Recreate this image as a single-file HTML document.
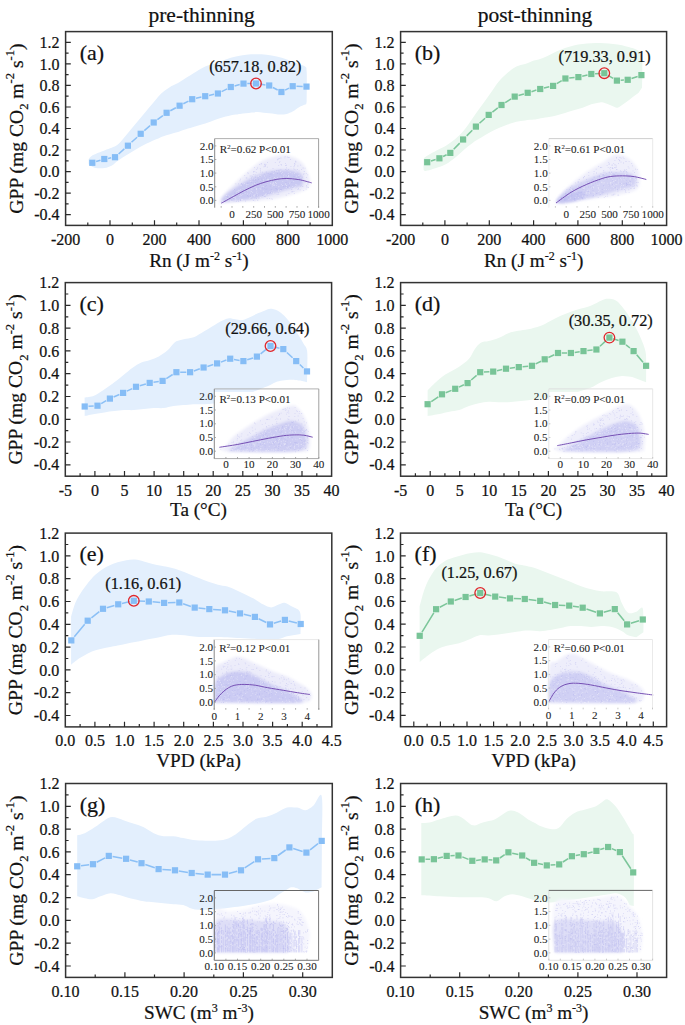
<!DOCTYPE html><html><head><meta charset="utf-8"><style>html,body{margin:0;padding:0;background:#fff;}svg{display:block;}text{stroke:#111;stroke-width:0.22px;}.it{stroke:#222;stroke-width:0.08px;}</style></head><body><svg width="685" height="1025" viewBox="0 0 685 1025" font-family="Liberation Serif, serif">
<rect width="685" height="1025" fill="#fff"/>
<defs><filter id="bl" x="-20%" y="-20%" width="140%" height="140%"><feGaussianBlur stdDeviation="1.6"/></filter><filter id="bl2" x="-20%" y="-20%" width="140%" height="140%"><feGaussianBlur stdDeviation="0.6"/></filter></defs>
<text x="201.6" y="21.9" font-size="21.5" text-anchor="middle" fill="#111">pre-thinning</text>
<text x="535" y="21.9" font-size="21.5" text-anchor="middle" fill="#111">post-thinning</text>
<g>
<path d="M88.6,159.2 C89.3,158.5 90,156.8 92.6,155.3 C95.2,153.8 101.2,151.7 104.4,150.4 C107.6,149.1 109.5,148.6 111.7,147.7 C113.9,146.8 115.5,146.4 117.5,144.8 C119.5,143.2 121.5,140.6 123.4,138.4 C125.4,136.2 127.3,133.7 129.2,131.4 C131.1,129.1 133.1,126.7 135,124.4 C136.9,122.1 139,119.7 140.9,117.4 C142.8,115.1 144.8,112.7 146.7,110.4 C148.6,108.1 150.6,105.7 152.6,103.4 C154.6,101.1 156.5,98.5 158.4,96.4 C160.3,94.4 162.2,92.7 164.2,91.1 C166.1,89.5 168.1,88.2 170.1,87 C172.1,85.8 173.7,85.3 175.9,84.1 C178.1,82.9 180.3,81.6 183.2,79.8 C186.1,78 189.4,75.7 193.1,73.5 C196.8,71.3 201.5,68.3 205.2,66.6 C208.9,64.9 212,64.7 215.4,63.5 C218.8,62.3 222.3,60.6 225.7,59.4 C229.1,58.2 232.5,57.2 235.9,56.4 C239.3,55.6 242.7,55.1 246.1,54.7 C249.5,54.4 252.9,54.3 256.3,54.3 C259.7,54.3 263.1,54.4 266.5,54.7 C269.9,55.1 273.3,55.6 276.7,56.4 C280.1,57.2 283.6,58.2 287,59.4 C290.4,60.6 294.2,62.3 297.2,63.5 C300.2,64.7 303.6,65.4 305.2,66.6 C306.8,67.8 306.3,67.6 306.6,70.7 C306.9,73.8 306.8,79.9 306.8,85 C306.8,90.1 306.7,98.6 306.7,101.3 L306.2,104.2 C305.3,104.5 302.4,105.5 300.7,106.3 C299,107.1 297.4,108.3 296,109.2 C294.6,110.1 294.2,110.7 292.6,111.5 C291.1,112.3 288.6,113.4 286.7,113.9 C284.8,114.4 282.8,114.5 280.9,114.5 C278.9,114.5 276.9,114.1 275,113.9 C273.1,113.7 271.1,113.5 269.2,113.3 C267.3,113.1 265.3,112.9 263.4,112.7 C261.4,112.5 259.4,112.1 257.5,112.1 C255.6,112.1 253.6,112.3 251.7,112.5 C249.8,112.7 247.8,113.1 245.8,113.3 C243.9,113.5 241.7,113.7 240,113.9 C238.3,114.1 238.3,114.1 235.9,114.6 C233.5,115 229.1,115.8 225.7,116.6 C222.3,117.4 218.8,118.5 215.4,119.7 C212,120.9 208.6,122.5 205.2,123.6 C201.8,124.7 198.2,125.6 195,126.5 C191.8,127.4 188.5,128.4 186,129.2 C183.5,130 181.7,130.6 180,131.2 C178.3,131.8 177.6,132.1 175.9,132.6 C174.2,133.1 172.1,133.7 170.1,134.3 C168.1,134.9 166.1,135.4 164.2,136.1 C162.2,136.8 160.3,137.6 158.4,138.4 C156.5,139.2 154.6,139.8 152.6,140.7 C150.6,141.6 148.6,142.6 146.7,143.6 C144.8,144.6 142.8,145.5 140.9,146.6 C139,147.7 136.9,148.9 135,150.1 C133.1,151.3 131.1,152.4 129.2,153.6 C127.3,154.8 125.4,155.9 123.4,157.1 C121.5,158.3 119.4,159.6 117.5,161 C115.6,162.4 114.2,164.3 112,165.5 C109.8,166.7 107.3,167.7 104.4,168.1 C101.5,168.5 97.2,168.3 94.6,167.7 C92,167 89.6,164.8 88.6,164.2 Z" fill="#e3effd"/>
<rect x="214.7" y="138.6" width="103.9" height="69.1" fill="#fff"/>
<path d="M96.1,161.6 L100.5,160.2 M108.1,158.4 L111.2,157.8 M118.6,154 L124.3,148.9 M131.5,142.3 L137.1,137.2 M144.3,130.6 L150.1,125.7 M157.4,119.7 L162.9,115.6 M170.3,110.8 L175.9,107.7 M183.3,103.8 L188.5,101.1 M196,98.3 L201.4,97.1 M209,95.4 L214.1,94.3 M221.6,91.6 L227.1,88.9 M234.6,86 L239.7,84.6 M247.3,83.6 L252.2,83.5 M259.8,84.1 L265.4,84.9 M272.9,87.5 L277.7,90 M285.1,90.1 L289,88.1 M296.5,86.3 L302.7,86.5" stroke="#8cc0f6" stroke-width="1.55" fill="none"/>
<rect x="89.2" y="159.7" width="6.2" height="6.2" fill="#86bdf6"/>
<rect x="101.2" y="155.9" width="6.2" height="6.2" fill="#86bdf6"/>
<rect x="111.9" y="154.1" width="6.2" height="6.2" fill="#86bdf6"/>
<rect x="124.8" y="142.6" width="6.2" height="6.2" fill="#86bdf6"/>
<rect x="137.6" y="130.7" width="6.2" height="6.2" fill="#86bdf6"/>
<rect x="150.6" y="119.4" width="6.2" height="6.2" fill="#86bdf6"/>
<rect x="163.5" y="109.7" width="6.2" height="6.2" fill="#86bdf6"/>
<rect x="176.5" y="102.6" width="6.2" height="6.2" fill="#86bdf6"/>
<rect x="189.1" y="96.1" width="6.2" height="6.2" fill="#86bdf6"/>
<rect x="202.1" y="93.1" width="6.2" height="6.2" fill="#86bdf6"/>
<rect x="214.8" y="90.4" width="6.2" height="6.2" fill="#86bdf6"/>
<rect x="227.7" y="83.9" width="6.2" height="6.2" fill="#86bdf6"/>
<rect x="240.4" y="80.5" width="6.2" height="6.2" fill="#86bdf6"/>
<rect x="252.9" y="80.4" width="6.2" height="6.2" fill="#86bdf6"/>
<rect x="266.1" y="82.4" width="6.2" height="6.2" fill="#86bdf6"/>
<rect x="278.3" y="88.9" width="6.2" height="6.2" fill="#86bdf6"/>
<rect x="289.6" y="83.1" width="6.2" height="6.2" fill="#86bdf6"/>
<rect x="303.4" y="83.5" width="6.2" height="6.2" fill="#86bdf6"/>
<circle cx="256" cy="83.5" r="5.3" fill="none" stroke="#e0262b" stroke-width="1.3"/>
<text x="255.3" y="71.7" font-size="16.3" text-anchor="middle" fill="#111">(657.18, 0.82)</text>
<path d="M219,204 C219.7,202.7 220.8,199 223,196 C225.2,193 228.3,189.7 232,186 C235.7,182.3 240.3,178 245,174 C249.7,170 255.5,164.8 260,162 C264.5,159.2 268,158.2 272,157 C276,155.8 280.2,154.8 284,155 C287.8,155.2 291.8,156.5 295,158 C298.2,159.5 300.8,161.3 303,164 C305.2,166.7 306.8,171 308,174 C309.2,177 310,179.7 310,182 C310,184.3 309.7,186.3 308,188 C306.3,189.7 303,190.8 300,192 C297,193.2 294,193.9 290,195 C286,196.1 281,197.6 276,198.5 C271,199.4 266,200 260,200.5 C254,201 245.8,201.2 240,201.5 C234.2,201.8 227.5,202.3 225,202.5 Z" fill="#ededfa" opacity="1" filter="url(#bl)"/>
<path d="M221.7,198.5 C223,197.3 225.6,194.3 229.5,191.5 C233.4,188.7 239.8,184.4 245,181.5 C250.2,178.6 255.2,175.8 260.4,174 C265.5,172.2 270.7,171.1 275.9,170.5 C281.1,169.9 287.3,170 291.4,170.5 C295.5,171 298.8,171.8 300.7,173.5 C302.6,175.2 303,178.9 303,181 C303,183.1 303.9,184.4 300.7,186 C297.5,187.6 289,189 283.6,190.6 C278.2,192.2 273.4,193.9 268.2,195.3 C263,196.7 257.9,198.2 252.7,199.1 C247.5,200 242.4,200.2 237.2,200.7 C232,201.2 224.3,201.9 221.7,202.2 Z" fill="#c9c9f2" opacity="1" filter="url(#bl)"/>
<path d="M278.2,158.5 h0.8v0.8h-0.8zM267.8,172.9 h0.8v0.8h-0.8zM257.6,195.5 h0.8v0.8h-0.8zM271.5,174.4 h0.8v0.8h-0.8zM297.1,169.2 h0.8v0.8h-0.8zM247.1,195 h0.8v0.8h-0.8zM235.4,183.5 h0.8v0.8h-0.8zM277.1,173.2 h0.8v0.8h-0.8zM280.9,176 h0.8v0.8h-0.8zM247.6,183.7 h0.8v0.8h-0.8zM260.2,169.7 h0.8v0.8h-0.8zM291.3,189.3 h0.8v0.8h-0.8zM241.2,183.1 h0.8v0.8h-0.8zM266.8,197.9 h0.8v0.8h-0.8zM285.4,169.1 h0.8v0.8h-0.8zM257,192.1 h0.8v0.8h-0.8zM288.6,183.1 h0.8v0.8h-0.8zM298.7,170.4 h0.8v0.8h-0.8zM282.3,184.1 h0.8v0.8h-0.8zM271.8,177.4 h0.8v0.8h-0.8zM262.1,187.5 h0.8v0.8h-0.8zM293.8,168.9 h0.8v0.8h-0.8zM254.1,187.8 h0.8v0.8h-0.8zM254.6,197.7 h0.8v0.8h-0.8zM269,198.3 h0.8v0.8h-0.8zM244.3,175.3 h0.8v0.8h-0.8zM251.6,198.3 h0.8v0.8h-0.8zM240.2,178.8 h0.8v0.8h-0.8zM272.6,167.9 h0.8v0.8h-0.8zM252.6,182.8 h0.8v0.8h-0.8zM305.7,188.8 h0.8v0.8h-0.8zM265.9,185.3 h0.8v0.8h-0.8zM280.5,157.6 h0.8v0.8h-0.8zM254.7,174.5 h0.8v0.8h-0.8zM274.9,162.3 h0.8v0.8h-0.8zM261.4,178.7 h0.8v0.8h-0.8zM294.4,162.9 h0.8v0.8h-0.8zM221.1,201.6 h0.8v0.8h-0.8zM267.1,162.2 h0.8v0.8h-0.8zM297.6,189.1 h0.8v0.8h-0.8zM234.2,192.8 h0.8v0.8h-0.8zM267.5,193.2 h0.8v0.8h-0.8zM293.5,191.3 h0.8v0.8h-0.8zM239.6,180.4 h0.8v0.8h-0.8zM242.6,188.9 h0.8v0.8h-0.8zM306,176.9 h0.8v0.8h-0.8zM305.9,172.9 h0.8v0.8h-0.8zM295.5,178.5 h0.8v0.8h-0.8zM278.4,194.2 h0.8v0.8h-0.8zM287.3,178.4 h0.8v0.8h-0.8zM235.2,193.7 h0.8v0.8h-0.8zM249.3,194.2 h0.8v0.8h-0.8zM307.4,174.4 h0.8v0.8h-0.8zM285,163.3 h0.8v0.8h-0.8zM232.3,195.5 h0.8v0.8h-0.8zM308.2,187.2 h0.8v0.8h-0.8zM250.9,181.9 h0.8v0.8h-0.8zM307.4,186.8 h0.8v0.8h-0.8zM258.5,197.7 h0.8v0.8h-0.8zM294.2,165.3 h0.8v0.8h-0.8zM240.9,183.7 h0.8v0.8h-0.8zM230.9,199.6 h0.8v0.8h-0.8zM251.2,177.4 h0.8v0.8h-0.8zM257.3,200 h0.8v0.8h-0.8zM264.7,181.1 h0.8v0.8h-0.8zM259.1,164 h0.8v0.8h-0.8zM285,182.3 h0.8v0.8h-0.8zM248.7,180.4 h0.8v0.8h-0.8zM269.5,193.4 h0.8v0.8h-0.8zM289.3,179.9 h0.8v0.8h-0.8zM270.1,192.2 h0.8v0.8h-0.8zM302,176.7 h0.8v0.8h-0.8zM274.7,179.8 h0.8v0.8h-0.8zM265.6,188.9 h0.8v0.8h-0.8zM260.2,181.1 h0.8v0.8h-0.8zM304.7,167.7 h0.8v0.8h-0.8zM295.4,161.7 h0.8v0.8h-0.8zM233.1,190.1 h0.8v0.8h-0.8zM279.1,162 h0.8v0.8h-0.8zM255.2,178.9 h0.8v0.8h-0.8zM265.9,171.6 h0.8v0.8h-0.8zM284.7,156 h0.8v0.8h-0.8zM269.4,176.6 h0.8v0.8h-0.8zM275.8,180.1 h0.8v0.8h-0.8zM257.4,199.7 h0.8v0.8h-0.8zM293.5,167.7 h0.8v0.8h-0.8zM232.6,200 h0.8v0.8h-0.8zM270.9,189.3 h0.8v0.8h-0.8zM281.6,175.8 h0.8v0.8h-0.8zM225.6,201 h0.8v0.8h-0.8zM276.7,194.3 h0.8v0.8h-0.8zM226.6,197 h0.8v0.8h-0.8zM225.1,197.3 h0.8v0.8h-0.8zM260.3,171.6 h0.8v0.8h-0.8zM266.9,166.7 h0.8v0.8h-0.8zM288.1,169.2 h0.8v0.8h-0.8zM264.5,163.7 h0.8v0.8h-0.8zM285.7,182 h0.8v0.8h-0.8zM293.5,176.2 h0.8v0.8h-0.8zM264,195.9 h0.8v0.8h-0.8zM254.8,179.8 h0.8v0.8h-0.8zM250.2,195.8 h0.8v0.8h-0.8zM283.3,186.2 h0.8v0.8h-0.8zM255.8,172 h0.8v0.8h-0.8zM226.7,196.2 h0.8v0.8h-0.8zM298.2,187.9 h0.8v0.8h-0.8zM245.7,177.5 h0.8v0.8h-0.8zM307.5,181.8 h0.8v0.8h-0.8zM247.2,172.5 h0.8v0.8h-0.8zM262.2,179.6 h0.8v0.8h-0.8zM272.3,180.9 h0.8v0.8h-0.8zM287.3,187.2 h0.8v0.8h-0.8zM254.4,171 h0.8v0.8h-0.8zM284.9,186.5 h0.8v0.8h-0.8zM300.2,185.7 h0.8v0.8h-0.8zM285.8,194.8 h0.8v0.8h-0.8zM264.9,195.9 h0.8v0.8h-0.8zM272.1,198.7 h0.8v0.8h-0.8zM281.1,189 h0.8v0.8h-0.8zM228.5,196 h0.8v0.8h-0.8zM269.8,185.8 h0.8v0.8h-0.8zM276,188.4 h0.8v0.8h-0.8zM291.6,191.7 h0.8v0.8h-0.8zM264.8,181.2 h0.8v0.8h-0.8zM279,158.2 h0.8v0.8h-0.8zM286,167.4 h0.8v0.8h-0.8zM285.4,165.1 h0.8v0.8h-0.8zM263.9,173.7 h0.8v0.8h-0.8zM262.6,188.5 h0.8v0.8h-0.8zM288.8,185.2 h0.8v0.8h-0.8zM277.5,158.8 h0.8v0.8h-0.8zM286.6,169.9 h0.8v0.8h-0.8zM280.2,188.9 h0.8v0.8h-0.8zM280.5,169.3 h0.8v0.8h-0.8zM266,177.8 h0.8v0.8h-0.8zM300.3,164.8 h0.8v0.8h-0.8zM259.9,168.2 h0.8v0.8h-0.8zM238.1,201.3 h0.8v0.8h-0.8zM238.2,183.5 h0.8v0.8h-0.8zM293.6,179.9 h0.8v0.8h-0.8zM299.7,189.5 h0.8v0.8h-0.8zM240.1,199 h0.8v0.8h-0.8zM260,169.8 h0.8v0.8h-0.8zM247.8,196.2 h0.8v0.8h-0.8zM295.4,160.9 h0.8v0.8h-0.8zM303.3,189.9 h0.8v0.8h-0.8zM301,169.2 h0.8v0.8h-0.8zM252.9,174.3 h0.8v0.8h-0.8zM251.8,176 h0.8v0.8h-0.8zM228.3,195.9 h0.8v0.8h-0.8zM245,200.8 h0.8v0.8h-0.8zM265.5,164.3 h0.8v0.8h-0.8zM304.6,181.9 h0.8v0.8h-0.8zM284.5,157.4 h0.8v0.8h-0.8zM285.6,177.1 h0.8v0.8h-0.8zM287.5,186.6 h0.8v0.8h-0.8zM262,171.8 h0.8v0.8h-0.8zM246.1,191.2 h0.8v0.8h-0.8zM278.7,169.7 h0.8v0.8h-0.8zM269.7,174.3 h0.8v0.8h-0.8zM237.9,199.4 h0.8v0.8h-0.8zM264.2,165.8 h0.8v0.8h-0.8zM270.8,198.5 h0.8v0.8h-0.8zM287.2,175.2 h0.8v0.8h-0.8zM256.7,180.7 h0.8v0.8h-0.8zM253.3,171.6 h0.8v0.8h-0.8zM264.8,185.9 h0.8v0.8h-0.8zM297.5,165.6 h0.8v0.8h-0.8zM255.4,176.8 h0.8v0.8h-0.8zM300.5,178.2 h0.8v0.8h-0.8zM254.6,200.4 h0.8v0.8h-0.8zM266.5,188.4 h0.8v0.8h-0.8zM277.9,192.5 h0.8v0.8h-0.8zM260.6,182 h0.8v0.8h-0.8zM240.2,200.1 h0.8v0.8h-0.8zM277.7,169.9 h0.8v0.8h-0.8zM276.9,189.2 h0.8v0.8h-0.8zM266.7,183.6 h0.8v0.8h-0.8zM246.4,177.6 h0.8v0.8h-0.8zM306.3,186.6 h0.8v0.8h-0.8zM299.4,178.3 h0.8v0.8h-0.8zM264.3,188 h0.8v0.8h-0.8zM257.2,167.6 h0.8v0.8h-0.8zM249.8,175.6 h0.8v0.8h-0.8zM281.1,164.7 h0.8v0.8h-0.8zM291.5,191.2 h0.8v0.8h-0.8zM264.9,165.1 h0.8v0.8h-0.8zM293.6,166.3 h0.8v0.8h-0.8zM239.2,192.3 h0.8v0.8h-0.8zM264.1,164.2 h0.8v0.8h-0.8zM303.8,171.1 h0.8v0.8h-0.8zM235.9,200.9 h0.8v0.8h-0.8zM286.9,156.6 h0.8v0.8h-0.8zM279.5,173.6 h0.8v0.8h-0.8zM253,171.3 h0.8v0.8h-0.8zM251.5,195.3 h0.8v0.8h-0.8zM293.8,176.2 h0.8v0.8h-0.8zM252.9,200.1 h0.8v0.8h-0.8zM256.4,194.8 h0.8v0.8h-0.8zM288.8,157 h0.8v0.8h-0.8zM302.7,167.6 h0.8v0.8h-0.8zM306.1,185.2 h0.8v0.8h-0.8zM242.9,190.1 h0.8v0.8h-0.8zM302.4,186.1 h0.8v0.8h-0.8zM254.2,167.3 h0.8v0.8h-0.8zM258.1,179.2 h0.8v0.8h-0.8zM292,191.2 h0.8v0.8h-0.8zM293.9,192.9 h0.8v0.8h-0.8zM274.3,171.1 h0.8v0.8h-0.8zM248.1,172.7 h0.8v0.8h-0.8zM290.2,158.9 h0.8v0.8h-0.8zM237,191.9 h0.8v0.8h-0.8zM283.6,176.9 h0.8v0.8h-0.8zM275.4,188 h0.8v0.8h-0.8zM279.5,160.9 h0.8v0.8h-0.8zM295.5,169.4 h0.8v0.8h-0.8zM270.6,173.3 h0.8v0.8h-0.8zM286.2,164.8 h0.8v0.8h-0.8zM233,198.3 h0.8v0.8h-0.8zM271.6,171 h0.8v0.8h-0.8zM265.2,166.3 h0.8v0.8h-0.8zM292.6,187 h0.8v0.8h-0.8zM262.2,195.1 h0.8v0.8h-0.8zM307.5,183.6 h0.8v0.8h-0.8zM303.6,173.2 h0.8v0.8h-0.8zM297.8,177 h0.8v0.8h-0.8zM242.7,193.1 h0.8v0.8h-0.8zM273.2,185.4 h0.8v0.8h-0.8zM242.2,184.4 h0.8v0.8h-0.8zM278.3,165 h0.8v0.8h-0.8zM280.7,164.1 h0.8v0.8h-0.8zM291.4,181.9 h0.8v0.8h-0.8zM255,182 h0.8v0.8h-0.8zM277.2,159.5 h0.8v0.8h-0.8zM233.9,189.1 h0.8v0.8h-0.8zM256.3,168.9 h0.8v0.8h-0.8zM247.4,182.8 h0.8v0.8h-0.8zM251.5,175.4 h0.8v0.8h-0.8zM285.3,165 h0.8v0.8h-0.8zM257.6,195.2 h0.8v0.8h-0.8zM256,198.3 h0.8v0.8h-0.8zM260.9,163 h0.8v0.8h-0.8zM252.7,179.7 h0.8v0.8h-0.8zM303.3,174 h0.8v0.8h-0.8zM301.3,185.4 h0.8v0.8h-0.8zM294,162.9 h0.8v0.8h-0.8zM290.5,165.9 h0.8v0.8h-0.8zM255.8,196.5 h0.8v0.8h-0.8zM294.5,164 h0.8v0.8h-0.8zM266.1,173.8 h0.8v0.8h-0.8zM287.9,156.9 h0.8v0.8h-0.8zM295.3,160.8 h0.8v0.8h-0.8zM273.6,182 h0.8v0.8h-0.8zM276.1,170 h0.8v0.8h-0.8zM257.2,183.5 h0.8v0.8h-0.8zM257.7,187.3 h0.8v0.8h-0.8zM259.7,176.5 h0.8v0.8h-0.8zM263.5,166.5 h0.8v0.8h-0.8zM288.5,193.2 h0.8v0.8h-0.8zM260.7,163.8 h0.8v0.8h-0.8z" fill="#a8a8ec" opacity="0.45"/>
<path d="M273.4,173.1 h0.8v0.8h-0.8zM262.7,182.5 h0.8v0.8h-0.8zM299,174.8 h0.8v0.8h-0.8zM296.2,175.7 h0.8v0.8h-0.8zM283.2,175.5 h0.8v0.8h-0.8zM294.6,179.2 h0.8v0.8h-0.8zM288,175.1 h0.8v0.8h-0.8zM262.8,180.6 h0.8v0.8h-0.8zM234.8,200.2 h0.8v0.8h-0.8zM235.4,195.4 h0.8v0.8h-0.8zM273.4,181.9 h0.8v0.8h-0.8zM292.7,188.1 h0.8v0.8h-0.8zM272.9,183 h0.8v0.8h-0.8zM286.6,178.9 h0.8v0.8h-0.8zM251,194.7 h0.8v0.8h-0.8zM257.7,176.1 h0.8v0.8h-0.8zM282.2,172 h0.8v0.8h-0.8zM288.4,178.5 h0.8v0.8h-0.8zM269.3,191.5 h0.8v0.8h-0.8zM271.8,184.2 h0.8v0.8h-0.8zM274.8,171.2 h0.8v0.8h-0.8zM239.9,189 h0.8v0.8h-0.8zM269.6,177 h0.8v0.8h-0.8zM272.4,185.6 h0.8v0.8h-0.8zM232.7,200.2 h0.8v0.8h-0.8zM254.4,178.9 h0.8v0.8h-0.8zM267.4,181.6 h0.8v0.8h-0.8zM274.2,184.6 h0.8v0.8h-0.8zM241.9,199.1 h0.8v0.8h-0.8zM254.7,178 h0.8v0.8h-0.8zM226.4,195.2 h0.8v0.8h-0.8zM298.2,175 h0.8v0.8h-0.8zM237.9,189.8 h0.8v0.8h-0.8zM262.9,190.8 h0.8v0.8h-0.8zM287.8,176 h0.8v0.8h-0.8zM225.6,198.7 h0.8v0.8h-0.8zM282.3,185.2 h0.8v0.8h-0.8zM282,184.8 h0.8v0.8h-0.8zM249,194.3 h0.8v0.8h-0.8zM279.6,178.9 h0.8v0.8h-0.8zM266.7,184.3 h0.8v0.8h-0.8zM285.8,187.1 h0.8v0.8h-0.8zM243.3,190.9 h0.8v0.8h-0.8zM300.2,177.4 h0.8v0.8h-0.8zM282.4,180.9 h0.8v0.8h-0.8zM293.3,180.9 h0.8v0.8h-0.8zM241.1,199.3 h0.8v0.8h-0.8zM273,192.5 h0.8v0.8h-0.8zM259.9,197.1 h0.8v0.8h-0.8zM257.2,193.5 h0.8v0.8h-0.8zM268.1,180.3 h0.8v0.8h-0.8zM238.9,190.2 h0.8v0.8h-0.8zM228,199.4 h0.8v0.8h-0.8zM230.4,199.9 h0.8v0.8h-0.8zM278,190.6 h0.8v0.8h-0.8zM251.2,196.4 h0.8v0.8h-0.8zM227.1,198 h0.8v0.8h-0.8zM273,179.6 h0.8v0.8h-0.8zM283.3,177 h0.8v0.8h-0.8zM247.6,183.9 h0.8v0.8h-0.8zM244.7,193.2 h0.8v0.8h-0.8zM251.6,180.7 h0.8v0.8h-0.8zM257.2,195 h0.8v0.8h-0.8zM249.9,192.8 h0.8v0.8h-0.8zM265.4,177.4 h0.8v0.8h-0.8zM291.8,173.4 h0.8v0.8h-0.8zM288.4,175.9 h0.8v0.8h-0.8zM261.7,195.8 h0.8v0.8h-0.8zM249.9,196.9 h0.8v0.8h-0.8zM278.6,186.3 h0.8v0.8h-0.8zM228.3,195.5 h0.8v0.8h-0.8zM272.8,181.8 h0.8v0.8h-0.8zM254.3,183 h0.8v0.8h-0.8zM294.1,173.2 h0.8v0.8h-0.8zM295,186.4 h0.8v0.8h-0.8zM252.5,198.5 h0.8v0.8h-0.8zM240.7,185.1 h0.8v0.8h-0.8zM264.9,194.4 h0.8v0.8h-0.8zM250,180.9 h0.8v0.8h-0.8zM234.3,197.2 h0.8v0.8h-0.8zM284.6,188.9 h0.8v0.8h-0.8zM293.7,178 h0.8v0.8h-0.8zM264.2,175.6 h0.8v0.8h-0.8zM230,201 h0.8v0.8h-0.8zM281.3,184.3 h0.8v0.8h-0.8zM237.7,190.7 h0.8v0.8h-0.8zM254.1,195.6 h0.8v0.8h-0.8zM278.1,186.4 h0.8v0.8h-0.8zM273.1,185.2 h0.8v0.8h-0.8zM233.2,189.6 h0.8v0.8h-0.8zM254.6,194 h0.8v0.8h-0.8zM295.5,184.1 h0.8v0.8h-0.8zM268.4,194.2 h0.8v0.8h-0.8zM255.9,177.7 h0.8v0.8h-0.8zM273.9,184.9 h0.8v0.8h-0.8zM247.1,190.4 h0.8v0.8h-0.8zM272.9,178.4 h0.8v0.8h-0.8zM256.1,184.9 h0.8v0.8h-0.8zM272.2,183.5 h0.8v0.8h-0.8zM236.6,191.2 h0.8v0.8h-0.8zM285,182.8 h0.8v0.8h-0.8zM234.8,195.3 h0.8v0.8h-0.8zM265.7,193.2 h0.8v0.8h-0.8zM263.3,190.8 h0.8v0.8h-0.8zM289.1,187 h0.8v0.8h-0.8zM238.8,192.2 h0.8v0.8h-0.8zM253.6,194.7 h0.8v0.8h-0.8zM244,183.2 h0.8v0.8h-0.8zM255.9,192.6 h0.8v0.8h-0.8zM250.3,178.9 h0.8v0.8h-0.8zM239.9,194 h0.8v0.8h-0.8zM239.5,195.9 h0.8v0.8h-0.8zM232.2,195.1 h0.8v0.8h-0.8zM259.8,188.3 h0.8v0.8h-0.8zM250.4,190.7 h0.8v0.8h-0.8zM259.8,179.8 h0.8v0.8h-0.8zM266.3,174.5 h0.8v0.8h-0.8zM289.5,181.7 h0.8v0.8h-0.8zM290.9,179 h0.8v0.8h-0.8zM252.3,178.5 h0.8v0.8h-0.8zM256.3,176.4 h0.8v0.8h-0.8zM246.2,185.7 h0.8v0.8h-0.8zM256.5,190.7 h0.8v0.8h-0.8zM275.3,182 h0.8v0.8h-0.8zM226.3,196.7 h0.8v0.8h-0.8zM233.1,196.9 h0.8v0.8h-0.8zM222.6,200.7 h0.8v0.8h-0.8zM275,178.4 h0.8v0.8h-0.8zM240.7,195.1 h0.8v0.8h-0.8zM235.4,198.7 h0.8v0.8h-0.8zM237.7,192.5 h0.8v0.8h-0.8zM264.9,194 h0.8v0.8h-0.8zM266.8,178.9 h0.8v0.8h-0.8zM259.7,175.1 h0.8v0.8h-0.8zM261.6,186.3 h0.8v0.8h-0.8zM259.7,188.3 h0.8v0.8h-0.8zM252.2,183.8 h0.8v0.8h-0.8zM273.5,190.7 h0.8v0.8h-0.8zM263.2,185.9 h0.8v0.8h-0.8zM294.7,171.6 h0.8v0.8h-0.8zM280.1,190.3 h0.8v0.8h-0.8zM249.2,197.8 h0.8v0.8h-0.8zM251.5,185.5 h0.8v0.8h-0.8zM264.4,194.9 h0.8v0.8h-0.8zM256,188.1 h0.8v0.8h-0.8zM288.9,179.8 h0.8v0.8h-0.8zM289,183.3 h0.8v0.8h-0.8zM262.7,179.1 h0.8v0.8h-0.8zM248.6,180.6 h0.8v0.8h-0.8zM246,189.1 h0.8v0.8h-0.8zM293.7,187.8 h0.8v0.8h-0.8zM271.8,190.4 h0.8v0.8h-0.8zM278.3,189.4 h0.8v0.8h-0.8zM277.1,177.2 h0.8v0.8h-0.8zM275.9,185 h0.8v0.8h-0.8zM283.7,173.7 h0.8v0.8h-0.8zM275,182.2 h0.8v0.8h-0.8zM267.4,178.7 h0.8v0.8h-0.8zM246.3,183.9 h0.8v0.8h-0.8zM247.6,184.2 h0.8v0.8h-0.8zM287.6,188.7 h0.8v0.8h-0.8zM296.4,184.7 h0.8v0.8h-0.8zM274.1,177.2 h0.8v0.8h-0.8zM231.6,201.1 h0.8v0.8h-0.8zM228.9,198.1 h0.8v0.8h-0.8zM280.2,178.2 h0.8v0.8h-0.8zM281.3,176.4 h0.8v0.8h-0.8zM225.8,195 h0.8v0.8h-0.8zM281,173.2 h0.8v0.8h-0.8zM272.8,193 h0.8v0.8h-0.8zM280,170.9 h0.8v0.8h-0.8zM288.2,173 h0.8v0.8h-0.8zM247,193.6 h0.8v0.8h-0.8zM235.2,197.8 h0.8v0.8h-0.8zM251.6,188.7 h0.8v0.8h-0.8zM257.4,192 h0.8v0.8h-0.8zM233.5,195.8 h0.8v0.8h-0.8zM251.2,190.9 h0.8v0.8h-0.8zM272.9,183.7 h0.8v0.8h-0.8zM253.1,195.4 h0.8v0.8h-0.8zM267.8,179.8 h0.8v0.8h-0.8zM226.6,201.4 h0.8v0.8h-0.8zM248.7,189.7 h0.8v0.8h-0.8zM270.6,180.3 h0.8v0.8h-0.8zM252.3,192.2 h0.8v0.8h-0.8zM287.3,179.5 h0.8v0.8h-0.8zM256,189.1 h0.8v0.8h-0.8zM225.1,196.9 h0.8v0.8h-0.8zM268.2,179.2 h0.8v0.8h-0.8zM238,194.3 h0.8v0.8h-0.8zM297.4,177.9 h0.8v0.8h-0.8zM271,192 h0.8v0.8h-0.8zM259.5,177 h0.8v0.8h-0.8zM242.4,194.3 h0.8v0.8h-0.8zM286.1,185.1 h0.8v0.8h-0.8zM228.8,196.1 h0.8v0.8h-0.8zM284.5,177.9 h0.8v0.8h-0.8zM293.7,187 h0.8v0.8h-0.8zM260.4,189.2 h0.8v0.8h-0.8zM236.4,192.7 h0.8v0.8h-0.8zM251.2,188.4 h0.8v0.8h-0.8zM254.4,186.9 h0.8v0.8h-0.8zM285.7,175.5 h0.8v0.8h-0.8zM270.3,181.4 h0.8v0.8h-0.8zM224.4,201.9 h0.8v0.8h-0.8zM292.1,185.9 h0.8v0.8h-0.8zM267.8,178.8 h0.8v0.8h-0.8zM285,184 h0.8v0.8h-0.8zM295.7,172.5 h0.8v0.8h-0.8zM270.3,183.1 h0.8v0.8h-0.8zM231.4,200.9 h0.8v0.8h-0.8zM242.6,188.4 h0.8v0.8h-0.8zM276.1,183 h0.8v0.8h-0.8zM258.2,175.6 h0.8v0.8h-0.8zM289.8,172 h0.8v0.8h-0.8zM276.7,180 h0.8v0.8h-0.8zM269.8,194.5 h0.8v0.8h-0.8zM260.8,175.8 h0.8v0.8h-0.8zM276.8,170.9 h0.8v0.8h-0.8zM280,176.7 h0.8v0.8h-0.8z" fill="#ffffff" opacity="0.45"/>
<path d="M221.3,203.2 C223.3,202.1 229.5,198.7 233.3,196.6 C237.1,194.5 240.7,192.4 244.3,190.6 C248,188.8 251.6,187 255.2,185.5 C258.8,184 262.4,182.8 266,181.8 C269.6,180.8 273.4,179.9 276.9,179.3 C280.4,178.8 283.1,178.4 286.8,178.5 C290.5,178.6 294.7,178.9 298.8,179.6 C302.9,180.3 309.6,182.3 311.7,182.9" stroke="#7048b0" stroke-width="0.95" fill="none"/>
<path d="M214.7,138.6 V207.7" stroke="#7a7a7a" stroke-width="0.9" fill="none"/>
<path d="M214.7,138.6 H318.6" stroke="#a8a8a8" stroke-width="0.9" fill="none"/>
<path d="M318.6,138.6 V207.7" stroke="#959595" stroke-width="0.9" fill="none"/>
<path d="M214.7,200.4 h1.6 M214.7,186.8 h1.6 M214.7,173.1 h1.6 M214.7,159.5 h1.6 M214.7,145.9 h1.6 M221.2,207.7 v-1.6 M232,207.7 v-1.6 M242.8,207.7 v-1.6 M253.7,207.7 v-1.6 M264.5,207.7 v-1.6 M275.3,207.7 v-1.6 M286.1,207.7 v-1.6 M297,207.7 v-1.6 M307.8,207.7 v-1.6 M318.6,207.7 v-1.6" stroke="#909090" stroke-width="0.8" fill="none"/>
<text x="213.5" y="204.1" font-size="11.1" text-anchor="end" fill="#222" class="it">0.0</text>
<text x="213.5" y="190.5" font-size="11.1" text-anchor="end" fill="#222" class="it">0.5</text>
<text x="213.5" y="176.8" font-size="11.1" text-anchor="end" fill="#222" class="it">1.0</text>
<text x="213.5" y="163.2" font-size="11.1" text-anchor="end" fill="#222" class="it">1.5</text>
<text x="213.5" y="149.6" font-size="11.1" text-anchor="end" fill="#222" class="it">2.0</text>
<text x="232" y="217.5" font-size="11.1" text-anchor="middle" fill="#222" class="it">0</text>
<text x="253.7" y="217.5" font-size="11.1" text-anchor="middle" fill="#222" class="it">250</text>
<text x="275.3" y="217.5" font-size="11.1" text-anchor="middle" fill="#222" class="it">500</text>
<text x="297" y="217.5" font-size="11.1" text-anchor="middle" fill="#222" class="it">750</text>
<text x="318.6" y="217.5" font-size="11.1" text-anchor="middle" fill="#222" class="it">1000</text>
<text x="219.8" y="152.9" font-size="11.1" fill="#222" class="it">R<tspan dy="-3.9" font-size="6.8">2</tspan><tspan dy="3.9">=0.62 P&lt;0.01</tspan></text>
<rect x="65.6" y="31.6" width="266.7" height="193.8" fill="none" stroke="#333" stroke-width="1.5"/>
<path d="M65.6,214.6 h5.2 M65.6,203.9 h3.0 M65.6,193.1 h5.2 M65.6,182.3 h3.0 M65.6,171.6 h5.2 M65.6,160.8 h3.0 M65.6,150 h5.2 M65.6,139.3 h3.0 M65.6,128.5 h5.2 M65.6,117.7 h3.0 M65.6,107 h5.2 M65.6,96.2 h3.0 M65.6,85.4 h5.2 M65.6,74.7 h3.0 M65.6,63.9 h5.2 M65.6,53.1 h3.0 M65.6,42.4 h5.2 M87.8,225.4 v-3.0 M110,225.4 v-5.2 M132.3,225.4 v-3.0 M154.5,225.4 v-5.2 M176.7,225.4 v-3.0 M199,225.4 v-5.2 M221.2,225.4 v-3.0 M243.4,225.4 v-5.2 M265.6,225.4 v-3.0 M287.9,225.4 v-5.2 M310.1,225.4 v-3.0" stroke="#2a2a2a" stroke-width="1.2" fill="none"/>
<text x="59.5" y="220.2" font-size="16" text-anchor="end" fill="#111">-0.4</text>
<text x="59.5" y="198.7" font-size="16" text-anchor="end" fill="#111">-0.2</text>
<text x="59.5" y="177.2" font-size="16" text-anchor="end" fill="#111">0.0</text>
<text x="59.5" y="155.6" font-size="16" text-anchor="end" fill="#111">0.2</text>
<text x="59.5" y="134.1" font-size="16" text-anchor="end" fill="#111">0.4</text>
<text x="59.5" y="112.6" font-size="16" text-anchor="end" fill="#111">0.6</text>
<text x="59.5" y="91" font-size="16" text-anchor="end" fill="#111">0.8</text>
<text x="59.5" y="69.5" font-size="16" text-anchor="end" fill="#111">1.0</text>
<text x="59.5" y="48" font-size="16" text-anchor="end" fill="#111">1.2</text>
<text x="65.6" y="244.7" font-size="16" text-anchor="middle" fill="#111">-200</text>
<text x="110" y="244.7" font-size="16" text-anchor="middle" fill="#111">0</text>
<text x="154.5" y="244.7" font-size="16" text-anchor="middle" fill="#111">200</text>
<text x="199" y="244.7" font-size="16" text-anchor="middle" fill="#111">400</text>
<text x="243.4" y="244.7" font-size="16" text-anchor="middle" fill="#111">600</text>
<text x="287.9" y="244.7" font-size="16" text-anchor="middle" fill="#111">800</text>
<text x="332.3" y="244.7" font-size="16" text-anchor="middle" fill="#111">1000</text>
<text x="198.9" y="266.7" font-size="19.2" text-anchor="middle" fill="#111">Rn (J m<tspan dy="-7" font-size="12">-2</tspan><tspan dy="7"> s</tspan><tspan dy="-7" font-size="12">-1</tspan><tspan dy="7">)</tspan></text>
<text transform="translate(22.7,128.5) rotate(-90)" font-size="19.6" text-anchor="middle" fill="#111">GPP (mg CO<tspan dy="5.5" font-size="12.6">2</tspan><tspan dy="-5.5"> m</tspan><tspan dy="-8.3" font-size="12.6">-2</tspan><tspan dy="8.3"> s</tspan><tspan dy="-8.3" font-size="12.6">-1</tspan><tspan dy="8.3">)</tspan></text>
<text x="79.7" y="59.9" font-size="22" fill="#111">(a)</text>
</g>
<g>
<path d="M423.5,160 C423.8,159.5 423,158.6 425.3,156.9 C427.6,155.2 434,151.8 437.5,149.9 C441,148 443.4,147.3 446.3,145.5 C449.2,143.7 452.1,141.8 455,139.3 C457.9,136.8 460.9,134.1 463.8,130.6 C466.7,127.1 469.7,122.4 472.6,118.3 C475.5,114.2 478.4,110.2 481.3,106.1 C484.2,102 487.2,97.9 490.1,93.8 C493,89.7 495.9,85 498.8,81.5 C501.7,78 504.7,75.3 507.6,72.8 C510.5,70.3 513.5,68.1 516.4,66.6 C519.3,65.1 522.2,65 525.1,64 C528,63 531.6,61.2 533.9,60.5 C536.2,59.8 536.5,60.2 538.8,59.5 C541.1,58.8 544.6,57.3 547.5,56 C550.4,54.7 553.4,52.9 556.3,51.6 C559.2,50.3 562.1,49.1 565,48.1 C567.9,47.1 570.9,46.2 573.8,45.5 C576.7,44.8 579.7,44.5 582.6,44.1 C585.5,43.7 588.4,43.4 591.3,43.2 C594.2,43 597.2,42.9 600.1,42.9 C603,42.9 605.9,43.1 608.8,43.4 C611.7,43.7 614.7,44.1 617.6,44.6 C620.5,45.1 623.5,45.7 626.4,46.4 C629.3,47.1 632.8,48 635.1,49 C637.4,50 639.2,51 640.4,52.5 C641.6,54 641.8,54.5 642.1,57.8 C642.4,61 642.3,67 642.3,72 C642.3,77 642.1,85 642.1,87.6 L638.6,92.8 C637.4,93.7 633.9,96.3 631.6,98.1 C629.3,99.8 626.9,101.7 624.6,103.3 C622.3,104.9 619.7,107.2 617.6,107.7 C615.5,108.2 614.3,106.7 612.3,106 C610.2,105.3 607.3,103.9 605.3,103.3 C603.3,102.7 602.4,102.2 600.1,102.4 C597.8,102.6 594.2,103.3 591.3,104.2 C588.4,105.1 585.5,106.7 582.6,107.7 C579.7,108.7 576.7,109.4 573.8,110.3 C570.9,111.2 567.9,112.1 565,113 C562.1,113.9 559.2,114.9 556.3,115.6 C553.4,116.3 550.4,116.8 547.5,117.3 C544.6,117.8 541.1,118.3 538.8,118.7 C536.5,119.1 536.2,119.3 533.9,119.6 C531.6,119.9 528,120 525.1,120.4 C522.2,120.8 519.3,121.1 516.4,121.8 C513.5,122.5 510.5,123.5 507.6,124.5 C504.7,125.5 501.7,126.7 498.8,128 C495.9,129.3 493,130.7 490.1,132.3 C487.2,133.9 484.2,135.8 481.3,137.6 C478.4,139.4 475.5,140.8 472.6,142.9 C469.7,145 466.7,147.4 463.8,149.9 C460.9,152.4 457.9,155.4 455,157.7 C452.1,160 449.2,162.3 446.3,163.9 C443.4,165.5 441,166.2 437.5,167.4 C434,168.6 427.6,170.8 425.3,170.9 C423,171 423.8,168.5 423.5,168 Z" fill="#eaf7ef"/>
<rect x="548.9" y="138.6" width="103.8" height="69.1" fill="#fff"/>
<path d="M431,161 L435.6,159.5 M443.1,156.5 L446.6,154.7 M453.7,149.3 L459.7,143.1 M466.7,135.9 L472.3,130.2 M479.5,123.3 L485.1,118.2 M492.4,112.1 L497.8,107.8 M505.2,102.7 L511,98.9 M518.5,95.5 L523.9,93.9 M531.5,91.7 L536.4,90.1 M544,88.1 L549.3,86.8 M556.8,83.7 L561.7,80.7 M569.2,78.1 L574.6,77.5 M582.2,76.2 L587.5,74.9 M595.1,73.8 L600.5,73.4 M608,75.4 L613.2,78.4 M620.7,80.3 L623.9,80.1 M631.5,78.5 L637.6,76.4" stroke="#7cc69a" stroke-width="1.55" fill="none"/>
<rect x="424.1" y="159.1" width="6.2" height="6.2" fill="#78c497"/>
<rect x="436.3" y="155.2" width="6.2" height="6.2" fill="#78c497"/>
<rect x="447.2" y="149.8" width="6.2" height="6.2" fill="#78c497"/>
<rect x="460" y="136.4" width="6.2" height="6.2" fill="#78c497"/>
<rect x="472.8" y="123.5" width="6.2" height="6.2" fill="#78c497"/>
<rect x="485.6" y="111.8" width="6.2" height="6.2" fill="#78c497"/>
<rect x="498.4" y="101.9" width="6.2" height="6.2" fill="#78c497"/>
<rect x="511.6" y="93.5" width="6.2" height="6.2" fill="#78c497"/>
<rect x="524.6" y="89.7" width="6.2" height="6.2" fill="#78c497"/>
<rect x="537.1" y="85.9" width="6.2" height="6.2" fill="#78c497"/>
<rect x="550" y="82.8" width="6.2" height="6.2" fill="#78c497"/>
<rect x="562.3" y="75.4" width="6.2" height="6.2" fill="#78c497"/>
<rect x="575.3" y="74" width="6.2" height="6.2" fill="#78c497"/>
<rect x="588.2" y="70.9" width="6.2" height="6.2" fill="#78c497"/>
<rect x="601.2" y="70.1" width="6.2" height="6.2" fill="#78c497"/>
<rect x="613.8" y="77.5" width="6.2" height="6.2" fill="#78c497"/>
<rect x="624.6" y="76.7" width="6.2" height="6.2" fill="#78c497"/>
<rect x="638.3" y="72" width="6.2" height="6.2" fill="#78c497"/>
<circle cx="604.3" cy="73.2" r="5.3" fill="none" stroke="#e0262b" stroke-width="1.3"/>
<text x="604.6" y="61.8" font-size="16.3" text-anchor="middle" fill="#111">(719.33, 0.91)</text>
<path d="M556,203 C556.7,201.8 557.5,199.1 560,196 C562.5,192.9 566.8,188.4 571.2,184.4 C575.7,180.4 581.5,175.6 586.7,172 C591.9,168.4 597.6,165.6 602.2,162.8 C606.8,160 610.6,156 614.5,155 C618.4,154 622,155 625.4,156.6 C628.8,158.2 632.4,161.5 634.7,164.3 C637,167.1 638.5,170.2 639.3,173.6 C640.1,176.9 640.1,181.6 639.3,184.4 C638.5,187.2 638.3,188.8 634.7,190.6 C631.1,192.4 623,194.1 617.6,195.3 C612.2,196.5 607.4,197 602.2,197.6 C597.1,198.2 591.9,198.6 586.7,199.1 C581.5,199.6 576.1,200.2 571.2,200.7 C566.3,201.2 559.6,201.9 557.3,202.2 Z" fill="#efeffb" opacity="1" filter="url(#bl)"/>
<path d="M556,201 C557.5,199.3 561.8,193.7 565,191 C568.2,188.3 570.8,187.2 575,185 C579.2,182.8 585,180 590,178 C595,176 600,174 605,173 C610,172 615.5,171.8 620,172 C624.5,172.2 629.3,172.7 632,174 C634.7,175.3 635.7,178 636,180 C636.3,182 636.7,184.3 634,186 C631.3,187.7 624.8,188.7 620,190 C615.2,191.3 610,192.7 605,194 C600,195.3 595,196.8 590,198 C585,199.2 579.7,200.1 575,201 C570.3,201.9 564.2,203.1 562,203.5 Z" fill="#d2d2f4" opacity="1" filter="url(#bl)"/>
<path d="M556,203 C556.7,202.2 557.7,199.7 560,198 C562.3,196.3 566.7,194.2 570,193 C573.3,191.8 577.5,190.5 580,191 C582.5,191.5 585.8,194.3 585,196 C584.2,197.7 576.7,200.2 575,201 Z" fill="#c4c4f1" opacity="1" filter="url(#bl)"/>
<path d="M559,199.5 h0.8v0.8h-0.8zM574.4,199.8 h0.8v0.8h-0.8zM564.1,199.6 h0.8v0.8h-0.8zM626.2,185.2 h0.8v0.8h-0.8zM593.7,171.3 h0.8v0.8h-0.8zM624.6,177.9 h0.8v0.8h-0.8zM608.3,161.9 h0.8v0.8h-0.8zM615.5,181.6 h0.8v0.8h-0.8zM568.1,196.8 h0.8v0.8h-0.8zM625.9,171.1 h0.8v0.8h-0.8zM582.5,198.4 h0.8v0.8h-0.8zM560.7,198 h0.8v0.8h-0.8zM611.7,165.1 h0.8v0.8h-0.8zM595.8,168.7 h0.8v0.8h-0.8zM616.5,169.1 h0.8v0.8h-0.8zM623.2,171.4 h0.8v0.8h-0.8zM625.3,180.3 h0.8v0.8h-0.8zM632,165.5 h0.8v0.8h-0.8zM571,192 h0.8v0.8h-0.8zM615.3,164.4 h0.8v0.8h-0.8zM606.7,178.8 h0.8v0.8h-0.8zM607,189 h0.8v0.8h-0.8zM623.6,183 h0.8v0.8h-0.8zM617,174.6 h0.8v0.8h-0.8zM616.1,157.7 h0.8v0.8h-0.8zM623.5,171.1 h0.8v0.8h-0.8zM631.8,177.9 h0.8v0.8h-0.8zM628.6,167.8 h0.8v0.8h-0.8zM571.5,194.9 h0.8v0.8h-0.8zM586.9,183.6 h0.8v0.8h-0.8zM593.1,179.8 h0.8v0.8h-0.8zM582.7,189.1 h0.8v0.8h-0.8zM587.8,191.1 h0.8v0.8h-0.8zM561.1,196.9 h0.8v0.8h-0.8zM635.5,178.8 h0.8v0.8h-0.8zM598.8,180.5 h0.8v0.8h-0.8zM576.9,194.2 h0.8v0.8h-0.8zM614.2,164.4 h0.8v0.8h-0.8zM604,180.1 h0.8v0.8h-0.8zM614.5,159.9 h0.8v0.8h-0.8zM628.4,189.4 h0.8v0.8h-0.8zM597.1,179 h0.8v0.8h-0.8zM605.3,196.3 h0.8v0.8h-0.8zM618.2,162.9 h0.8v0.8h-0.8zM588.4,175.2 h0.8v0.8h-0.8zM625.9,180.2 h0.8v0.8h-0.8zM620.7,171.3 h0.8v0.8h-0.8zM608.7,172.5 h0.8v0.8h-0.8zM592.1,179.2 h0.8v0.8h-0.8zM634,185.4 h0.8v0.8h-0.8zM609.4,167.8 h0.8v0.8h-0.8zM612.5,168.1 h0.8v0.8h-0.8zM607.8,167 h0.8v0.8h-0.8zM599.3,175.8 h0.8v0.8h-0.8zM635.2,168.8 h0.8v0.8h-0.8zM581.4,186.1 h0.8v0.8h-0.8zM635.6,179.7 h0.8v0.8h-0.8zM626,184.3 h0.8v0.8h-0.8zM603.5,186.2 h0.8v0.8h-0.8zM572.8,189.1 h0.8v0.8h-0.8zM594.4,181.3 h0.8v0.8h-0.8zM607,177.5 h0.8v0.8h-0.8zM587.9,183.1 h0.8v0.8h-0.8zM627.8,166.4 h0.8v0.8h-0.8zM602.4,178.6 h0.8v0.8h-0.8zM580.6,192.1 h0.8v0.8h-0.8zM628.6,176.1 h0.8v0.8h-0.8zM592.6,190.3 h0.8v0.8h-0.8zM585.4,187.4 h0.8v0.8h-0.8zM607.3,195.8 h0.8v0.8h-0.8zM624.4,179.9 h0.8v0.8h-0.8zM617.5,190.7 h0.8v0.8h-0.8zM619.3,177.8 h0.8v0.8h-0.8zM621.4,189 h0.8v0.8h-0.8zM619.8,183.1 h0.8v0.8h-0.8zM603.6,175.1 h0.8v0.8h-0.8zM606.6,173.2 h0.8v0.8h-0.8zM593.7,177 h0.8v0.8h-0.8zM616.2,169.1 h0.8v0.8h-0.8zM588.5,181.7 h0.8v0.8h-0.8zM597.6,176.3 h0.8v0.8h-0.8zM632.6,170.5 h0.8v0.8h-0.8zM603.1,178.9 h0.8v0.8h-0.8zM599.1,179.8 h0.8v0.8h-0.8zM613.1,173.7 h0.8v0.8h-0.8zM585.8,183.5 h0.8v0.8h-0.8zM612.4,180.2 h0.8v0.8h-0.8zM589.4,181.9 h0.8v0.8h-0.8zM603.8,197.2 h0.8v0.8h-0.8zM636.3,178.4 h0.8v0.8h-0.8zM592.7,185 h0.8v0.8h-0.8zM600.2,194.2 h0.8v0.8h-0.8zM630.5,188.1 h0.8v0.8h-0.8zM630,175.2 h0.8v0.8h-0.8zM598.6,179.2 h0.8v0.8h-0.8zM608.5,184 h0.8v0.8h-0.8zM590.3,192.8 h0.8v0.8h-0.8zM581.6,188.2 h0.8v0.8h-0.8zM626.2,183.1 h0.8v0.8h-0.8zM611.7,164.4 h0.8v0.8h-0.8zM597.5,181.6 h0.8v0.8h-0.8zM578.2,186 h0.8v0.8h-0.8zM603.9,174.7 h0.8v0.8h-0.8zM619.3,160.1 h0.8v0.8h-0.8zM599.5,194.5 h0.8v0.8h-0.8zM607.1,193.7 h0.8v0.8h-0.8zM620.2,170.5 h0.8v0.8h-0.8zM615.6,172 h0.8v0.8h-0.8zM564.3,198.4 h0.8v0.8h-0.8zM604.5,171.7 h0.8v0.8h-0.8zM593.5,173.5 h0.8v0.8h-0.8zM560.6,197.7 h0.8v0.8h-0.8zM592.6,184.8 h0.8v0.8h-0.8zM582.2,198.1 h0.8v0.8h-0.8zM624,169.6 h0.8v0.8h-0.8zM615.8,165.6 h0.8v0.8h-0.8zM581.8,197 h0.8v0.8h-0.8zM596.3,193.1 h0.8v0.8h-0.8zM636.9,169 h0.8v0.8h-0.8zM600.5,173.5 h0.8v0.8h-0.8zM566.3,194.6 h0.8v0.8h-0.8zM611.3,171.4 h0.8v0.8h-0.8zM569,188.9 h0.8v0.8h-0.8zM625.6,161.1 h0.8v0.8h-0.8zM592.9,195.1 h0.8v0.8h-0.8zM623.1,162.6 h0.8v0.8h-0.8zM585.4,189.7 h0.8v0.8h-0.8zM598.1,165.9 h0.8v0.8h-0.8zM614.8,167.5 h0.8v0.8h-0.8zM630.9,183.2 h0.8v0.8h-0.8zM606.7,165.2 h0.8v0.8h-0.8zM628.7,160.9 h0.8v0.8h-0.8zM598.7,181 h0.8v0.8h-0.8zM578.5,192 h0.8v0.8h-0.8zM588.1,186.6 h0.8v0.8h-0.8zM603.3,169.9 h0.8v0.8h-0.8zM570.7,195.8 h0.8v0.8h-0.8zM582.7,186.8 h0.8v0.8h-0.8zM586.1,179 h0.8v0.8h-0.8zM566.5,189.4 h0.8v0.8h-0.8zM611.3,171.9 h0.8v0.8h-0.8zM590.4,186.6 h0.8v0.8h-0.8zM614.2,166.9 h0.8v0.8h-0.8zM626.5,171.9 h0.8v0.8h-0.8zM608.4,163.7 h0.8v0.8h-0.8zM565.6,198.8 h0.8v0.8h-0.8zM617.1,189.2 h0.8v0.8h-0.8zM609.2,163.6 h0.8v0.8h-0.8zM625.9,182.4 h0.8v0.8h-0.8zM615.7,167.2 h0.8v0.8h-0.8zM592.2,187.8 h0.8v0.8h-0.8zM625.5,192.3 h0.8v0.8h-0.8zM627.2,184.2 h0.8v0.8h-0.8zM565.3,193 h0.8v0.8h-0.8zM573.5,198.9 h0.8v0.8h-0.8zM618.4,159.1 h0.8v0.8h-0.8zM613.9,173.9 h0.8v0.8h-0.8zM618.3,194.8 h0.8v0.8h-0.8zM634.8,175.4 h0.8v0.8h-0.8zM633.5,188.2 h0.8v0.8h-0.8zM617.5,194.8 h0.8v0.8h-0.8zM608.3,176.7 h0.8v0.8h-0.8zM591.7,179.6 h0.8v0.8h-0.8zM619.5,157.1 h0.8v0.8h-0.8zM614.5,193.7 h0.8v0.8h-0.8zM577.8,181.2 h0.8v0.8h-0.8zM636.8,185.6 h0.8v0.8h-0.8zM601.3,167 h0.8v0.8h-0.8zM614.9,187.2 h0.8v0.8h-0.8zM598.9,176.4 h0.8v0.8h-0.8zM634,171.9 h0.8v0.8h-0.8zM580.9,197.5 h0.8v0.8h-0.8zM583.8,194.1 h0.8v0.8h-0.8zM601.7,191.5 h0.8v0.8h-0.8zM570.1,187 h0.8v0.8h-0.8zM605.9,177.1 h0.8v0.8h-0.8zM572.4,188.7 h0.8v0.8h-0.8zM583,177.5 h0.8v0.8h-0.8zM637.7,182.1 h0.8v0.8h-0.8zM632.6,185.9 h0.8v0.8h-0.8zM610.4,167.1 h0.8v0.8h-0.8zM625.9,169.2 h0.8v0.8h-0.8zM571.5,185.6 h0.8v0.8h-0.8zM570,192.7 h0.8v0.8h-0.8zM625.2,190.6 h0.8v0.8h-0.8zM624.7,170.4 h0.8v0.8h-0.8zM586.7,181.5 h0.8v0.8h-0.8zM586.8,194.9 h0.8v0.8h-0.8zM603.2,185.2 h0.8v0.8h-0.8zM624.3,188.9 h0.8v0.8h-0.8zM597.2,179 h0.8v0.8h-0.8zM613.3,162.9 h0.8v0.8h-0.8zM621.6,175.4 h0.8v0.8h-0.8zM579.6,186.8 h0.8v0.8h-0.8zM598.9,175.2 h0.8v0.8h-0.8zM584.2,176.1 h0.8v0.8h-0.8zM611.5,194.7 h0.8v0.8h-0.8zM631.3,162.9 h0.8v0.8h-0.8zM602.9,171.7 h0.8v0.8h-0.8zM583,177.1 h0.8v0.8h-0.8zM636.1,184.8 h0.8v0.8h-0.8zM623.6,157.9 h0.8v0.8h-0.8zM612.3,184.2 h0.8v0.8h-0.8zM580.7,182.4 h0.8v0.8h-0.8zM635.4,178.1 h0.8v0.8h-0.8zM609.9,169.4 h0.8v0.8h-0.8zM584.6,197.5 h0.8v0.8h-0.8zM612.5,176.5 h0.8v0.8h-0.8zM587,182.9 h0.8v0.8h-0.8zM590.7,180.4 h0.8v0.8h-0.8zM603,174 h0.8v0.8h-0.8zM630.1,181.3 h0.8v0.8h-0.8zM565.4,196.4 h0.8v0.8h-0.8zM600.2,167.1 h0.8v0.8h-0.8zM596.8,181.6 h0.8v0.8h-0.8zM574.9,182.5 h0.8v0.8h-0.8zM592.6,196.4 h0.8v0.8h-0.8zM601.9,189.3 h0.8v0.8h-0.8zM619,160.5 h0.8v0.8h-0.8zM564.5,194.9 h0.8v0.8h-0.8zM636,182 h0.8v0.8h-0.8zM620.6,161.6 h0.8v0.8h-0.8zM620.7,157.8 h0.8v0.8h-0.8zM614.9,175.4 h0.8v0.8h-0.8zM630,184.8 h0.8v0.8h-0.8zM628.6,182 h0.8v0.8h-0.8zM570,190.8 h0.8v0.8h-0.8zM584.4,191.7 h0.8v0.8h-0.8zM612.7,194.6 h0.8v0.8h-0.8zM616.1,157.1 h0.8v0.8h-0.8zM601.7,193.5 h0.8v0.8h-0.8zM565.4,199.4 h0.8v0.8h-0.8zM612.2,167.2 h0.8v0.8h-0.8zM625.8,182.9 h0.8v0.8h-0.8zM565.2,193.4 h0.8v0.8h-0.8zM580.2,188 h0.8v0.8h-0.8zM628.9,180.8 h0.8v0.8h-0.8zM613.4,193.8 h0.8v0.8h-0.8zM597.8,196.9 h0.8v0.8h-0.8zM622.7,156.7 h0.8v0.8h-0.8zM571.2,194.3 h0.8v0.8h-0.8zM612.6,173.8 h0.8v0.8h-0.8zM626.4,173.9 h0.8v0.8h-0.8zM628.7,184.3 h0.8v0.8h-0.8zM574,197.9 h0.8v0.8h-0.8zM595,182.7 h0.8v0.8h-0.8zM588.3,172 h0.8v0.8h-0.8zM611.9,168.1 h0.8v0.8h-0.8zM578.8,179 h0.8v0.8h-0.8zM577.8,182.3 h0.8v0.8h-0.8zM602.7,192 h0.8v0.8h-0.8zM628.7,192.2 h0.8v0.8h-0.8zM608.7,185.5 h0.8v0.8h-0.8zM634.2,187.7 h0.8v0.8h-0.8zM581.3,191.6 h0.8v0.8h-0.8zM617.6,179.4 h0.8v0.8h-0.8zM608.9,171.8 h0.8v0.8h-0.8zM601.9,174.5 h0.8v0.8h-0.8zM596.1,172.6 h0.8v0.8h-0.8zM593.7,176.4 h0.8v0.8h-0.8z" fill="#a8a8ec" opacity="0.45"/>
<path d="M601.5,181.5 h0.8v0.8h-0.8zM614.1,189.4 h0.8v0.8h-0.8zM631,182.7 h0.8v0.8h-0.8zM584.6,196.4 h0.8v0.8h-0.8zM627.9,180.7 h0.8v0.8h-0.8zM612.4,178.9 h0.8v0.8h-0.8zM607.8,178.2 h0.8v0.8h-0.8zM604.1,174.5 h0.8v0.8h-0.8zM571.1,188.9 h0.8v0.8h-0.8zM629.8,178.7 h0.8v0.8h-0.8zM582.1,195.6 h0.8v0.8h-0.8zM607.9,184.8 h0.8v0.8h-0.8zM610.3,182.6 h0.8v0.8h-0.8zM582.8,187.6 h0.8v0.8h-0.8zM603.8,180.1 h0.8v0.8h-0.8zM617.4,174.8 h0.8v0.8h-0.8zM621.1,185.3 h0.8v0.8h-0.8zM599.1,190.5 h0.8v0.8h-0.8zM600.4,192.7 h0.8v0.8h-0.8zM604.1,182.4 h0.8v0.8h-0.8zM615.3,180.1 h0.8v0.8h-0.8zM618.1,181.7 h0.8v0.8h-0.8zM592.3,180.8 h0.8v0.8h-0.8zM594.1,192.6 h0.8v0.8h-0.8zM617.9,183.4 h0.8v0.8h-0.8zM635.2,179.2 h0.8v0.8h-0.8zM616.5,174.8 h0.8v0.8h-0.8zM600.4,177.7 h0.8v0.8h-0.8zM631.2,183.5 h0.8v0.8h-0.8zM618.2,179.6 h0.8v0.8h-0.8zM606.9,182.8 h0.8v0.8h-0.8zM620,186.5 h0.8v0.8h-0.8zM564.6,195.1 h0.8v0.8h-0.8zM577,185.7 h0.8v0.8h-0.8zM573.3,189.9 h0.8v0.8h-0.8zM568.5,199.2 h0.8v0.8h-0.8zM625.5,180.4 h0.8v0.8h-0.8zM568.9,193.5 h0.8v0.8h-0.8zM603.8,186.3 h0.8v0.8h-0.8zM572.8,199.8 h0.8v0.8h-0.8zM584.8,196.6 h0.8v0.8h-0.8zM625.1,177.7 h0.8v0.8h-0.8zM564.9,202.7 h0.8v0.8h-0.8zM556.8,200.7 h0.8v0.8h-0.8zM568.1,195.2 h0.8v0.8h-0.8zM610.6,174.8 h0.8v0.8h-0.8zM574.8,197 h0.8v0.8h-0.8zM611.2,173.2 h0.8v0.8h-0.8zM596.4,179.3 h0.8v0.8h-0.8zM581.3,199.7 h0.8v0.8h-0.8zM570.3,193.6 h0.8v0.8h-0.8zM567.8,195.3 h0.8v0.8h-0.8zM584.3,187.6 h0.8v0.8h-0.8zM629.5,183 h0.8v0.8h-0.8zM588.6,189.5 h0.8v0.8h-0.8zM599.5,189.3 h0.8v0.8h-0.8zM587.9,182 h0.8v0.8h-0.8zM587,184.1 h0.8v0.8h-0.8zM576.4,191.2 h0.8v0.8h-0.8zM628.7,173.6 h0.8v0.8h-0.8zM611.5,182.2 h0.8v0.8h-0.8zM607.7,189.3 h0.8v0.8h-0.8zM624.3,188.1 h0.8v0.8h-0.8zM574.8,191.8 h0.8v0.8h-0.8zM615.5,183.9 h0.8v0.8h-0.8zM613,184.4 h0.8v0.8h-0.8zM598.1,191.3 h0.8v0.8h-0.8zM610.2,182.1 h0.8v0.8h-0.8zM606.3,189.1 h0.8v0.8h-0.8zM573.9,191.3 h0.8v0.8h-0.8zM593.9,194.7 h0.8v0.8h-0.8zM597.8,187 h0.8v0.8h-0.8zM597.9,188.6 h0.8v0.8h-0.8zM621.1,179.5 h0.8v0.8h-0.8zM569.8,197.9 h0.8v0.8h-0.8zM592.8,192.2 h0.8v0.8h-0.8zM625.4,173.4 h0.8v0.8h-0.8zM586.5,198.2 h0.8v0.8h-0.8zM621.4,175.9 h0.8v0.8h-0.8zM620.3,188.4 h0.8v0.8h-0.8zM611.6,186.2 h0.8v0.8h-0.8zM616.7,176.7 h0.8v0.8h-0.8zM610.4,183.6 h0.8v0.8h-0.8zM597.7,179.5 h0.8v0.8h-0.8zM585.7,182.7 h0.8v0.8h-0.8zM572.1,190 h0.8v0.8h-0.8zM613.5,180.6 h0.8v0.8h-0.8zM622.7,174.9 h0.8v0.8h-0.8zM591.4,183.6 h0.8v0.8h-0.8zM613,181.3 h0.8v0.8h-0.8zM588.6,192.4 h0.8v0.8h-0.8zM620.9,183.1 h0.8v0.8h-0.8zM586.8,190.2 h0.8v0.8h-0.8zM630,178 h0.8v0.8h-0.8zM585.8,193 h0.8v0.8h-0.8zM616.5,184 h0.8v0.8h-0.8zM598.1,187.6 h0.8v0.8h-0.8zM593,186.6 h0.8v0.8h-0.8zM623.2,185.1 h0.8v0.8h-0.8zM591.2,187.5 h0.8v0.8h-0.8zM610.4,189.4 h0.8v0.8h-0.8zM562.2,197.8 h0.8v0.8h-0.8zM616.3,189.8 h0.8v0.8h-0.8zM612.9,187.2 h0.8v0.8h-0.8zM589.4,190.4 h0.8v0.8h-0.8zM625.8,176.6 h0.8v0.8h-0.8zM582.7,188.3 h0.8v0.8h-0.8zM596.9,185.2 h0.8v0.8h-0.8zM624.5,180.1 h0.8v0.8h-0.8zM598.9,183.8 h0.8v0.8h-0.8zM593.1,187.4 h0.8v0.8h-0.8zM602.7,183.5 h0.8v0.8h-0.8zM620.1,178.3 h0.8v0.8h-0.8zM598.6,184.9 h0.8v0.8h-0.8zM601.2,182.2 h0.8v0.8h-0.8zM577.9,197.1 h0.8v0.8h-0.8zM579.3,194.4 h0.8v0.8h-0.8zM607.1,173.5 h0.8v0.8h-0.8zM625,174.3 h0.8v0.8h-0.8zM603.7,177.7 h0.8v0.8h-0.8zM620.1,187.7 h0.8v0.8h-0.8zM623.1,176.6 h0.8v0.8h-0.8zM629.4,178.5 h0.8v0.8h-0.8zM589.2,192.8 h0.8v0.8h-0.8zM576.6,200.5 h0.8v0.8h-0.8zM610.9,176.9 h0.8v0.8h-0.8zM559.3,198.3 h0.8v0.8h-0.8zM602.6,182 h0.8v0.8h-0.8zM600.8,176.9 h0.8v0.8h-0.8zM629,182.2 h0.8v0.8h-0.8zM623.3,176.8 h0.8v0.8h-0.8zM586.4,192.2 h0.8v0.8h-0.8zM573.9,189.2 h0.8v0.8h-0.8zM614.3,185.5 h0.8v0.8h-0.8zM610.3,175.6 h0.8v0.8h-0.8zM622.3,175.8 h0.8v0.8h-0.8zM616,187.6 h0.8v0.8h-0.8zM630.4,174.9 h0.8v0.8h-0.8zM603.8,189 h0.8v0.8h-0.8zM577.7,200.1 h0.8v0.8h-0.8zM623.6,179.2 h0.8v0.8h-0.8zM608.5,173.6 h0.8v0.8h-0.8zM582.7,186.2 h0.8v0.8h-0.8zM575.8,195.4 h0.8v0.8h-0.8zM570.3,196.8 h0.8v0.8h-0.8zM600.7,175 h0.8v0.8h-0.8zM603.6,186.5 h0.8v0.8h-0.8zM563.8,192.4 h0.8v0.8h-0.8zM566.6,190.2 h0.8v0.8h-0.8zM584.2,183.8 h0.8v0.8h-0.8z" fill="#ffffff" opacity="0.45"/>
<path d="M556,203 C558.5,201.2 566.1,195.3 571.2,192.2 C576.3,189.1 581.5,186.7 586.7,184.4 C591.9,182.1 597.8,179.9 602.2,178.5 C606.6,177.1 609.1,176.6 613,176.2 C616.9,175.8 621.8,175.8 625.4,175.9 C629,176 631.2,176.1 634.7,176.7 C638.2,177.3 644.4,179 646.3,179.5" stroke="#7048b0" stroke-width="0.95" fill="none"/>
<path d="M548.9,138.6 V207.7" stroke="#ececec" stroke-width="0.9" fill="none"/>
<path d="M548.9,138.6 H652.7" stroke="#c8c8c8" stroke-width="0.9" fill="none"/>
<path d="M652.7,138.6 V207.7" stroke="#e6e6e6" stroke-width="0.9" fill="none"/>
<path d="M548.9,200.4 h1.6 M548.9,186.8 h1.6 M548.9,173.1 h1.6 M548.9,159.5 h1.6 M548.9,145.9 h1.6 M555.4,207.7 v-1.6 M566.2,207.7 v-1.6 M577,207.7 v-1.6 M587.8,207.7 v-1.6 M598.6,207.7 v-1.6 M609.5,207.7 v-1.6 M620.3,207.7 v-1.6 M631.1,207.7 v-1.6 M641.9,207.7 v-1.6 M652.7,207.7 v-1.6" stroke="#bbbbbb" stroke-width="0.8" fill="none"/>
<text x="547.7" y="204.1" font-size="11.1" text-anchor="end" fill="#222" class="it">0.0</text>
<text x="547.7" y="190.5" font-size="11.1" text-anchor="end" fill="#222" class="it">0.5</text>
<text x="547.7" y="176.8" font-size="11.1" text-anchor="end" fill="#222" class="it">1.0</text>
<text x="547.7" y="163.2" font-size="11.1" text-anchor="end" fill="#222" class="it">1.5</text>
<text x="547.7" y="149.6" font-size="11.1" text-anchor="end" fill="#222" class="it">2.0</text>
<text x="566.2" y="217.5" font-size="11.1" text-anchor="middle" fill="#222" class="it">0</text>
<text x="587.8" y="217.5" font-size="11.1" text-anchor="middle" fill="#222" class="it">250</text>
<text x="609.5" y="217.5" font-size="11.1" text-anchor="middle" fill="#222" class="it">500</text>
<text x="631.1" y="217.5" font-size="11.1" text-anchor="middle" fill="#222" class="it">750</text>
<text x="652.7" y="217.5" font-size="11.1" text-anchor="middle" fill="#222" class="it">1000</text>
<text x="554" y="152.9" font-size="11.1" fill="#222" class="it">R<tspan dy="-3.9" font-size="6.8">2</tspan><tspan dy="3.9">=0.61 P&lt;0.01</tspan></text>
<rect x="400.6" y="31.6" width="266" height="193.8" fill="none" stroke="#333" stroke-width="1.5"/>
<path d="M400.6,214.6 h5.2 M400.6,203.9 h3.0 M400.6,193.1 h5.2 M400.6,182.3 h3.0 M400.6,171.6 h5.2 M400.6,160.8 h3.0 M400.6,150 h5.2 M400.6,139.3 h3.0 M400.6,128.5 h5.2 M400.6,117.7 h3.0 M400.6,107 h5.2 M400.6,96.2 h3.0 M400.6,85.4 h5.2 M400.6,74.7 h3.0 M400.6,63.9 h5.2 M400.6,53.1 h3.0 M400.6,42.4 h5.2 M422.8,225.4 v-3.0 M444.9,225.4 v-5.2 M467.1,225.4 v-3.0 M489.3,225.4 v-5.2 M511.4,225.4 v-3.0 M533.6,225.4 v-5.2 M555.8,225.4 v-3.0 M577.9,225.4 v-5.2 M600.1,225.4 v-3.0 M622.3,225.4 v-5.2 M644.4,225.4 v-3.0" stroke="#2a2a2a" stroke-width="1.2" fill="none"/>
<text x="394.5" y="220.2" font-size="16" text-anchor="end" fill="#111">-0.4</text>
<text x="394.5" y="198.7" font-size="16" text-anchor="end" fill="#111">-0.2</text>
<text x="394.5" y="177.2" font-size="16" text-anchor="end" fill="#111">0.0</text>
<text x="394.5" y="155.6" font-size="16" text-anchor="end" fill="#111">0.2</text>
<text x="394.5" y="134.1" font-size="16" text-anchor="end" fill="#111">0.4</text>
<text x="394.5" y="112.6" font-size="16" text-anchor="end" fill="#111">0.6</text>
<text x="394.5" y="91" font-size="16" text-anchor="end" fill="#111">0.8</text>
<text x="394.5" y="69.5" font-size="16" text-anchor="end" fill="#111">1.0</text>
<text x="394.5" y="48" font-size="16" text-anchor="end" fill="#111">1.2</text>
<text x="400.6" y="244.7" font-size="16" text-anchor="middle" fill="#111">-200</text>
<text x="444.9" y="244.7" font-size="16" text-anchor="middle" fill="#111">0</text>
<text x="489.3" y="244.7" font-size="16" text-anchor="middle" fill="#111">200</text>
<text x="533.6" y="244.7" font-size="16" text-anchor="middle" fill="#111">400</text>
<text x="577.9" y="244.7" font-size="16" text-anchor="middle" fill="#111">600</text>
<text x="622.3" y="244.7" font-size="16" text-anchor="middle" fill="#111">800</text>
<text x="666.6" y="244.7" font-size="16" text-anchor="middle" fill="#111">1000</text>
<text x="533.6" y="266.7" font-size="19.2" text-anchor="middle" fill="#111">Rn (J m<tspan dy="-7" font-size="12">-2</tspan><tspan dy="7"> s</tspan><tspan dy="-7" font-size="12">-1</tspan><tspan dy="7">)</tspan></text>
<text transform="translate(357.7,128.5) rotate(-90)" font-size="19.6" text-anchor="middle" fill="#111">GPP (mg CO<tspan dy="5.5" font-size="12.6">2</tspan><tspan dy="-5.5"> m</tspan><tspan dy="-8.3" font-size="12.6">-2</tspan><tspan dy="8.3"> s</tspan><tspan dy="-8.3" font-size="12.6">-1</tspan><tspan dy="8.3">)</tspan></text>
<text x="414.7" y="59.9" font-size="22" fill="#111">(b)</text>
</g>
<g>
<path d="M84.6,397.6 C86.2,397.3 91,397 94,395.8 C97,394.6 99.3,392.9 102.8,390.6 C106.3,388.3 111.5,384.4 115,381.8 C118.5,379.2 120.9,377.1 123.8,374.8 C126.7,372.5 129.7,369.8 132.6,367.8 C135.5,365.8 138.4,363.9 141.3,362.6 C144.2,361.3 147.2,360.9 150.1,359.9 C153,358.9 155.9,358 158.8,356.4 C161.7,354.8 165,352.6 167.6,350.3 C170.2,348 172.3,344.1 174.6,342.4 C176.9,340.6 179,340.5 181.6,339.8 C184.2,339.1 188.2,338.5 190.4,338 C192.6,337.5 192.8,337.9 195,336.8 C197.2,335.7 200.9,333.2 203.8,331.5 C206.7,329.8 209.6,328.1 212.5,326.3 C215.4,324.6 218.7,322.3 221.3,321 C223.9,319.7 226,318.7 228.3,318.4 C230.6,318.1 233,319 235.3,319.3 C237.6,319.6 240,320.4 242.3,320.1 C244.6,319.8 247,318.5 249.3,317.5 C251.6,316.5 253.7,315.2 256.3,314 C258.9,312.8 262.8,311.4 265.1,310.5 C267.4,309.6 268.3,308.8 270.3,308.8 C272.3,308.8 275,309.3 277.3,310.5 C279.6,311.7 282,313.5 284.3,315.8 C286.6,318.1 289,321.3 291.4,324.5 C293.8,327.7 296.4,331.8 298.4,335 C300.4,338.2 302.2,341.2 303.6,343.8 C305.1,346.4 306.5,346.8 307.1,350.8 C307.7,354.8 307.3,362.8 307.3,368 C307.3,373.2 307.1,379.9 307.1,382.3 L300.1,380.6 C298.7,380.5 294.3,379.7 291.4,379.7 C288.5,379.7 285.2,380.2 282.6,380.6 C280,381 277.9,381.4 275.6,382.3 C273.3,383.2 270.9,384.8 268.6,385.8 C266.3,386.8 264.4,387.4 261.6,388.5 C258.8,389.6 255.6,390.9 252,392.5 C248.4,394.1 246.3,396.1 240,398 C233.7,399.9 220.7,402.6 214,403.6 C207.3,404.6 203.5,404.1 200,404.2 C196.5,404.3 195.9,404 193.1,404.2 C190.3,404.4 186.5,404.8 183.2,405.1 C179.9,405.4 176.7,405.6 173.4,406.1 C170.1,406.6 166.8,407.8 163.5,408.1 C160.2,408.4 157,407.9 153.7,408.1 C150.4,408.3 147.1,408.8 143.8,409.1 C140.5,409.4 137.3,409.9 134,410.1 C130.7,410.3 127.4,409.9 124.1,410.1 C120.8,410.3 117.6,410.7 114.3,411.1 C111,411.5 107.7,411.9 104.4,412.4 C101.1,412.9 97.9,413.4 94.6,414 C91.3,414.6 86.3,415.7 84.7,416 Z" fill="#e3effd"/>
<rect x="214.3" y="391.9" width="104.5" height="66.7" fill="#fff"/>
<path d="M88.5,406.3 L93.7,405.9 M101.2,403.6 L106.2,400.7 M113.6,397 L119.4,394.5 M126.8,391.1 L132.3,388.6 M139.8,385.7 L145.9,384 M153.5,382.3 L158.8,381.5 M166.3,378.6 L172.7,374.5 M180.2,372.2 L186.3,372.2 M193.9,370.9 L199.8,368.8 M207.4,366.4 L213.3,364.5 M220.9,362.1 L226.4,360 M234,359.4 L239.6,360.4 M247.2,359.8 L253.1,357.9 M260.6,353.8 L266.8,348.8 M274.3,346.9 L279.5,348.2 M286.9,352.5 L292.6,357.7 M299.8,364.5 L303.4,368" stroke="#8cc0f6" stroke-width="1.55" fill="none"/>
<rect x="81.6" y="403.4" width="6.2" height="6.2" fill="#86bdf6"/>
<rect x="94.4" y="402.6" width="6.2" height="6.2" fill="#86bdf6"/>
<rect x="106.8" y="395.5" width="6.2" height="6.2" fill="#86bdf6"/>
<rect x="120" y="389.8" width="6.2" height="6.2" fill="#86bdf6"/>
<rect x="132.9" y="383.7" width="6.2" height="6.2" fill="#86bdf6"/>
<rect x="146.6" y="379.8" width="6.2" height="6.2" fill="#86bdf6"/>
<rect x="159.5" y="377.8" width="6.2" height="6.2" fill="#86bdf6"/>
<rect x="173.3" y="369.1" width="6.2" height="6.2" fill="#86bdf6"/>
<rect x="187" y="369.1" width="6.2" height="6.2" fill="#86bdf6"/>
<rect x="200.5" y="364.4" width="6.2" height="6.2" fill="#86bdf6"/>
<rect x="214" y="360.3" width="6.2" height="6.2" fill="#86bdf6"/>
<rect x="227.1" y="355.6" width="6.2" height="6.2" fill="#86bdf6"/>
<rect x="240.3" y="358" width="6.2" height="6.2" fill="#86bdf6"/>
<rect x="253.8" y="353.5" width="6.2" height="6.2" fill="#86bdf6"/>
<rect x="267.4" y="342.9" width="6.2" height="6.2" fill="#86bdf6"/>
<rect x="280.2" y="346" width="6.2" height="6.2" fill="#86bdf6"/>
<rect x="293.1" y="358" width="6.2" height="6.2" fill="#86bdf6"/>
<rect x="303.9" y="368.3" width="6.2" height="6.2" fill="#86bdf6"/>
<circle cx="270.5" cy="346" r="5.3" fill="none" stroke="#e0262b" stroke-width="1.3"/>
<text x="267.3" y="333.5" font-size="16.3" text-anchor="middle" fill="#111">(29.66, 0.64)</text>
<path d="M219,449 C220.2,448.4 224.1,447.2 226.4,445.3 C228.7,443.4 229.5,440.4 232.6,437.5 C235.7,434.6 240.9,431 245,428.2 C249.1,425.4 253.4,422.8 257.3,420.5 C261.2,418.2 264.6,416.1 268.2,414.3 C271.8,412.5 275.6,411 279,409.7 C282.4,408.4 285.7,407.2 288.3,406.6 C290.9,406 292.4,405 294.5,405.8 C296.6,406.6 298.9,409 300.7,411.2 C302.5,413.4 304,416.2 305.3,419 C306.6,421.8 307.6,424.8 308.4,428.2 C309.2,431.6 310,435.5 310,439.1 C310,442.7 310.1,447.8 308.4,449.9 C306.7,452 308.1,451.3 300,451.6 C291.9,451.9 272.3,451.8 260,451.8 C247.7,451.8 231.7,451.6 226,451.6 Z" fill="#ededfa" opacity="1" filter="url(#bl)"/>
<path d="M228,451 C229.2,450.2 231.3,448.2 235,446 C238.7,443.8 245,440.7 250,438 C255,435.3 260,432.3 265,430 C270,427.7 275.5,425.5 280,424 C284.5,422.5 288.3,420.8 292,421 C295.7,421.2 299.7,422.7 302,425 C304.3,427.3 305.5,431.2 306,435 C306.5,438.8 307.7,445.2 305,448 C302.3,450.8 297.5,450.9 290,451.5 C282.5,452.1 265,451.8 260,451.8 Z" fill="#cdcdf3" opacity="1" filter="url(#bl)"/>
<path d="M279.3,413.3 h0.8v0.8h-0.8zM234.4,449.1 h0.8v0.8h-0.8zM249.2,444.5 h0.8v0.8h-0.8zM298.5,427.9 h0.8v0.8h-0.8zM299,411.2 h0.8v0.8h-0.8zM264.1,430.5 h0.8v0.8h-0.8zM265.1,422.7 h0.8v0.8h-0.8zM240.8,445.9 h0.8v0.8h-0.8zM264.7,446.8 h0.8v0.8h-0.8zM220.4,449.2 h0.8v0.8h-0.8zM263.4,442.2 h0.8v0.8h-0.8zM270.9,437.5 h0.8v0.8h-0.8zM239.9,440.3 h0.8v0.8h-0.8zM266.1,419.2 h0.8v0.8h-0.8zM271.6,416.6 h0.8v0.8h-0.8zM273.2,441.9 h0.8v0.8h-0.8zM283.7,408.7 h0.8v0.8h-0.8zM241.4,433.4 h0.8v0.8h-0.8zM275.3,437.6 h0.8v0.8h-0.8zM293.1,421.5 h0.8v0.8h-0.8zM292.8,427 h0.8v0.8h-0.8zM304.6,424.8 h0.8v0.8h-0.8zM241.3,439.6 h0.8v0.8h-0.8zM280.8,412.8 h0.8v0.8h-0.8zM249.1,450.7 h0.8v0.8h-0.8zM262.7,428.7 h0.8v0.8h-0.8zM289.9,447.6 h0.8v0.8h-0.8zM287.4,435.1 h0.8v0.8h-0.8zM237.1,434.6 h0.8v0.8h-0.8zM296,442 h0.8v0.8h-0.8zM306.9,436.7 h0.8v0.8h-0.8zM286.8,412 h0.8v0.8h-0.8zM294.4,448.9 h0.8v0.8h-0.8zM301.3,440.1 h0.8v0.8h-0.8zM294.8,442.7 h0.8v0.8h-0.8zM272.7,425.8 h0.8v0.8h-0.8zM294.1,441.9 h0.8v0.8h-0.8zM298.2,419.6 h0.8v0.8h-0.8zM306.4,430.3 h0.8v0.8h-0.8zM307.1,442 h0.8v0.8h-0.8zM241.9,444.4 h0.8v0.8h-0.8zM263.8,447.6 h0.8v0.8h-0.8zM281.4,438.5 h0.8v0.8h-0.8zM254.7,441.9 h0.8v0.8h-0.8zM291.2,437.2 h0.8v0.8h-0.8zM304.7,443.8 h0.8v0.8h-0.8zM278.4,444.3 h0.8v0.8h-0.8zM249.9,433.2 h0.8v0.8h-0.8zM295.1,442.3 h0.8v0.8h-0.8zM292.9,425.1 h0.8v0.8h-0.8zM274,426.8 h0.8v0.8h-0.8zM251.2,444.6 h0.8v0.8h-0.8zM275.4,419.2 h0.8v0.8h-0.8zM282.8,426.1 h0.8v0.8h-0.8zM279.2,442.9 h0.8v0.8h-0.8zM306.2,422.5 h0.8v0.8h-0.8zM239.4,446.7 h0.8v0.8h-0.8zM274.5,446.9 h0.8v0.8h-0.8zM254.9,428.8 h0.8v0.8h-0.8zM306,429.1 h0.8v0.8h-0.8zM294.6,413.3 h0.8v0.8h-0.8zM235,449.3 h0.8v0.8h-0.8zM260.4,443 h0.8v0.8h-0.8zM297.5,429.4 h0.8v0.8h-0.8zM253.3,448.5 h0.8v0.8h-0.8zM300.3,436.5 h0.8v0.8h-0.8zM259.4,449.9 h0.8v0.8h-0.8zM251.9,436.2 h0.8v0.8h-0.8zM276.5,423.1 h0.8v0.8h-0.8zM266.5,436.9 h0.8v0.8h-0.8zM301.6,428.7 h0.8v0.8h-0.8zM252.1,450.7 h0.8v0.8h-0.8zM281.2,431.4 h0.8v0.8h-0.8zM259.7,440.3 h0.8v0.8h-0.8zM300.1,439.3 h0.8v0.8h-0.8zM287.2,407.4 h0.8v0.8h-0.8zM305.7,446.8 h0.8v0.8h-0.8zM254.7,440.2 h0.8v0.8h-0.8zM277.4,418.7 h0.8v0.8h-0.8zM288.4,419.2 h0.8v0.8h-0.8zM268.5,425.2 h0.8v0.8h-0.8zM308,435.6 h0.8v0.8h-0.8zM292.2,436.9 h0.8v0.8h-0.8zM253.6,450.1 h0.8v0.8h-0.8zM283.6,437.6 h0.8v0.8h-0.8zM271.3,443.8 h0.8v0.8h-0.8zM291.2,421.8 h0.8v0.8h-0.8zM298.8,413.3 h0.8v0.8h-0.8zM286.2,413.7 h0.8v0.8h-0.8zM307,450.1 h0.8v0.8h-0.8zM254.9,423.5 h0.8v0.8h-0.8zM237.6,447.6 h0.8v0.8h-0.8zM260,444.3 h0.8v0.8h-0.8zM277,441.6 h0.8v0.8h-0.8zM287.9,427.4 h0.8v0.8h-0.8zM269.8,436.6 h0.8v0.8h-0.8zM287.5,418.5 h0.8v0.8h-0.8zM252,448 h0.8v0.8h-0.8zM267.2,419.1 h0.8v0.8h-0.8zM276.3,417.7 h0.8v0.8h-0.8zM289.2,407.7 h0.8v0.8h-0.8zM294.2,431.9 h0.8v0.8h-0.8zM251.2,449 h0.8v0.8h-0.8zM287.6,437 h0.8v0.8h-0.8zM256.6,443 h0.8v0.8h-0.8zM277.7,450.3 h0.8v0.8h-0.8zM276.7,437.6 h0.8v0.8h-0.8zM289.5,423.9 h0.8v0.8h-0.8zM304.6,440 h0.8v0.8h-0.8zM292.3,421.9 h0.8v0.8h-0.8zM235.9,445.9 h0.8v0.8h-0.8zM267.4,429.8 h0.8v0.8h-0.8zM279.9,447.3 h0.8v0.8h-0.8zM264.7,445 h0.8v0.8h-0.8zM279.8,432.4 h0.8v0.8h-0.8zM255.7,432.2 h0.8v0.8h-0.8zM243.9,444.7 h0.8v0.8h-0.8zM290.8,444.4 h0.8v0.8h-0.8zM287.6,428.8 h0.8v0.8h-0.8zM300.7,447.1 h0.8v0.8h-0.8zM286.6,443.6 h0.8v0.8h-0.8zM278,446.2 h0.8v0.8h-0.8zM283,434 h0.8v0.8h-0.8zM273.9,443.7 h0.8v0.8h-0.8zM280.5,450.6 h0.8v0.8h-0.8zM292,422.3 h0.8v0.8h-0.8zM282.6,409.1 h0.8v0.8h-0.8zM295.3,420.8 h0.8v0.8h-0.8zM269.5,442.9 h0.8v0.8h-0.8zM276.3,421.4 h0.8v0.8h-0.8zM249.1,431.9 h0.8v0.8h-0.8zM238.8,442.3 h0.8v0.8h-0.8zM238,444.4 h0.8v0.8h-0.8zM292.6,430.5 h0.8v0.8h-0.8zM276.3,439.1 h0.8v0.8h-0.8zM272.2,424.2 h0.8v0.8h-0.8zM265.6,432.9 h0.8v0.8h-0.8zM239.6,445.7 h0.8v0.8h-0.8zM260.3,437.2 h0.8v0.8h-0.8zM283.5,426.7 h0.8v0.8h-0.8zM236.7,439.7 h0.8v0.8h-0.8zM266,426 h0.8v0.8h-0.8zM237,438.2 h0.8v0.8h-0.8zM270,438.1 h0.8v0.8h-0.8zM307.5,440.2 h0.8v0.8h-0.8zM305.3,448.1 h0.8v0.8h-0.8zM284.8,438.9 h0.8v0.8h-0.8zM284.7,434.8 h0.8v0.8h-0.8zM251.3,447.2 h0.8v0.8h-0.8zM292.2,426.7 h0.8v0.8h-0.8zM233,441.6 h0.8v0.8h-0.8zM261.9,451.4 h0.8v0.8h-0.8zM302,442.4 h0.8v0.8h-0.8zM262.3,443.6 h0.8v0.8h-0.8zM270.3,429.2 h0.8v0.8h-0.8zM283.6,449.3 h0.8v0.8h-0.8zM285.6,423.5 h0.8v0.8h-0.8zM292.9,444.5 h0.8v0.8h-0.8zM294.6,442 h0.8v0.8h-0.8zM299.9,430.4 h0.8v0.8h-0.8zM275.8,446.5 h0.8v0.8h-0.8zM263.1,435.2 h0.8v0.8h-0.8zM301.4,423.4 h0.8v0.8h-0.8zM260.5,432.7 h0.8v0.8h-0.8zM276.9,438.3 h0.8v0.8h-0.8zM284.9,408.3 h0.8v0.8h-0.8zM261.8,424.2 h0.8v0.8h-0.8zM280.2,438.6 h0.8v0.8h-0.8zM240.8,435.7 h0.8v0.8h-0.8zM282,427.5 h0.8v0.8h-0.8zM231.9,447.6 h0.8v0.8h-0.8zM240.7,451.2 h0.8v0.8h-0.8zM290.7,443.7 h0.8v0.8h-0.8zM276.7,439.9 h0.8v0.8h-0.8zM307.8,442.7 h0.8v0.8h-0.8zM240.9,448.6 h0.8v0.8h-0.8zM239,436.7 h0.8v0.8h-0.8zM303.7,435.2 h0.8v0.8h-0.8zM302.7,417.9 h0.8v0.8h-0.8zM287.9,410.6 h0.8v0.8h-0.8zM307.6,438.5 h0.8v0.8h-0.8zM236,442.9 h0.8v0.8h-0.8zM300,448 h0.8v0.8h-0.8zM269.6,443.6 h0.8v0.8h-0.8zM264.7,434.3 h0.8v0.8h-0.8zM273.1,442.6 h0.8v0.8h-0.8zM268.6,419.2 h0.8v0.8h-0.8zM294.5,443.1 h0.8v0.8h-0.8zM278.2,415.3 h0.8v0.8h-0.8zM307.9,430.9 h0.8v0.8h-0.8zM285.4,444.9 h0.8v0.8h-0.8zM296.2,410.5 h0.8v0.8h-0.8zM288.4,412.6 h0.8v0.8h-0.8zM274.2,450.8 h0.8v0.8h-0.8zM282,433.3 h0.8v0.8h-0.8zM266.3,426.8 h0.8v0.8h-0.8zM256.1,433.9 h0.8v0.8h-0.8zM278,448 h0.8v0.8h-0.8zM285.7,442.4 h0.8v0.8h-0.8zM302.1,444.3 h0.8v0.8h-0.8zM281,444.9 h0.8v0.8h-0.8zM258.2,446.2 h0.8v0.8h-0.8zM235.4,449.2 h0.8v0.8h-0.8zM259.2,438.3 h0.8v0.8h-0.8zM308.3,435.9 h0.8v0.8h-0.8zM303.8,440.9 h0.8v0.8h-0.8zM295.2,451.5 h0.8v0.8h-0.8zM287.5,418.4 h0.8v0.8h-0.8zM299.7,448.2 h0.8v0.8h-0.8zM248.9,441.2 h0.8v0.8h-0.8zM289.5,446.7 h0.8v0.8h-0.8zM291.3,430.3 h0.8v0.8h-0.8zM228.5,443.8 h0.8v0.8h-0.8zM247.5,434.6 h0.8v0.8h-0.8zM252.4,430.5 h0.8v0.8h-0.8zM267.3,435.7 h0.8v0.8h-0.8zM268,448.9 h0.8v0.8h-0.8zM256.1,447.8 h0.8v0.8h-0.8zM281.8,450.3 h0.8v0.8h-0.8zM245.2,447.5 h0.8v0.8h-0.8zM284.1,451.3 h0.8v0.8h-0.8zM281.5,437.6 h0.8v0.8h-0.8zM286.9,440.4 h0.8v0.8h-0.8zM306.8,435.4 h0.8v0.8h-0.8zM272.8,436 h0.8v0.8h-0.8zM273.4,437.8 h0.8v0.8h-0.8zM307.2,437.4 h0.8v0.8h-0.8zM243.9,441.2 h0.8v0.8h-0.8zM281.7,426.3 h0.8v0.8h-0.8zM285.3,410.2 h0.8v0.8h-0.8zM303.8,421.5 h0.8v0.8h-0.8zM294.7,407.2 h0.8v0.8h-0.8zM294.4,416.2 h0.8v0.8h-0.8zM296.8,442.7 h0.8v0.8h-0.8zM280,418.6 h0.8v0.8h-0.8zM301.3,413.1 h0.8v0.8h-0.8zM279,432.8 h0.8v0.8h-0.8zM279.2,414.1 h0.8v0.8h-0.8zM278.4,432 h0.8v0.8h-0.8zM230.8,450.1 h0.8v0.8h-0.8zM252.1,439 h0.8v0.8h-0.8zM231.6,442 h0.8v0.8h-0.8zM241.6,442.4 h0.8v0.8h-0.8zM288.6,416.1 h0.8v0.8h-0.8zM254,422.6 h0.8v0.8h-0.8zM277.4,427.5 h0.8v0.8h-0.8zM279.4,444.3 h0.8v0.8h-0.8zM260.9,438.5 h0.8v0.8h-0.8zM251.9,427.4 h0.8v0.8h-0.8zM304.2,431.3 h0.8v0.8h-0.8zM286.7,431.7 h0.8v0.8h-0.8zM298.2,450.1 h0.8v0.8h-0.8zM297.1,410.9 h0.8v0.8h-0.8zM304.9,429.9 h0.8v0.8h-0.8zM297.7,415.6 h0.8v0.8h-0.8zM303.1,427 h0.8v0.8h-0.8zM285.6,409.2 h0.8v0.8h-0.8zM260.2,420.4 h0.8v0.8h-0.8zM237.7,436.3 h0.8v0.8h-0.8zM278.4,429.5 h0.8v0.8h-0.8z" fill="#a8a8ec" opacity="0.4"/>
<path d="M285.8,437.5 h0.8v0.8h-0.8zM275.2,441.1 h0.8v0.8h-0.8zM239.3,445.8 h0.8v0.8h-0.8zM301.8,443.8 h0.8v0.8h-0.8zM294.9,432.3 h0.8v0.8h-0.8zM298.4,426.6 h0.8v0.8h-0.8zM242.9,444.1 h0.8v0.8h-0.8zM273.5,449.9 h0.8v0.8h-0.8zM259.4,441.9 h0.8v0.8h-0.8zM267.9,450.2 h0.8v0.8h-0.8zM266.4,451.5 h0.8v0.8h-0.8zM276.5,427.7 h0.8v0.8h-0.8zM293,427.2 h0.8v0.8h-0.8zM306,435.1 h0.8v0.8h-0.8zM245.7,450.6 h0.8v0.8h-0.8zM254.8,441.6 h0.8v0.8h-0.8zM240.6,446.5 h0.8v0.8h-0.8zM271.8,442.9 h0.8v0.8h-0.8zM237.4,450.6 h0.8v0.8h-0.8zM268.7,438.9 h0.8v0.8h-0.8zM273.7,434.9 h0.8v0.8h-0.8zM259.9,448.4 h0.8v0.8h-0.8zM279.6,447.5 h0.8v0.8h-0.8zM302.6,429.3 h0.8v0.8h-0.8zM301.5,433.6 h0.8v0.8h-0.8zM232,449.2 h0.8v0.8h-0.8zM303.4,447.8 h0.8v0.8h-0.8zM260.8,437.3 h0.8v0.8h-0.8zM294.2,445.9 h0.8v0.8h-0.8zM279,436.8 h0.8v0.8h-0.8zM279.3,439.1 h0.8v0.8h-0.8zM290.5,448.7 h0.8v0.8h-0.8zM233.9,448.6 h0.8v0.8h-0.8zM282,428.9 h0.8v0.8h-0.8zM268.9,441.9 h0.8v0.8h-0.8zM276.7,435.5 h0.8v0.8h-0.8zM280.4,445.6 h0.8v0.8h-0.8zM280.9,442.8 h0.8v0.8h-0.8zM278.5,426.6 h0.8v0.8h-0.8zM302.8,445.2 h0.8v0.8h-0.8zM302.7,427.4 h0.8v0.8h-0.8zM259.9,450.6 h0.8v0.8h-0.8zM298.2,428.2 h0.8v0.8h-0.8zM285.4,432.1 h0.8v0.8h-0.8zM279.7,444.6 h0.8v0.8h-0.8zM259.7,434 h0.8v0.8h-0.8zM301.5,438.8 h0.8v0.8h-0.8zM255.7,442.7 h0.8v0.8h-0.8zM280.7,426 h0.8v0.8h-0.8zM256.8,450.6 h0.8v0.8h-0.8zM287.8,446.7 h0.8v0.8h-0.8zM278.1,440.5 h0.8v0.8h-0.8zM283,450.8 h0.8v0.8h-0.8zM243.3,444.6 h0.8v0.8h-0.8zM292.1,439.5 h0.8v0.8h-0.8zM294.3,448 h0.8v0.8h-0.8zM273.9,427.1 h0.8v0.8h-0.8zM284.6,429.4 h0.8v0.8h-0.8zM248.7,442.9 h0.8v0.8h-0.8zM236.9,449.8 h0.8v0.8h-0.8zM254.2,437.1 h0.8v0.8h-0.8zM276.7,442.5 h0.8v0.8h-0.8zM248.5,445.4 h0.8v0.8h-0.8zM284.8,431.5 h0.8v0.8h-0.8zM300.5,438.3 h0.8v0.8h-0.8zM282,432.9 h0.8v0.8h-0.8zM283.9,428.1 h0.8v0.8h-0.8zM290.2,445.7 h0.8v0.8h-0.8zM242.9,442.8 h0.8v0.8h-0.8zM290.7,445.4 h0.8v0.8h-0.8zM279.7,438.4 h0.8v0.8h-0.8zM277.4,428.4 h0.8v0.8h-0.8zM269.6,443.3 h0.8v0.8h-0.8zM277.9,442.3 h0.8v0.8h-0.8zM275.9,448.8 h0.8v0.8h-0.8zM279.7,429 h0.8v0.8h-0.8zM288.2,446.5 h0.8v0.8h-0.8zM283.9,450.5 h0.8v0.8h-0.8zM290,430.5 h0.8v0.8h-0.8zM252.6,443.2 h0.8v0.8h-0.8zM300.7,448 h0.8v0.8h-0.8zM268.7,432.2 h0.8v0.8h-0.8zM283.9,437.3 h0.8v0.8h-0.8zM288.5,424.3 h0.8v0.8h-0.8zM280.1,427.8 h0.8v0.8h-0.8zM283.6,444.7 h0.8v0.8h-0.8zM257,434.8 h0.8v0.8h-0.8zM263.5,440.6 h0.8v0.8h-0.8zM276.3,430.2 h0.8v0.8h-0.8zM288.1,434.5 h0.8v0.8h-0.8zM235.3,450.7 h0.8v0.8h-0.8zM287.9,425.2 h0.8v0.8h-0.8zM293,426.2 h0.8v0.8h-0.8zM241.5,444.6 h0.8v0.8h-0.8zM248.2,443.8 h0.8v0.8h-0.8zM297.6,448.9 h0.8v0.8h-0.8zM264.9,450.5 h0.8v0.8h-0.8zM275.1,429.9 h0.8v0.8h-0.8zM264.3,443.1 h0.8v0.8h-0.8zM285.3,425 h0.8v0.8h-0.8zM243.1,450.5 h0.8v0.8h-0.8zM236.3,446.1 h0.8v0.8h-0.8zM294.7,430.9 h0.8v0.8h-0.8zM241.5,443.9 h0.8v0.8h-0.8zM260.6,446.3 h0.8v0.8h-0.8zM295.3,438.7 h0.8v0.8h-0.8zM275.3,448.7 h0.8v0.8h-0.8zM302.3,431.1 h0.8v0.8h-0.8zM294.2,446.2 h0.8v0.8h-0.8zM245.7,449 h0.8v0.8h-0.8zM260,440.6 h0.8v0.8h-0.8zM297.2,444.3 h0.8v0.8h-0.8zM247.1,449.3 h0.8v0.8h-0.8zM284.8,444.2 h0.8v0.8h-0.8zM291.4,428.8 h0.8v0.8h-0.8zM279.2,432.7 h0.8v0.8h-0.8zM293.5,425.1 h0.8v0.8h-0.8zM270.1,431.4 h0.8v0.8h-0.8zM292,431.6 h0.8v0.8h-0.8zM293.8,447.1 h0.8v0.8h-0.8zM296.5,425.3 h0.8v0.8h-0.8zM301.2,443.9 h0.8v0.8h-0.8zM280.8,441.1 h0.8v0.8h-0.8zM270.7,435 h0.8v0.8h-0.8zM254.5,445.1 h0.8v0.8h-0.8zM289,447.8 h0.8v0.8h-0.8zM290.1,428 h0.8v0.8h-0.8zM285.8,427.1 h0.8v0.8h-0.8zM264,433.4 h0.8v0.8h-0.8zM290.6,450.4 h0.8v0.8h-0.8zM252.2,440.5 h0.8v0.8h-0.8zM297.8,435.5 h0.8v0.8h-0.8zM298.2,443.6 h0.8v0.8h-0.8zM252.3,447.9 h0.8v0.8h-0.8zM273.8,446.5 h0.8v0.8h-0.8zM268.4,435.9 h0.8v0.8h-0.8zM260.5,448.1 h0.8v0.8h-0.8zM279.9,427.4 h0.8v0.8h-0.8zM302.8,442.4 h0.8v0.8h-0.8zM237.7,449.2 h0.8v0.8h-0.8zM261.7,443.1 h0.8v0.8h-0.8zM268.8,446.3 h0.8v0.8h-0.8zM289.5,432 h0.8v0.8h-0.8zM245.3,443.9 h0.8v0.8h-0.8zM290.5,427.7 h0.8v0.8h-0.8zM261.8,432.7 h0.8v0.8h-0.8zM283.4,449.6 h0.8v0.8h-0.8zM253.7,443.6 h0.8v0.8h-0.8zM267,441.6 h0.8v0.8h-0.8zM239.2,450.5 h0.8v0.8h-0.8zM290,426.6 h0.8v0.8h-0.8zM299,438 h0.8v0.8h-0.8zM287.2,447.7 h0.8v0.8h-0.8zM256.2,449.5 h0.8v0.8h-0.8zM267.2,448.7 h0.8v0.8h-0.8zM267.8,449.7 h0.8v0.8h-0.8zM277.2,445.7 h0.8v0.8h-0.8zM261.1,439.5 h0.8v0.8h-0.8zM260.8,436.8 h0.8v0.8h-0.8zM283.9,444 h0.8v0.8h-0.8zM275,448.8 h0.8v0.8h-0.8zM284.2,444.1 h0.8v0.8h-0.8zM283.5,442.9 h0.8v0.8h-0.8zM249.3,446.8 h0.8v0.8h-0.8zM301.6,434.6 h0.8v0.8h-0.8zM290.2,441.9 h0.8v0.8h-0.8zM254.2,444.6 h0.8v0.8h-0.8zM276.2,430.3 h0.8v0.8h-0.8zM262.3,451 h0.8v0.8h-0.8zM265.9,450.1 h0.8v0.8h-0.8zM282.7,450.8 h0.8v0.8h-0.8zM281.9,433.1 h0.8v0.8h-0.8zM239.9,447.6 h0.8v0.8h-0.8zM294.3,443.4 h0.8v0.8h-0.8zM255.6,440.4 h0.8v0.8h-0.8zM299.8,433.4 h0.8v0.8h-0.8zM271.2,441.4 h0.8v0.8h-0.8zM285.3,450.2 h0.8v0.8h-0.8zM294.4,445.4 h0.8v0.8h-0.8zM274,441.9 h0.8v0.8h-0.8zM254.5,450.1 h0.8v0.8h-0.8zM270.9,433.4 h0.8v0.8h-0.8zM298,445.7 h0.8v0.8h-0.8zM265.4,436.3 h0.8v0.8h-0.8zM256.3,448.6 h0.8v0.8h-0.8zM255.3,437.4 h0.8v0.8h-0.8zM300.5,440.7 h0.8v0.8h-0.8zM265.2,431.2 h0.8v0.8h-0.8zM258.2,439.8 h0.8v0.8h-0.8zM289.3,429 h0.8v0.8h-0.8zM256.3,449.1 h0.8v0.8h-0.8zM270,429.5 h0.8v0.8h-0.8zM253.9,446.3 h0.8v0.8h-0.8zM285.2,443.2 h0.8v0.8h-0.8zM271,449.4 h0.8v0.8h-0.8zM235,449.5 h0.8v0.8h-0.8zM286.3,447.4 h0.8v0.8h-0.8zM296.1,444.2 h0.8v0.8h-0.8zM274.6,451.1 h0.8v0.8h-0.8zM283.2,440.4 h0.8v0.8h-0.8zM280.5,450.9 h0.8v0.8h-0.8zM256.1,451.2 h0.8v0.8h-0.8zM261.9,433 h0.8v0.8h-0.8zM283.1,426.4 h0.8v0.8h-0.8zM255.4,443.7 h0.8v0.8h-0.8zM262.3,445.4 h0.8v0.8h-0.8zM272.9,434.9 h0.8v0.8h-0.8zM296.7,439.5 h0.8v0.8h-0.8zM301.6,447.5 h0.8v0.8h-0.8zM299.4,438.3 h0.8v0.8h-0.8zM257.9,442.3 h0.8v0.8h-0.8zM289.3,436.9 h0.8v0.8h-0.8zM260.3,441.6 h0.8v0.8h-0.8zM272.5,443.4 h0.8v0.8h-0.8zM259.9,450.6 h0.8v0.8h-0.8zM276,430.7 h0.8v0.8h-0.8zM298.5,445.4 h0.8v0.8h-0.8zM289.5,446.3 h0.8v0.8h-0.8zM305.3,442.2 h0.8v0.8h-0.8zM252.8,444.3 h0.8v0.8h-0.8zM248.5,439.8 h0.8v0.8h-0.8zM240.4,447.4 h0.8v0.8h-0.8zM300.6,444.3 h0.8v0.8h-0.8zM239.6,444.4 h0.8v0.8h-0.8zM272.7,448.9 h0.8v0.8h-0.8zM273.7,434.2 h0.8v0.8h-0.8zM288.6,424.2 h0.8v0.8h-0.8zM296,434.6 h0.8v0.8h-0.8zM284.7,428.9 h0.8v0.8h-0.8zM285,441 h0.8v0.8h-0.8zM284.3,427.6 h0.8v0.8h-0.8zM279,429.6 h0.8v0.8h-0.8zM256.9,449.3 h0.8v0.8h-0.8zM261.3,438.6 h0.8v0.8h-0.8zM291.1,444.4 h0.8v0.8h-0.8zM263.6,447.6 h0.8v0.8h-0.8zM259.3,450.3 h0.8v0.8h-0.8zM286.4,425.5 h0.8v0.8h-0.8zM305.1,437.7 h0.8v0.8h-0.8zM285.8,425 h0.8v0.8h-0.8zM277.7,432.6 h0.8v0.8h-0.8zM247.4,446.1 h0.8v0.8h-0.8zM234.8,447.2 h0.8v0.8h-0.8zM264.2,435.4 h0.8v0.8h-0.8zM284.1,443.5 h0.8v0.8h-0.8zM254.8,449.7 h0.8v0.8h-0.8zM291.5,424.7 h0.8v0.8h-0.8zM300.5,435.6 h0.8v0.8h-0.8zM289.3,428.7 h0.8v0.8h-0.8zM299.2,427.8 h0.8v0.8h-0.8z" fill="#ffffff" opacity="0.45"/>
<path d="M219.4,447.3 C222.4,446.8 231.6,445.5 237.2,444.5 C242.8,443.5 247.5,442.4 252.7,441.4 C257.9,440.4 263,439.2 268.2,438.3 C273.4,437.4 279.2,436.3 283.6,435.7 C288,435.1 291.1,435 294.5,434.9 C297.9,434.8 300.8,434.8 303.8,435.2 C306.8,435.6 311.2,436.9 312.7,437.2" stroke="#7048b0" stroke-width="0.95" fill="none"/>
<path d="M214.3,388.9 V458.6" stroke="#7a7a7a" stroke-width="0.9" fill="none"/>
<path d="M214.3,388.9 H318.8" stroke="#a8a8a8" stroke-width="0.9" fill="none"/>
<path d="M318.8,388.9 V458.6" stroke="#959595" stroke-width="0.9" fill="none"/>
<path d="M214.3,458.6 H318.8" stroke="#a0a0a0" stroke-width="0.9" fill="none"/>
<path d="M214.3,451.2 h1.6 M214.3,437.5 h1.6 M214.3,423.8 h1.6 M214.3,410 h1.6 M214.3,396.3 h1.6 M214.3,458.6 v-1.6 M225.9,458.6 v-1.6 M237.5,458.6 v-1.6 M249.1,458.6 v-1.6 M260.7,458.6 v-1.6 M272.4,458.6 v-1.6 M284,458.6 v-1.6 M295.6,458.6 v-1.6 M307.2,458.6 v-1.6 M318.8,458.6 v-1.6" stroke="#909090" stroke-width="0.8" fill="none"/>
<text x="213.1" y="454.9" font-size="11.1" text-anchor="end" fill="#222" class="it">0.0</text>
<text x="213.1" y="441.2" font-size="11.1" text-anchor="end" fill="#222" class="it">0.5</text>
<text x="213.1" y="427.4" font-size="11.1" text-anchor="end" fill="#222" class="it">1.0</text>
<text x="213.1" y="413.7" font-size="11.1" text-anchor="end" fill="#222" class="it">1.5</text>
<text x="213.1" y="400" font-size="11.1" text-anchor="end" fill="#222" class="it">2.0</text>
<text x="225.9" y="468.4" font-size="11.1" text-anchor="middle" fill="#222" class="it">0</text>
<text x="249.1" y="468.4" font-size="11.1" text-anchor="middle" fill="#222" class="it">10</text>
<text x="272.4" y="468.4" font-size="11.1" text-anchor="middle" fill="#222" class="it">20</text>
<text x="295.6" y="468.4" font-size="11.1" text-anchor="middle" fill="#222" class="it">30</text>
<text x="318.8" y="468.4" font-size="11.1" text-anchor="middle" fill="#222" class="it">40</text>
<text x="219.4" y="403.2" font-size="11.1" fill="#222" class="it">R<tspan dy="-3.9" font-size="6.8">2</tspan><tspan dy="3.9">=0.13 P&lt;0.01</tspan></text>
<rect x="65.3" y="282.6" width="266.3" height="193.6" fill="none" stroke="#333" stroke-width="1.5"/>
<path d="M65.3,464.8 h5.2 M65.3,453.4 h3.0 M65.3,442 h5.2 M65.3,430.6 h3.0 M65.3,419.3 h5.2 M65.3,407.9 h3.0 M65.3,396.5 h5.2 M65.3,385.1 h3.0 M65.3,373.7 h5.2 M65.3,362.3 h3.0 M65.3,350.9 h5.2 M65.3,339.5 h3.0 M65.3,328.2 h5.2 M65.3,316.8 h3.0 M65.3,305.4 h5.2 M65.3,294 h3.0 M80.1,476.2 v-3.0 M94.9,476.2 v-5.2 M109.7,476.2 v-3.0 M124.5,476.2 v-5.2 M139.3,476.2 v-3.0 M154.1,476.2 v-5.2 M168.9,476.2 v-3.0 M183.7,476.2 v-5.2 M198.4,476.2 v-3.0 M213.2,476.2 v-5.2 M228,476.2 v-3.0 M242.8,476.2 v-5.2 M257.6,476.2 v-3.0 M272.4,476.2 v-5.2 M287.2,476.2 v-3.0 M302,476.2 v-5.2 M316.8,476.2 v-3.0" stroke="#2a2a2a" stroke-width="1.2" fill="none"/>
<text x="59.2" y="470.4" font-size="16" text-anchor="end" fill="#111">-0.4</text>
<text x="59.2" y="447.6" font-size="16" text-anchor="end" fill="#111">-0.2</text>
<text x="59.2" y="424.9" font-size="16" text-anchor="end" fill="#111">0.0</text>
<text x="59.2" y="402.1" font-size="16" text-anchor="end" fill="#111">0.2</text>
<text x="59.2" y="379.3" font-size="16" text-anchor="end" fill="#111">0.4</text>
<text x="59.2" y="356.5" font-size="16" text-anchor="end" fill="#111">0.6</text>
<text x="59.2" y="333.8" font-size="16" text-anchor="end" fill="#111">0.8</text>
<text x="59.2" y="311" font-size="16" text-anchor="end" fill="#111">1.0</text>
<text x="59.2" y="288.2" font-size="16" text-anchor="end" fill="#111">1.2</text>
<text x="65.3" y="495.5" font-size="16" text-anchor="middle" fill="#111">-5</text>
<text x="94.9" y="495.5" font-size="16" text-anchor="middle" fill="#111">0</text>
<text x="124.5" y="495.5" font-size="16" text-anchor="middle" fill="#111">5</text>
<text x="154.1" y="495.5" font-size="16" text-anchor="middle" fill="#111">10</text>
<text x="183.7" y="495.5" font-size="16" text-anchor="middle" fill="#111">15</text>
<text x="213.2" y="495.5" font-size="16" text-anchor="middle" fill="#111">20</text>
<text x="242.8" y="495.5" font-size="16" text-anchor="middle" fill="#111">25</text>
<text x="272.4" y="495.5" font-size="16" text-anchor="middle" fill="#111">30</text>
<text x="302" y="495.5" font-size="16" text-anchor="middle" fill="#111">35</text>
<text x="331.6" y="495.5" font-size="16" text-anchor="middle" fill="#111">40</text>
<text x="198.5" y="516.1" font-size="19.2" text-anchor="middle" fill="#111">Ta (°C)</text>
<text transform="translate(22.4,379.4) rotate(-90)" font-size="19.6" text-anchor="middle" fill="#111">GPP (mg CO<tspan dy="5.5" font-size="12.6">2</tspan><tspan dy="-5.5"> m</tspan><tspan dy="-8.3" font-size="12.6">-2</tspan><tspan dy="8.3"> s</tspan><tspan dy="-8.3" font-size="12.6">-1</tspan><tspan dy="8.3">)</tspan></text>
<text x="79.4" y="310.9" font-size="22" fill="#111">(c)</text>
</g>
<g>
<path d="M427.6,390.4 C428.9,389.1 432.6,385.1 435.5,382.5 C438.4,379.9 441.4,377.2 445.3,374.6 C449.2,372 455.2,369.3 459.1,366.7 C463.1,364.1 466.4,361.8 469,358.8 C471.6,355.9 472.9,351.7 474.9,349 C476.9,346.3 478.5,344 480.8,342.7 C483.1,341.4 485.8,341.9 488.7,341.1 C491.6,340.3 495.2,339.4 498.5,338.1 C501.8,336.8 505.1,334.4 508.4,333.2 C511.7,332 514.9,331.4 518.2,330.8 C521.5,330.2 524.4,330.1 528.1,329.3 C531.8,328.5 536.5,327.4 540.2,326 C543.9,324.6 547,322.6 550.4,320.9 C553.8,319.2 557.3,317.3 560.7,315.8 C564.1,314.3 567.5,312.9 570.9,311.7 C574.3,310.5 577.7,309.6 581.1,308.6 C584.5,307.6 587.9,306.9 591.3,305.5 C594.7,304.1 598.8,301.5 601.5,300.4 C604.2,299.3 605.3,298.8 607.7,298.8 C610.1,298.8 613.4,299.1 615.8,300.4 C618.2,301.7 619.3,303.2 622,306.6 C624.7,310 629.1,315.8 632.2,320.9 C635.3,326 638.2,332.1 640.4,337.2 C642.6,342.3 644.5,346.9 645.5,351.5 C646.5,356.1 646,359.9 646.1,365 C646.2,370.1 646.1,379.3 646.1,382.2 L632.2,377.1 C630.5,376.9 625.4,375.9 622,376.1 C618.6,376.3 615.2,377.1 611.8,378.1 C608.4,379.1 605.1,380.4 601.5,382 C597.9,383.6 595.2,386 590,388 C584.8,390 577,392.3 570,394 C563,395.7 553.8,397.1 548,398 C542.2,398.9 538.3,398.8 535,399.2 C531.7,399.6 530.9,399.9 528.1,400.2 C525.3,400.5 521.5,400.9 518.2,401.2 C514.9,401.5 511.7,402 508.4,402.2 C505.1,402.4 501.8,402.3 498.5,402.2 C495.2,402.1 492,401.6 488.7,401.8 C485.4,402 482.1,402.5 478.8,403.2 C475.5,403.9 472.3,405 469,406.1 C465.7,407.2 462.4,409.2 459.1,410.1 C455.8,411 452.6,411.1 449.3,411.7 C446,412.3 443,413.3 439.4,414 C435.8,414.7 429.6,415.7 427.6,416 Z" fill="#eaf7ef"/>
<rect x="548.8" y="391.9" width="103.9" height="66.7" fill="#fff"/>
<path d="M431.3,401.7 L438.3,396.8 M445.7,392.7 L451.5,390.4 M458.9,387.1 L463.9,384.8 M471.2,380 L476.6,375.3 M484,372 L489.4,371.8 M497,370.7 L502.2,369.6 M509.8,368.2 L515,367.6 M522.6,366.7 L528.2,366.2 M535.7,363.9 L541,361.2 M548.4,357.5 L554.3,354.8 M561.8,353 L567.1,353 M574.7,352.4 L579.7,351.7 M587.3,350.6 L592.6,350 M600,346.2 L605.8,340.9 M613.2,338.8 L618.6,340.5 M626,344.8 L630,348 M636.7,354.7 L643,362.2" stroke="#7cc69a" stroke-width="1.55" fill="none"/>
<rect x="424.5" y="401.1" width="6.2" height="6.2" fill="#78c497"/>
<rect x="438.9" y="391.2" width="6.2" height="6.2" fill="#78c497"/>
<rect x="452.1" y="385.7" width="6.2" height="6.2" fill="#78c497"/>
<rect x="464.5" y="380" width="6.2" height="6.2" fill="#78c497"/>
<rect x="477.1" y="369.1" width="6.2" height="6.2" fill="#78c497"/>
<rect x="490.1" y="368.5" width="6.2" height="6.2" fill="#78c497"/>
<rect x="502.9" y="365.6" width="6.2" height="6.2" fill="#78c497"/>
<rect x="515.7" y="364" width="6.2" height="6.2" fill="#78c497"/>
<rect x="528.9" y="362.7" width="6.2" height="6.2" fill="#78c497"/>
<rect x="541.6" y="356.2" width="6.2" height="6.2" fill="#78c497"/>
<rect x="554.9" y="349.9" width="6.2" height="6.2" fill="#78c497"/>
<rect x="567.8" y="349.9" width="6.2" height="6.2" fill="#78c497"/>
<rect x="580.4" y="348" width="6.2" height="6.2" fill="#78c497"/>
<rect x="593.3" y="346.4" width="6.2" height="6.2" fill="#78c497"/>
<rect x="606.3" y="334.5" width="6.2" height="6.2" fill="#78c497"/>
<rect x="619.3" y="338.6" width="6.2" height="6.2" fill="#78c497"/>
<rect x="630.5" y="348" width="6.2" height="6.2" fill="#78c497"/>
<rect x="643" y="362.7" width="6.2" height="6.2" fill="#78c497"/>
<circle cx="609.4" cy="337.6" r="5.3" fill="none" stroke="#e0262b" stroke-width="1.3"/>
<text x="610.7" y="326" font-size="16.3" text-anchor="middle" fill="#111">(30.35, 0.72)</text>
<path d="M553,449 C553.7,448.6 555,448.7 557.3,446.8 C559.6,444.9 563,440.6 566.6,437.5 C570.2,434.4 574.4,431.3 579,428.2 C583.6,425.1 589.2,421.8 594.4,419 C599.5,416.2 605.2,413.5 609.9,411.2 C614.5,408.9 618.9,406 622.3,405 C625.6,404 627.4,403.7 630,405 C632.6,406.3 635.7,409.7 637.8,412.8 C639.9,415.9 641.2,420 642.4,423.6 C643.5,427.2 644.4,430.5 644.7,434.4 C645,438.3 644.8,443.9 644,446.8 C643.2,449.7 647.3,450.8 640,451.6 C632.7,452.4 613.3,451.8 600,451.8 C586.7,451.8 566.7,451.6 560,451.6 Z" fill="#efeffb" opacity="1" filter="url(#bl)"/>
<path d="M562,451 C563.3,450.2 566.2,448.2 570,446 C573.8,443.8 580,440.7 585,438 C590,435.3 595.2,432.3 600,430 C604.8,427.7 609.7,425.5 614,424 C618.3,422.5 622.3,420.8 626,421 C629.7,421.2 633.7,422.7 636,425 C638.3,427.3 639.5,431.2 640,435 C640.5,438.8 641.7,445.2 639,448 C636.3,450.8 631.5,450.9 624,451.5 C616.5,452.1 599,451.8 594,451.8 Z" fill="#d0d0f4" opacity="1" filter="url(#bl)"/>
<path d="M636.1,433.7 h0.8v0.8h-0.8zM642,441.1 h0.8v0.8h-0.8zM610.8,429.9 h0.8v0.8h-0.8zM631.4,425.8 h0.8v0.8h-0.8zM562,447.8 h0.8v0.8h-0.8zM626.9,436.9 h0.8v0.8h-0.8zM621.3,415.9 h0.8v0.8h-0.8zM595.5,443.5 h0.8v0.8h-0.8zM641.2,448.2 h0.8v0.8h-0.8zM567.7,437 h0.8v0.8h-0.8zM603.8,424 h0.8v0.8h-0.8zM596.1,428.1 h0.8v0.8h-0.8zM603.8,440.7 h0.8v0.8h-0.8zM634.3,422.2 h0.8v0.8h-0.8zM641.7,423 h0.8v0.8h-0.8zM603.2,419.7 h0.8v0.8h-0.8zM610.7,431.3 h0.8v0.8h-0.8zM640,437.1 h0.8v0.8h-0.8zM586.2,449.4 h0.8v0.8h-0.8zM611.1,430.4 h0.8v0.8h-0.8zM632.1,436.4 h0.8v0.8h-0.8zM586,433.3 h0.8v0.8h-0.8zM580.5,450.4 h0.8v0.8h-0.8zM575.4,450.5 h0.8v0.8h-0.8zM603.7,414.6 h0.8v0.8h-0.8zM629.7,436.3 h0.8v0.8h-0.8zM615.7,448.4 h0.8v0.8h-0.8zM644,436.7 h0.8v0.8h-0.8zM591.1,447.2 h0.8v0.8h-0.8zM607.1,443.6 h0.8v0.8h-0.8zM569.4,444 h0.8v0.8h-0.8zM562.3,448.6 h0.8v0.8h-0.8zM577.5,446.2 h0.8v0.8h-0.8zM600.3,420.1 h0.8v0.8h-0.8zM641.6,424 h0.8v0.8h-0.8zM617,408.1 h0.8v0.8h-0.8zM629.1,450.9 h0.8v0.8h-0.8zM586.4,436 h0.8v0.8h-0.8zM644.1,434.2 h0.8v0.8h-0.8zM612.9,412.5 h0.8v0.8h-0.8zM619.6,430.8 h0.8v0.8h-0.8zM585.9,447.1 h0.8v0.8h-0.8zM607,442.5 h0.8v0.8h-0.8zM605.7,431.2 h0.8v0.8h-0.8zM590.8,430.4 h0.8v0.8h-0.8zM622.4,416.3 h0.8v0.8h-0.8zM628.6,416.3 h0.8v0.8h-0.8zM623.2,415.4 h0.8v0.8h-0.8zM614.4,444.1 h0.8v0.8h-0.8zM594.5,428.5 h0.8v0.8h-0.8zM637.7,433.3 h0.8v0.8h-0.8zM600,448.8 h0.8v0.8h-0.8zM636.4,438.1 h0.8v0.8h-0.8zM630.7,435.3 h0.8v0.8h-0.8zM621.1,438.5 h0.8v0.8h-0.8zM614.4,425.3 h0.8v0.8h-0.8zM616,451.5 h0.8v0.8h-0.8zM614.5,415.4 h0.8v0.8h-0.8zM589.7,437.2 h0.8v0.8h-0.8zM614.4,428.2 h0.8v0.8h-0.8zM627.2,418.7 h0.8v0.8h-0.8zM638.6,443.1 h0.8v0.8h-0.8zM615.9,437.6 h0.8v0.8h-0.8zM606,450.7 h0.8v0.8h-0.8zM626.4,410.3 h0.8v0.8h-0.8zM606.5,438.8 h0.8v0.8h-0.8zM584.9,437.5 h0.8v0.8h-0.8zM586.6,438.3 h0.8v0.8h-0.8zM578.4,450.8 h0.8v0.8h-0.8zM632.3,434.8 h0.8v0.8h-0.8zM567.2,445.8 h0.8v0.8h-0.8zM618.7,410.4 h0.8v0.8h-0.8zM587.9,436.4 h0.8v0.8h-0.8zM585.4,445.9 h0.8v0.8h-0.8zM636.3,441.8 h0.8v0.8h-0.8zM632.3,432.5 h0.8v0.8h-0.8zM641.9,435.1 h0.8v0.8h-0.8zM639.9,431.5 h0.8v0.8h-0.8zM597.3,420.8 h0.8v0.8h-0.8zM587.3,428.9 h0.8v0.8h-0.8zM606.9,415.4 h0.8v0.8h-0.8zM599.2,424.6 h0.8v0.8h-0.8zM613.9,413.7 h0.8v0.8h-0.8zM601.8,417.9 h0.8v0.8h-0.8zM623.6,437.9 h0.8v0.8h-0.8zM624.6,429.2 h0.8v0.8h-0.8zM575.8,448.3 h0.8v0.8h-0.8zM599.8,422.6 h0.8v0.8h-0.8zM618,443.3 h0.8v0.8h-0.8zM597.3,439.2 h0.8v0.8h-0.8zM586,440.3 h0.8v0.8h-0.8zM620.2,414.7 h0.8v0.8h-0.8zM574.4,441.7 h0.8v0.8h-0.8zM613,436.6 h0.8v0.8h-0.8zM611.3,437.5 h0.8v0.8h-0.8zM641.2,429.6 h0.8v0.8h-0.8zM614.5,450.2 h0.8v0.8h-0.8zM626.8,415.7 h0.8v0.8h-0.8zM626,439.5 h0.8v0.8h-0.8zM597.7,422.3 h0.8v0.8h-0.8zM618.3,446.9 h0.8v0.8h-0.8zM630.8,445.6 h0.8v0.8h-0.8zM593.3,424.7 h0.8v0.8h-0.8zM581.8,450.6 h0.8v0.8h-0.8zM578.8,448.2 h0.8v0.8h-0.8zM631.2,420.5 h0.8v0.8h-0.8zM631.1,446.7 h0.8v0.8h-0.8zM623.9,422.5 h0.8v0.8h-0.8zM563.9,447.3 h0.8v0.8h-0.8zM593.3,423.6 h0.8v0.8h-0.8zM607.6,416.9 h0.8v0.8h-0.8zM587.1,440.6 h0.8v0.8h-0.8zM583.5,436.8 h0.8v0.8h-0.8zM610.3,413.8 h0.8v0.8h-0.8zM609,418.7 h0.8v0.8h-0.8zM571.4,445 h0.8v0.8h-0.8zM636.4,415.9 h0.8v0.8h-0.8zM606.7,431.9 h0.8v0.8h-0.8zM582.8,435.2 h0.8v0.8h-0.8zM608.2,428.9 h0.8v0.8h-0.8zM586.3,447.2 h0.8v0.8h-0.8zM563.6,451.2 h0.8v0.8h-0.8zM575,445.1 h0.8v0.8h-0.8zM575.3,432.5 h0.8v0.8h-0.8zM626,442.9 h0.8v0.8h-0.8zM577.7,441.3 h0.8v0.8h-0.8zM596.9,451.2 h0.8v0.8h-0.8zM573.9,434.2 h0.8v0.8h-0.8zM624.3,444.4 h0.8v0.8h-0.8zM603.3,423.1 h0.8v0.8h-0.8zM626.3,409.9 h0.8v0.8h-0.8zM576.8,440.2 h0.8v0.8h-0.8zM593.4,451.5 h0.8v0.8h-0.8zM586.8,425.2 h0.8v0.8h-0.8zM599.6,418.5 h0.8v0.8h-0.8zM617.4,429.2 h0.8v0.8h-0.8zM599.8,428.1 h0.8v0.8h-0.8zM587.1,445.3 h0.8v0.8h-0.8zM572.2,446.1 h0.8v0.8h-0.8zM609.4,431.4 h0.8v0.8h-0.8zM640.6,422.3 h0.8v0.8h-0.8zM601.8,420.3 h0.8v0.8h-0.8zM583.1,444.5 h0.8v0.8h-0.8zM640.7,421.9 h0.8v0.8h-0.8zM613.7,436.1 h0.8v0.8h-0.8zM593.9,424 h0.8v0.8h-0.8zM574.3,442 h0.8v0.8h-0.8zM594.9,443.9 h0.8v0.8h-0.8zM587.4,439.3 h0.8v0.8h-0.8zM641.1,436.9 h0.8v0.8h-0.8zM615,428.3 h0.8v0.8h-0.8zM616.6,417.1 h0.8v0.8h-0.8zM612.1,411.4 h0.8v0.8h-0.8zM609.2,413 h0.8v0.8h-0.8zM599.7,419.7 h0.8v0.8h-0.8zM597.3,433.9 h0.8v0.8h-0.8zM615.2,430.6 h0.8v0.8h-0.8zM609.6,441.5 h0.8v0.8h-0.8zM605.4,415.4 h0.8v0.8h-0.8zM593.6,443.9 h0.8v0.8h-0.8zM605,440.2 h0.8v0.8h-0.8zM586.4,426 h0.8v0.8h-0.8zM641.9,443.5 h0.8v0.8h-0.8zM612.9,410 h0.8v0.8h-0.8zM638.6,450.5 h0.8v0.8h-0.8zM619.8,417.5 h0.8v0.8h-0.8zM630.6,413.3 h0.8v0.8h-0.8zM628.9,429.4 h0.8v0.8h-0.8zM593.4,443.9 h0.8v0.8h-0.8zM616.1,429.9 h0.8v0.8h-0.8zM632.1,414.5 h0.8v0.8h-0.8zM635.4,420.9 h0.8v0.8h-0.8zM578.6,448.1 h0.8v0.8h-0.8zM636,445.7 h0.8v0.8h-0.8zM626,418.1 h0.8v0.8h-0.8zM638,442.9 h0.8v0.8h-0.8zM620.1,415.7 h0.8v0.8h-0.8zM561.4,448.3 h0.8v0.8h-0.8zM603.6,433.7 h0.8v0.8h-0.8zM632,411.7 h0.8v0.8h-0.8zM617.1,426.7 h0.8v0.8h-0.8zM625.1,426.3 h0.8v0.8h-0.8zM571,449.8 h0.8v0.8h-0.8zM578.8,439.9 h0.8v0.8h-0.8zM629.2,416.6 h0.8v0.8h-0.8zM616.7,423.5 h0.8v0.8h-0.8zM640.5,422.2 h0.8v0.8h-0.8zM599.8,428.5 h0.8v0.8h-0.8zM621.3,446 h0.8v0.8h-0.8zM584.9,439.3 h0.8v0.8h-0.8zM613.3,424 h0.8v0.8h-0.8zM637.2,427.1 h0.8v0.8h-0.8zM599.5,441.8 h0.8v0.8h-0.8zM571.1,438.8 h0.8v0.8h-0.8zM585.4,443 h0.8v0.8h-0.8zM611.3,427.6 h0.8v0.8h-0.8zM587.6,432.1 h0.8v0.8h-0.8zM576.3,443.9 h0.8v0.8h-0.8zM603.6,433.2 h0.8v0.8h-0.8zM624.3,418.7 h0.8v0.8h-0.8zM632.1,441.8 h0.8v0.8h-0.8zM615.2,443.2 h0.8v0.8h-0.8zM593,436.5 h0.8v0.8h-0.8zM573.3,445.6 h0.8v0.8h-0.8zM602.3,425.6 h0.8v0.8h-0.8zM599.2,444.2 h0.8v0.8h-0.8zM554.5,448.5 h0.8v0.8h-0.8zM623.4,431.7 h0.8v0.8h-0.8zM602.3,415.2 h0.8v0.8h-0.8zM624.6,419.3 h0.8v0.8h-0.8zM619.7,415.7 h0.8v0.8h-0.8zM605.5,435.3 h0.8v0.8h-0.8zM587.1,427.5 h0.8v0.8h-0.8zM616.4,412.2 h0.8v0.8h-0.8zM603.5,439.3 h0.8v0.8h-0.8zM562.3,444.3 h0.8v0.8h-0.8zM587.1,441.9 h0.8v0.8h-0.8zM619.3,410.3 h0.8v0.8h-0.8zM616.9,441.5 h0.8v0.8h-0.8zM590.8,448.6 h0.8v0.8h-0.8zM559.7,449.4 h0.8v0.8h-0.8zM600,425.6 h0.8v0.8h-0.8zM593.1,441 h0.8v0.8h-0.8zM629.2,427.3 h0.8v0.8h-0.8zM634.7,424.1 h0.8v0.8h-0.8zM613.6,431.2 h0.8v0.8h-0.8zM595.3,431.9 h0.8v0.8h-0.8zM575.5,431.1 h0.8v0.8h-0.8zM632.3,408.7 h0.8v0.8h-0.8zM586.8,446.2 h0.8v0.8h-0.8zM610.5,434.6 h0.8v0.8h-0.8zM630.3,427 h0.8v0.8h-0.8zM618.4,439.1 h0.8v0.8h-0.8zM571.8,435.1 h0.8v0.8h-0.8zM613.2,435.8 h0.8v0.8h-0.8zM582.8,432.9 h0.8v0.8h-0.8zM614.5,418.4 h0.8v0.8h-0.8zM625.5,419.3 h0.8v0.8h-0.8zM603.1,442.8 h0.8v0.8h-0.8zM559.2,448.8 h0.8v0.8h-0.8zM589.2,428.5 h0.8v0.8h-0.8zM600.9,419 h0.8v0.8h-0.8zM641.7,422.9 h0.8v0.8h-0.8zM612.3,444 h0.8v0.8h-0.8zM589.1,440.3 h0.8v0.8h-0.8zM633.1,414.5 h0.8v0.8h-0.8zM593.4,440.7 h0.8v0.8h-0.8zM600.6,424.9 h0.8v0.8h-0.8zM639.1,447 h0.8v0.8h-0.8zM593.7,447.9 h0.8v0.8h-0.8zM580.8,432.4 h0.8v0.8h-0.8zM618.1,408 h0.8v0.8h-0.8zM580.7,438.5 h0.8v0.8h-0.8zM628.3,424.5 h0.8v0.8h-0.8zM630,407.2 h0.8v0.8h-0.8zM621.1,409.6 h0.8v0.8h-0.8zM639.6,424.1 h0.8v0.8h-0.8zM607.8,445.4 h0.8v0.8h-0.8zM616.6,432.5 h0.8v0.8h-0.8zM619.1,418 h0.8v0.8h-0.8z" fill="#a8a8ec" opacity="0.4"/>
<path d="M607.7,430.2 h0.8v0.8h-0.8zM583.4,440.8 h0.8v0.8h-0.8zM601.3,443.2 h0.8v0.8h-0.8zM631.6,429.4 h0.8v0.8h-0.8zM582.1,446.1 h0.8v0.8h-0.8zM609.7,427.3 h0.8v0.8h-0.8zM625.2,438.2 h0.8v0.8h-0.8zM568.2,447.6 h0.8v0.8h-0.8zM610.1,427 h0.8v0.8h-0.8zM598.1,443 h0.8v0.8h-0.8zM612.7,442.2 h0.8v0.8h-0.8zM636.9,433 h0.8v0.8h-0.8zM616.3,443.8 h0.8v0.8h-0.8zM612.7,433.4 h0.8v0.8h-0.8zM606.4,436.9 h0.8v0.8h-0.8zM576.7,450.2 h0.8v0.8h-0.8zM637.3,444.9 h0.8v0.8h-0.8zM639.4,435.3 h0.8v0.8h-0.8zM627.5,428.4 h0.8v0.8h-0.8zM619.9,443 h0.8v0.8h-0.8zM635.2,446.7 h0.8v0.8h-0.8zM630.6,429.2 h0.8v0.8h-0.8zM623.4,435.6 h0.8v0.8h-0.8zM624.3,447 h0.8v0.8h-0.8zM627.9,441.6 h0.8v0.8h-0.8zM606.3,427.5 h0.8v0.8h-0.8zM579.4,447.1 h0.8v0.8h-0.8zM587.7,447.1 h0.8v0.8h-0.8zM596,432.7 h0.8v0.8h-0.8zM636.9,428 h0.8v0.8h-0.8zM607.4,436.5 h0.8v0.8h-0.8zM637.7,432.5 h0.8v0.8h-0.8zM571.7,447.1 h0.8v0.8h-0.8zM625.1,442.4 h0.8v0.8h-0.8zM604.9,446 h0.8v0.8h-0.8zM576.9,442.8 h0.8v0.8h-0.8zM606.7,445 h0.8v0.8h-0.8zM611,439.5 h0.8v0.8h-0.8zM633.9,446 h0.8v0.8h-0.8zM606.2,431 h0.8v0.8h-0.8zM634.4,432.4 h0.8v0.8h-0.8zM617.1,449.7 h0.8v0.8h-0.8zM612.4,441.4 h0.8v0.8h-0.8zM635.1,445 h0.8v0.8h-0.8zM596.7,435.2 h0.8v0.8h-0.8zM621.3,430.8 h0.8v0.8h-0.8zM625.1,428.6 h0.8v0.8h-0.8zM615.3,448.5 h0.8v0.8h-0.8zM600.5,431.3 h0.8v0.8h-0.8zM596.8,445.4 h0.8v0.8h-0.8zM611.3,426.3 h0.8v0.8h-0.8zM594.1,450.4 h0.8v0.8h-0.8zM594.3,447.2 h0.8v0.8h-0.8zM622.8,439.1 h0.8v0.8h-0.8zM600.3,433.2 h0.8v0.8h-0.8zM612.4,436.6 h0.8v0.8h-0.8zM587.2,439.7 h0.8v0.8h-0.8zM595,446.8 h0.8v0.8h-0.8zM616.4,450.8 h0.8v0.8h-0.8zM627.3,439 h0.8v0.8h-0.8zM604.3,432.6 h0.8v0.8h-0.8zM600.4,433.5 h0.8v0.8h-0.8zM624.4,439.4 h0.8v0.8h-0.8zM621.2,422.4 h0.8v0.8h-0.8zM630.5,441.5 h0.8v0.8h-0.8zM583.6,449.3 h0.8v0.8h-0.8zM626.4,448.6 h0.8v0.8h-0.8zM621.4,440 h0.8v0.8h-0.8zM587.9,437.7 h0.8v0.8h-0.8zM634.4,438.5 h0.8v0.8h-0.8zM633.3,438.4 h0.8v0.8h-0.8zM597.9,438 h0.8v0.8h-0.8zM618.7,450.8 h0.8v0.8h-0.8zM610.6,435.7 h0.8v0.8h-0.8zM611.5,437.4 h0.8v0.8h-0.8zM617,450.2 h0.8v0.8h-0.8zM630.4,422.8 h0.8v0.8h-0.8zM623.6,422 h0.8v0.8h-0.8zM612.6,445.6 h0.8v0.8h-0.8zM579.7,442.7 h0.8v0.8h-0.8zM603.2,439.7 h0.8v0.8h-0.8zM587.4,439.1 h0.8v0.8h-0.8zM636.4,445 h0.8v0.8h-0.8zM636.2,428.6 h0.8v0.8h-0.8zM602.3,432.9 h0.8v0.8h-0.8zM589,445.7 h0.8v0.8h-0.8zM622.4,449.8 h0.8v0.8h-0.8zM600.5,449.8 h0.8v0.8h-0.8zM574.7,446.9 h0.8v0.8h-0.8zM593,437.9 h0.8v0.8h-0.8zM616.7,438.9 h0.8v0.8h-0.8zM571.5,445.7 h0.8v0.8h-0.8zM626,446.3 h0.8v0.8h-0.8zM578.9,449.9 h0.8v0.8h-0.8zM625.2,428.1 h0.8v0.8h-0.8zM626.4,424 h0.8v0.8h-0.8zM621.8,444.8 h0.8v0.8h-0.8zM611.4,446.6 h0.8v0.8h-0.8zM627,449.4 h0.8v0.8h-0.8zM586.5,442.1 h0.8v0.8h-0.8zM615.4,447.1 h0.8v0.8h-0.8zM606.2,429.5 h0.8v0.8h-0.8zM572.6,447.5 h0.8v0.8h-0.8zM631.4,428.5 h0.8v0.8h-0.8zM616.4,441.7 h0.8v0.8h-0.8zM621.8,430.4 h0.8v0.8h-0.8zM622.2,435.4 h0.8v0.8h-0.8zM625.6,425.9 h0.8v0.8h-0.8zM630.6,426 h0.8v0.8h-0.8zM613.8,447.9 h0.8v0.8h-0.8zM593.9,434.8 h0.8v0.8h-0.8zM580.9,445.3 h0.8v0.8h-0.8zM617.7,445.2 h0.8v0.8h-0.8zM603.5,442.5 h0.8v0.8h-0.8zM619.7,427.6 h0.8v0.8h-0.8zM629.4,440.7 h0.8v0.8h-0.8zM599.5,432.7 h0.8v0.8h-0.8zM597.1,438.5 h0.8v0.8h-0.8zM629.3,428.9 h0.8v0.8h-0.8zM601.2,444.7 h0.8v0.8h-0.8zM639.3,435.8 h0.8v0.8h-0.8zM591.8,446.9 h0.8v0.8h-0.8zM631.6,432.6 h0.8v0.8h-0.8zM619.8,449.4 h0.8v0.8h-0.8zM613.5,430.5 h0.8v0.8h-0.8zM602.2,429.9 h0.8v0.8h-0.8zM596.8,435.4 h0.8v0.8h-0.8zM633.2,448.9 h0.8v0.8h-0.8zM634.3,435.7 h0.8v0.8h-0.8zM633.8,440.7 h0.8v0.8h-0.8zM630.1,433.7 h0.8v0.8h-0.8zM628.1,446.2 h0.8v0.8h-0.8zM591.2,446.5 h0.8v0.8h-0.8zM578.7,444.2 h0.8v0.8h-0.8zM598.5,433.7 h0.8v0.8h-0.8zM577.3,445.6 h0.8v0.8h-0.8zM619,423.7 h0.8v0.8h-0.8zM607,448.4 h0.8v0.8h-0.8zM635.7,440.5 h0.8v0.8h-0.8zM607.5,434.8 h0.8v0.8h-0.8zM638.6,433.7 h0.8v0.8h-0.8zM575.4,449.9 h0.8v0.8h-0.8zM608.1,437.7 h0.8v0.8h-0.8zM596.8,451.2 h0.8v0.8h-0.8zM589,445.1 h0.8v0.8h-0.8zM631.4,428.3 h0.8v0.8h-0.8zM622.9,434.6 h0.8v0.8h-0.8zM603.9,437.4 h0.8v0.8h-0.8zM614.1,442.2 h0.8v0.8h-0.8zM591.7,449.3 h0.8v0.8h-0.8zM626,430.3 h0.8v0.8h-0.8zM613,427.9 h0.8v0.8h-0.8zM610.8,429.6 h0.8v0.8h-0.8zM625.6,435 h0.8v0.8h-0.8zM617.8,431.7 h0.8v0.8h-0.8zM624.9,439.4 h0.8v0.8h-0.8zM613,433.1 h0.8v0.8h-0.8zM638,441.7 h0.8v0.8h-0.8zM603.5,440.7 h0.8v0.8h-0.8zM580,447 h0.8v0.8h-0.8zM629.7,445.1 h0.8v0.8h-0.8zM618.1,430.3 h0.8v0.8h-0.8zM580.1,442.7 h0.8v0.8h-0.8zM585.3,443.3 h0.8v0.8h-0.8zM589.3,444.4 h0.8v0.8h-0.8zM606.7,446.1 h0.8v0.8h-0.8zM638.9,432.7 h0.8v0.8h-0.8zM604.5,433 h0.8v0.8h-0.8zM622,430.7 h0.8v0.8h-0.8zM578.2,445.1 h0.8v0.8h-0.8zM604.9,444.3 h0.8v0.8h-0.8zM622.2,427.7 h0.8v0.8h-0.8zM582.2,441.5 h0.8v0.8h-0.8zM621.6,440.6 h0.8v0.8h-0.8zM596.6,443.6 h0.8v0.8h-0.8zM614.2,427.3 h0.8v0.8h-0.8zM603.7,439.4 h0.8v0.8h-0.8zM618.8,427.1 h0.8v0.8h-0.8zM618.9,438.8 h0.8v0.8h-0.8zM575.5,443.5 h0.8v0.8h-0.8zM583.1,448.2 h0.8v0.8h-0.8zM635.2,429.7 h0.8v0.8h-0.8zM620.5,442.4 h0.8v0.8h-0.8zM605.8,428.9 h0.8v0.8h-0.8zM595.6,448.7 h0.8v0.8h-0.8zM632.2,429.4 h0.8v0.8h-0.8zM607.1,434.7 h0.8v0.8h-0.8zM622.4,443.3 h0.8v0.8h-0.8zM588.8,449.3 h0.8v0.8h-0.8zM623.7,438.3 h0.8v0.8h-0.8zM599.1,431.2 h0.8v0.8h-0.8zM572.5,448.3 h0.8v0.8h-0.8zM634.2,448.3 h0.8v0.8h-0.8zM627.1,431.8 h0.8v0.8h-0.8zM600.9,441.5 h0.8v0.8h-0.8zM595.2,451.3 h0.8v0.8h-0.8zM576.6,442.9 h0.8v0.8h-0.8zM624,424 h0.8v0.8h-0.8zM610.6,447.5 h0.8v0.8h-0.8zM621.7,435.5 h0.8v0.8h-0.8zM634.7,431.4 h0.8v0.8h-0.8zM593,450.5 h0.8v0.8h-0.8zM588.8,450.8 h0.8v0.8h-0.8zM631.5,427.2 h0.8v0.8h-0.8zM604.6,450 h0.8v0.8h-0.8zM571.2,447.1 h0.8v0.8h-0.8zM622.4,444.1 h0.8v0.8h-0.8zM623.1,443.3 h0.8v0.8h-0.8zM586.8,442.1 h0.8v0.8h-0.8zM594,444.1 h0.8v0.8h-0.8zM565.4,449.7 h0.8v0.8h-0.8zM592,445.7 h0.8v0.8h-0.8zM598.8,446 h0.8v0.8h-0.8zM585.5,437.8 h0.8v0.8h-0.8zM568.2,447.5 h0.8v0.8h-0.8zM614.8,434.1 h0.8v0.8h-0.8zM616.9,443.4 h0.8v0.8h-0.8zM634.1,434.5 h0.8v0.8h-0.8zM608.4,446.1 h0.8v0.8h-0.8zM634,429.3 h0.8v0.8h-0.8zM632,441.5 h0.8v0.8h-0.8zM594.2,450.2 h0.8v0.8h-0.8zM570.1,450.4 h0.8v0.8h-0.8zM627.6,443.5 h0.8v0.8h-0.8zM600.5,436.1 h0.8v0.8h-0.8zM624.6,425 h0.8v0.8h-0.8zM630.3,433.9 h0.8v0.8h-0.8zM597.9,440.9 h0.8v0.8h-0.8zM606.4,448.4 h0.8v0.8h-0.8zM601.9,436.8 h0.8v0.8h-0.8zM633.8,435.9 h0.8v0.8h-0.8zM630.5,442.5 h0.8v0.8h-0.8zM618.9,444.4 h0.8v0.8h-0.8zM585.5,443.5 h0.8v0.8h-0.8zM608.4,444.9 h0.8v0.8h-0.8zM626.3,445.8 h0.8v0.8h-0.8zM618.4,444 h0.8v0.8h-0.8zM612.6,445 h0.8v0.8h-0.8zM602.2,438.3 h0.8v0.8h-0.8zM633.8,441 h0.8v0.8h-0.8zM613.2,439.1 h0.8v0.8h-0.8zM600.5,444.3 h0.8v0.8h-0.8zM595.2,434 h0.8v0.8h-0.8zM595.7,438.3 h0.8v0.8h-0.8zM592.8,434.8 h0.8v0.8h-0.8zM608.2,432.3 h0.8v0.8h-0.8zM630.2,449.9 h0.8v0.8h-0.8zM631.6,446.8 h0.8v0.8h-0.8zM616.5,445.5 h0.8v0.8h-0.8zM598.6,432.9 h0.8v0.8h-0.8z" fill="#ffffff" opacity="0.45"/>
<path d="M557.3,445.6 C559.6,445.2 566.3,443.9 571.2,442.9 C576.1,441.9 581.5,440.8 586.7,439.8 C591.9,438.9 597.1,438.1 602.2,437.2 C607.4,436.3 612.7,435.3 617.6,434.7 C622.5,434.1 627.7,433.6 631.6,433.3 C635.5,433.1 638.1,433 640.9,433.2 C643.7,433.4 647.3,434.2 648.6,434.4" stroke="#7048b0" stroke-width="0.95" fill="none"/>
<path d="M548.8,388.9 V458.6" stroke="#e4e4e4" stroke-width="0.9" fill="none"/>
<path d="M548.8,388.9 H652.7" stroke="#dcdcdc" stroke-width="0.9" fill="none"/>
<path d="M652.7,388.9 V458.6" stroke="#e4e4e4" stroke-width="0.9" fill="none"/>
<path d="M548.8,458.6 H652.7" stroke="#e4e4e4" stroke-width="0.9" fill="none"/>
<path d="M548.8,451.2 h1.6 M548.8,437.5 h1.6 M548.8,423.8 h1.6 M548.8,410 h1.6 M548.8,396.3 h1.6 M548.8,458.6 v-1.6 M560.3,458.6 v-1.6 M571.9,458.6 v-1.6 M583.4,458.6 v-1.6 M595,458.6 v-1.6 M606.5,458.6 v-1.6 M618.1,458.6 v-1.6 M629.6,458.6 v-1.6 M641.2,458.6 v-1.6 M652.7,458.6 v-1.6" stroke="#bbbbbb" stroke-width="0.8" fill="none"/>
<text x="547.6" y="454.9" font-size="11.1" text-anchor="end" fill="#222" class="it">0.0</text>
<text x="547.6" y="441.2" font-size="11.1" text-anchor="end" fill="#222" class="it">0.5</text>
<text x="547.6" y="427.4" font-size="11.1" text-anchor="end" fill="#222" class="it">1.0</text>
<text x="547.6" y="413.7" font-size="11.1" text-anchor="end" fill="#222" class="it">1.5</text>
<text x="547.6" y="400" font-size="11.1" text-anchor="end" fill="#222" class="it">2.0</text>
<text x="560.3" y="468.4" font-size="11.1" text-anchor="middle" fill="#222" class="it">0</text>
<text x="583.4" y="468.4" font-size="11.1" text-anchor="middle" fill="#222" class="it">10</text>
<text x="606.5" y="468.4" font-size="11.1" text-anchor="middle" fill="#222" class="it">20</text>
<text x="629.6" y="468.4" font-size="11.1" text-anchor="middle" fill="#222" class="it">30</text>
<text x="652.7" y="468.4" font-size="11.1" text-anchor="middle" fill="#222" class="it">40</text>
<text x="553.9" y="403.2" font-size="11.1" fill="#222" class="it">R<tspan dy="-3.9" font-size="6.8">2</tspan><tspan dy="3.9">=0.09 P&lt;0.01</tspan></text>
<rect x="400.6" y="282.6" width="266" height="193.6" fill="none" stroke="#333" stroke-width="1.5"/>
<path d="M400.6,464.8 h5.2 M400.6,453.4 h3.0 M400.6,442 h5.2 M400.6,430.6 h3.0 M400.6,419.3 h5.2 M400.6,407.9 h3.0 M400.6,396.5 h5.2 M400.6,385.1 h3.0 M400.6,373.7 h5.2 M400.6,362.3 h3.0 M400.6,350.9 h5.2 M400.6,339.5 h3.0 M400.6,328.2 h5.2 M400.6,316.8 h3.0 M400.6,305.4 h5.2 M400.6,294 h3.0 M415.4,476.2 v-3.0 M430.2,476.2 v-5.2 M444.9,476.2 v-3.0 M459.7,476.2 v-5.2 M474.5,476.2 v-3.0 M489.3,476.2 v-5.2 M504,476.2 v-3.0 M518.8,476.2 v-5.2 M533.6,476.2 v-3.0 M548.4,476.2 v-5.2 M563.2,476.2 v-3.0 M577.9,476.2 v-5.2 M592.7,476.2 v-3.0 M607.5,476.2 v-5.2 M622.3,476.2 v-3.0 M637,476.2 v-5.2 M651.8,476.2 v-3.0" stroke="#2a2a2a" stroke-width="1.2" fill="none"/>
<text x="394.5" y="470.4" font-size="16" text-anchor="end" fill="#111">-0.4</text>
<text x="394.5" y="447.6" font-size="16" text-anchor="end" fill="#111">-0.2</text>
<text x="394.5" y="424.9" font-size="16" text-anchor="end" fill="#111">0.0</text>
<text x="394.5" y="402.1" font-size="16" text-anchor="end" fill="#111">0.2</text>
<text x="394.5" y="379.3" font-size="16" text-anchor="end" fill="#111">0.4</text>
<text x="394.5" y="356.5" font-size="16" text-anchor="end" fill="#111">0.6</text>
<text x="394.5" y="333.8" font-size="16" text-anchor="end" fill="#111">0.8</text>
<text x="394.5" y="311" font-size="16" text-anchor="end" fill="#111">1.0</text>
<text x="394.5" y="288.2" font-size="16" text-anchor="end" fill="#111">1.2</text>
<text x="400.6" y="495.5" font-size="16" text-anchor="middle" fill="#111">-5</text>
<text x="430.2" y="495.5" font-size="16" text-anchor="middle" fill="#111">0</text>
<text x="459.7" y="495.5" font-size="16" text-anchor="middle" fill="#111">5</text>
<text x="489.3" y="495.5" font-size="16" text-anchor="middle" fill="#111">10</text>
<text x="518.8" y="495.5" font-size="16" text-anchor="middle" fill="#111">15</text>
<text x="548.4" y="495.5" font-size="16" text-anchor="middle" fill="#111">20</text>
<text x="577.9" y="495.5" font-size="16" text-anchor="middle" fill="#111">25</text>
<text x="607.5" y="495.5" font-size="16" text-anchor="middle" fill="#111">30</text>
<text x="637" y="495.5" font-size="16" text-anchor="middle" fill="#111">35</text>
<text x="666.6" y="495.5" font-size="16" text-anchor="middle" fill="#111">40</text>
<text x="533.6" y="516.1" font-size="19.2" text-anchor="middle" fill="#111">Ta (°C)</text>
<text transform="translate(357.7,379.4) rotate(-90)" font-size="19.6" text-anchor="middle" fill="#111">GPP (mg CO<tspan dy="5.5" font-size="12.6">2</tspan><tspan dy="-5.5"> m</tspan><tspan dy="-8.3" font-size="12.6">-2</tspan><tspan dy="8.3"> s</tspan><tspan dy="-8.3" font-size="12.6">-1</tspan><tspan dy="8.3">)</tspan></text>
<text x="414.7" y="310.9" font-size="22" fill="#111">(d)</text>
</g>
<g>
<path d="M71.1,616.6 C71.8,614.3 73.6,607 75.5,602.6 C77.4,598.2 79.9,594.2 82.5,590.3 C85.1,586.3 88.4,582.1 91.3,578.9 C94.2,575.7 97.1,573.2 100,571 C102.9,568.8 105.9,567.2 108.8,565.8 C111.7,564.3 114.7,563.2 117.6,562.3 C120.5,561.4 123.4,560.7 126.3,560.2 C129.2,559.8 132.2,559.4 135.1,559.6 C138,559.8 140.9,560.7 143.8,561.4 C146.7,562.1 149.7,563.3 152.6,564 C155.5,564.7 158.5,565.2 161.4,565.8 C164.3,566.4 167,566.7 170.1,567.5 C173.2,568.3 176.8,569.3 180,570.4 C183.2,571.5 186.3,572.9 189.5,574.2 C192.7,575.5 195.8,576.7 199,578 C202.2,579.3 205.3,580.7 208.5,581.8 C211.7,582.9 214.8,583.9 218,584.7 C221.2,585.5 224.2,585.7 227.4,586.6 C230.6,587.5 233.7,589 236.9,590.4 C240.1,591.8 243.2,593.5 246.4,595.1 C249.6,596.7 253.1,598.3 255.9,599.9 C258.8,601.5 261,603.4 263.5,604.6 C266,605.9 268.6,607.4 271.1,607.4 C273.6,607.4 276.5,605.4 278.7,604.6 C280.9,603.8 282.2,602.4 284.4,602.7 C286.6,603 289.5,605.1 292,606.5 C294.5,607.9 298.2,608.6 299.6,611.2 C301.1,613.8 300.6,618.2 300.7,622 C300.8,625.8 300.5,632 300.5,634 L287,636.3 C285.3,636.8 281.2,638.8 276.7,639.3 C272.2,639.8 266.1,639.2 260,639 C253.9,638.8 247.5,638.3 240,638 C232.5,637.7 221.8,637.2 215,637 C208.2,636.8 203.2,637.1 199,636.9 C194.8,636.7 192.7,636.2 189.5,635.9 C186.3,635.6 183.2,635.1 180,635 C176.8,634.9 173.2,634.7 170.1,635 C167,635.3 164.3,636.1 161.4,636.7 C158.5,637.3 155.5,637.9 152.6,638.5 C149.7,639.1 146.7,639.6 143.8,640.2 C140.9,640.8 138,641.4 135.1,642 C132.2,642.6 129.2,643.1 126.3,643.7 C123.4,644.3 120.5,644.9 117.6,645.5 C114.7,646.1 112.3,646.5 108.8,647.2 C105.3,647.9 100,648.9 96.5,649.9 C93,650.9 90.7,651.9 87.8,653.4 C84.9,654.9 81.8,656.7 79,658.6 C76.2,660.5 72.4,663.8 71.1,664.8 Z" fill="#e3effd"/>
<rect x="214.2" y="639.6" width="104.6" height="70.1" fill="#fff"/>
<path d="M74.3,636.8 L84.7,624.3 M91.4,617.9 L99.3,611.6 M106.8,607.7 L114.4,605.4 M122,603.5 L130,601.6 M137.6,601 L145,601.3 M152.6,601.8 L160.3,602.6 M167.9,602.8 L175.5,602.6 M183.1,603.7 L190.9,606.4 M198.5,608 L205.5,608.7 M213.1,609.4 L221.2,610 M228.8,611.1 L236.2,612.6 M243.8,614.3 L251.1,616 M258.6,618.8 L266.3,622.5 M273.8,623.3 L281.1,621 M288.7,620.9 L296.9,623" stroke="#8cc0f6" stroke-width="1.55" fill="none"/>
<rect x="68.2" y="637.3" width="6.2" height="6.2" fill="#86bdf6"/>
<rect x="84.6" y="617.6" width="6.2" height="6.2" fill="#86bdf6"/>
<rect x="99.9" y="605.7" width="6.2" height="6.2" fill="#86bdf6"/>
<rect x="115.1" y="601.2" width="6.2" height="6.2" fill="#86bdf6"/>
<rect x="130.7" y="597.7" width="6.2" height="6.2" fill="#86bdf6"/>
<rect x="145.7" y="598.4" width="6.2" height="6.2" fill="#86bdf6"/>
<rect x="161" y="599.8" width="6.2" height="6.2" fill="#86bdf6"/>
<rect x="176.2" y="599.4" width="6.2" height="6.2" fill="#86bdf6"/>
<rect x="191.6" y="604.5" width="6.2" height="6.2" fill="#86bdf6"/>
<rect x="206.2" y="606" width="6.2" height="6.2" fill="#86bdf6"/>
<rect x="221.9" y="607.2" width="6.2" height="6.2" fill="#86bdf6"/>
<rect x="236.9" y="610.3" width="6.2" height="6.2" fill="#86bdf6"/>
<rect x="251.8" y="613.8" width="6.2" height="6.2" fill="#86bdf6"/>
<rect x="266.9" y="621.3" width="6.2" height="6.2" fill="#86bdf6"/>
<rect x="281.8" y="616.8" width="6.2" height="6.2" fill="#86bdf6"/>
<rect x="297.6" y="620.9" width="6.2" height="6.2" fill="#86bdf6"/>
<circle cx="133.8" cy="600.8" r="5.3" fill="none" stroke="#e0262b" stroke-width="1.3"/>
<text x="143.3" y="588.7" font-size="16.3" text-anchor="middle" fill="#111">(1.16, 0.61)</text>
<path d="M214.6,702.4 C214.7,696.9 214.3,675.6 215.3,669.2 C216.3,662.8 218.6,665.3 220.8,663.8 C223,662.2 226,661.1 228.6,659.9 C231.2,658.7 233.8,657 236.4,656.7 C239,656.4 241.3,657.2 244.2,658.3 C247.1,659.3 250.2,661.4 253.6,663 C257,664.6 260.9,666.1 264.5,667.7 C268.1,669.3 271.6,670.9 275.5,672.4 C279.4,673.9 284.1,675.2 288,677 C291.9,678.8 295.9,681.5 299,683.3 C302.1,685.1 304.6,686.2 306.7,688 C308.8,689.8 310.9,692.1 311.4,694.2 C311.9,696.3 311.7,699.1 309.8,700.5 C307.9,701.9 308.3,702.2 300,702.6 C291.7,703 266.7,702.8 260,702.8 Z" fill="#ececfa" opacity="1" filter="url(#bl)"/>
<path d="M214.8,702.2 C214.8,699.2 213.8,688.4 215,684 C216.2,679.6 219.2,678 222,676 C224.8,674 228.2,672.7 232,672 C235.8,671.3 240.7,671.2 245,672 C249.3,672.8 253.8,675 258,677 C262.2,679 265.5,681.8 270,684 C274.5,686.2 280.3,687.8 285,690 C289.7,692.2 295.5,694.9 298,697 C300.5,699.1 306.3,701.6 300,702.6 C293.7,703.6 266.7,702.8 260,702.8 Z" fill="#cbcbf3" opacity="1" filter="url(#bl)"/>
<path d="M237.2,693.5 h0.8v0.8h-0.8zM298.2,696.3 h0.8v0.8h-0.8zM225.7,684.1 h0.8v0.8h-0.8zM220.5,690.4 h0.8v0.8h-0.8zM221.2,694 h0.8v0.8h-0.8zM279,678.5 h0.8v0.8h-0.8zM300.9,699.7 h0.8v0.8h-0.8zM271.6,676.1 h0.8v0.8h-0.8zM238.8,699.5 h0.8v0.8h-0.8zM236.8,672.5 h0.8v0.8h-0.8zM270.1,671.7 h0.8v0.8h-0.8zM257.2,694.2 h0.8v0.8h-0.8zM232.2,689.9 h0.8v0.8h-0.8zM246.6,700.2 h0.8v0.8h-0.8zM254.3,685.4 h0.8v0.8h-0.8zM244.2,685.2 h0.8v0.8h-0.8zM239.3,683.7 h0.8v0.8h-0.8zM241.3,692.8 h0.8v0.8h-0.8zM229.7,668.8 h0.8v0.8h-0.8zM257.1,698.6 h0.8v0.8h-0.8zM230.6,665.6 h0.8v0.8h-0.8zM227.3,666.6 h0.8v0.8h-0.8zM246.8,674.9 h0.8v0.8h-0.8zM260.6,675 h0.8v0.8h-0.8zM289.5,698.3 h0.8v0.8h-0.8zM255.8,699.2 h0.8v0.8h-0.8zM238.9,701.8 h0.8v0.8h-0.8zM265.5,688.1 h0.8v0.8h-0.8zM251.5,669.2 h0.8v0.8h-0.8zM227.7,697.5 h0.8v0.8h-0.8zM249.4,688.9 h0.8v0.8h-0.8zM259.2,681 h0.8v0.8h-0.8zM234.6,664.9 h0.8v0.8h-0.8zM247.1,688.1 h0.8v0.8h-0.8zM283.4,676.7 h0.8v0.8h-0.8zM221.3,668.7 h0.8v0.8h-0.8zM235.1,694.6 h0.8v0.8h-0.8zM267.8,671.8 h0.8v0.8h-0.8zM238.7,670.1 h0.8v0.8h-0.8zM241.7,672.7 h0.8v0.8h-0.8zM291.1,693.1 h0.8v0.8h-0.8zM282.2,697.5 h0.8v0.8h-0.8zM239.6,681.1 h0.8v0.8h-0.8zM294.2,683.7 h0.8v0.8h-0.8zM256.2,667.9 h0.8v0.8h-0.8zM224.4,665.9 h0.8v0.8h-0.8zM292.6,701.8 h0.8v0.8h-0.8zM276.8,688.1 h0.8v0.8h-0.8zM241.9,669.3 h0.8v0.8h-0.8zM223,702.1 h0.8v0.8h-0.8zM218.8,684.9 h0.8v0.8h-0.8zM248.5,665.3 h0.8v0.8h-0.8zM256.8,699.6 h0.8v0.8h-0.8zM238.6,664.3 h0.8v0.8h-0.8zM275.5,687 h0.8v0.8h-0.8zM231.5,667.8 h0.8v0.8h-0.8zM264.3,678.7 h0.8v0.8h-0.8zM268.2,690.2 h0.8v0.8h-0.8zM218.7,695 h0.8v0.8h-0.8zM216.4,671.4 h0.8v0.8h-0.8zM228.5,684.5 h0.8v0.8h-0.8zM243.1,695.9 h0.8v0.8h-0.8zM281,693.3 h0.8v0.8h-0.8zM254.1,663.9 h0.8v0.8h-0.8zM227.6,664.3 h0.8v0.8h-0.8zM251.9,682.1 h0.8v0.8h-0.8zM268,675.3 h0.8v0.8h-0.8zM246.5,699.7 h0.8v0.8h-0.8zM298.3,699.1 h0.8v0.8h-0.8zM288.7,681.4 h0.8v0.8h-0.8zM290.8,683.1 h0.8v0.8h-0.8zM226,668.5 h0.8v0.8h-0.8zM224,697 h0.8v0.8h-0.8zM245.8,675.5 h0.8v0.8h-0.8zM282.9,693.4 h0.8v0.8h-0.8zM291.7,697.3 h0.8v0.8h-0.8zM245.3,663.4 h0.8v0.8h-0.8zM288.3,688.7 h0.8v0.8h-0.8zM250.6,672.5 h0.8v0.8h-0.8zM229.5,695 h0.8v0.8h-0.8zM259.2,694.1 h0.8v0.8h-0.8zM247.5,671.5 h0.8v0.8h-0.8zM264.3,691.1 h0.8v0.8h-0.8zM281.7,675.3 h0.8v0.8h-0.8zM298,691.7 h0.8v0.8h-0.8zM268.4,673.4 h0.8v0.8h-0.8zM241.1,697.5 h0.8v0.8h-0.8zM222.8,665.7 h0.8v0.8h-0.8zM293,681.1 h0.8v0.8h-0.8zM268.2,681.6 h0.8v0.8h-0.8zM254.3,682.4 h0.8v0.8h-0.8zM223.3,699.1 h0.8v0.8h-0.8zM224.6,663.1 h0.8v0.8h-0.8zM279.7,686.2 h0.8v0.8h-0.8zM292.7,688.6 h0.8v0.8h-0.8zM266,692.2 h0.8v0.8h-0.8zM229.7,681 h0.8v0.8h-0.8zM301.8,691.2 h0.8v0.8h-0.8zM253.1,678.8 h0.8v0.8h-0.8zM241.5,701 h0.8v0.8h-0.8zM290.4,688.1 h0.8v0.8h-0.8zM244,690.4 h0.8v0.8h-0.8zM261.7,693.5 h0.8v0.8h-0.8zM249.8,697.3 h0.8v0.8h-0.8zM280.9,677.5 h0.8v0.8h-0.8zM269.1,693.8 h0.8v0.8h-0.8zM265.8,701 h0.8v0.8h-0.8zM215.3,698.1 h0.8v0.8h-0.8zM283.7,679.3 h0.8v0.8h-0.8zM247.3,689.6 h0.8v0.8h-0.8zM222,683 h0.8v0.8h-0.8zM245.8,668.7 h0.8v0.8h-0.8zM302.6,695.3 h0.8v0.8h-0.8zM268.7,677.2 h0.8v0.8h-0.8zM244.5,684.5 h0.8v0.8h-0.8zM248.2,701.7 h0.8v0.8h-0.8zM307.2,690.2 h0.8v0.8h-0.8zM226.6,672.6 h0.8v0.8h-0.8zM226.8,676.2 h0.8v0.8h-0.8zM310.1,695.2 h0.8v0.8h-0.8zM236.1,657.8 h0.8v0.8h-0.8zM241.1,659.3 h0.8v0.8h-0.8zM265.7,670.6 h0.8v0.8h-0.8zM279.8,682.6 h0.8v0.8h-0.8zM285.7,688.5 h0.8v0.8h-0.8zM283.7,678.4 h0.8v0.8h-0.8zM259.5,669.9 h0.8v0.8h-0.8zM218.5,678.2 h0.8v0.8h-0.8zM297.9,697.2 h0.8v0.8h-0.8zM297.2,694.3 h0.8v0.8h-0.8zM240.8,690.7 h0.8v0.8h-0.8zM248.4,684.3 h0.8v0.8h-0.8zM225.5,695.6 h0.8v0.8h-0.8zM247.3,698.6 h0.8v0.8h-0.8zM246.5,670.8 h0.8v0.8h-0.8zM231.6,701.2 h0.8v0.8h-0.8zM271.7,694.8 h0.8v0.8h-0.8zM220.7,681.7 h0.8v0.8h-0.8zM285.6,702.1 h0.8v0.8h-0.8zM266.4,700.8 h0.8v0.8h-0.8zM239.1,657.9 h0.8v0.8h-0.8zM268.9,673.3 h0.8v0.8h-0.8zM270.5,699.7 h0.8v0.8h-0.8zM306.3,697.1 h0.8v0.8h-0.8zM239.5,694.5 h0.8v0.8h-0.8zM216.4,675.9 h0.8v0.8h-0.8zM250.1,683.5 h0.8v0.8h-0.8zM237.5,689.4 h0.8v0.8h-0.8zM228.5,660.3 h0.8v0.8h-0.8zM259,693.3 h0.8v0.8h-0.8zM308.5,699.4 h0.8v0.8h-0.8zM266.1,669.4 h0.8v0.8h-0.8zM264.8,701.9 h0.8v0.8h-0.8zM285.3,687.6 h0.8v0.8h-0.8zM268.7,695.8 h0.8v0.8h-0.8zM233.9,696.3 h0.8v0.8h-0.8zM217,681.5 h0.8v0.8h-0.8zM232.5,675.7 h0.8v0.8h-0.8zM271.8,676.5 h0.8v0.8h-0.8zM239.3,693.9 h0.8v0.8h-0.8zM298,697.3 h0.8v0.8h-0.8zM287.6,684.3 h0.8v0.8h-0.8zM256.4,667.6 h0.8v0.8h-0.8zM271.5,701.9 h0.8v0.8h-0.8zM234.9,660.2 h0.8v0.8h-0.8zM236.2,676.9 h0.8v0.8h-0.8zM245.2,678.6 h0.8v0.8h-0.8zM230.3,675.2 h0.8v0.8h-0.8zM224.4,685.6 h0.8v0.8h-0.8zM258.4,699 h0.8v0.8h-0.8zM224.8,691.1 h0.8v0.8h-0.8zM227,684.9 h0.8v0.8h-0.8zM288,678.5 h0.8v0.8h-0.8zM260.3,688.3 h0.8v0.8h-0.8zM273.6,676.2 h0.8v0.8h-0.8zM232.6,678.1 h0.8v0.8h-0.8zM267.8,698 h0.8v0.8h-0.8zM246.4,667 h0.8v0.8h-0.8zM275.6,690.7 h0.8v0.8h-0.8zM238.6,688.5 h0.8v0.8h-0.8zM277.7,696.6 h0.8v0.8h-0.8zM234.3,672.6 h0.8v0.8h-0.8zM244.2,678.7 h0.8v0.8h-0.8zM286.7,685.8 h0.8v0.8h-0.8zM304.6,687.6 h0.8v0.8h-0.8zM218.1,676.6 h0.8v0.8h-0.8zM217.2,680.9 h0.8v0.8h-0.8zM274.6,681.7 h0.8v0.8h-0.8zM240.1,692.7 h0.8v0.8h-0.8zM245.6,697.4 h0.8v0.8h-0.8zM243.5,684.8 h0.8v0.8h-0.8zM265.3,676.1 h0.8v0.8h-0.8zM257,702.4 h0.8v0.8h-0.8zM303.6,699 h0.8v0.8h-0.8zM285.8,689 h0.8v0.8h-0.8zM295,687.7 h0.8v0.8h-0.8zM240.5,699.2 h0.8v0.8h-0.8zM247.6,672.8 h0.8v0.8h-0.8zM221.1,701.8 h0.8v0.8h-0.8zM302,694.3 h0.8v0.8h-0.8zM225.4,690.2 h0.8v0.8h-0.8zM293,693.1 h0.8v0.8h-0.8zM296.1,694.9 h0.8v0.8h-0.8zM289.2,693.7 h0.8v0.8h-0.8zM270.8,702.2 h0.8v0.8h-0.8zM289.6,699.4 h0.8v0.8h-0.8zM246,672.4 h0.8v0.8h-0.8zM282.5,680.7 h0.8v0.8h-0.8zM254.6,691 h0.8v0.8h-0.8zM282.6,697.6 h0.8v0.8h-0.8zM244.5,695.8 h0.8v0.8h-0.8zM286,683.1 h0.8v0.8h-0.8zM254.1,682.8 h0.8v0.8h-0.8zM244.7,662.4 h0.8v0.8h-0.8zM219.3,689.7 h0.8v0.8h-0.8zM285.4,685.1 h0.8v0.8h-0.8zM234.5,690 h0.8v0.8h-0.8zM294.5,685.2 h0.8v0.8h-0.8zM236.6,682.7 h0.8v0.8h-0.8zM252.8,669.1 h0.8v0.8h-0.8zM229,696.6 h0.8v0.8h-0.8zM275.8,699.7 h0.8v0.8h-0.8zM231.3,668.9 h0.8v0.8h-0.8zM243.9,681.6 h0.8v0.8h-0.8zM261.2,698.6 h0.8v0.8h-0.8zM270.5,686.1 h0.8v0.8h-0.8zM271.2,692.9 h0.8v0.8h-0.8zM309.5,693.2 h0.8v0.8h-0.8zM226.9,661.9 h0.8v0.8h-0.8zM236.1,687 h0.8v0.8h-0.8zM239.7,674.3 h0.8v0.8h-0.8zM239.8,667.9 h0.8v0.8h-0.8zM246,675.8 h0.8v0.8h-0.8zM249.4,671.6 h0.8v0.8h-0.8zM216.5,695.3 h0.8v0.8h-0.8zM286.1,679.4 h0.8v0.8h-0.8zM234.5,694.5 h0.8v0.8h-0.8zM263.1,682.6 h0.8v0.8h-0.8zM226,671.4 h0.8v0.8h-0.8zM274.4,687.7 h0.8v0.8h-0.8zM275.4,685.3 h0.8v0.8h-0.8zM216.2,695.3 h0.8v0.8h-0.8zM298.3,698.4 h0.8v0.8h-0.8zM222,692.2 h0.8v0.8h-0.8zM231.2,672.7 h0.8v0.8h-0.8zM234,696.3 h0.8v0.8h-0.8zM293.9,695.1 h0.8v0.8h-0.8zM251.5,699.9 h0.8v0.8h-0.8zM239.8,683.2 h0.8v0.8h-0.8zM227.8,669.5 h0.8v0.8h-0.8zM276.6,686.1 h0.8v0.8h-0.8zM265.4,696 h0.8v0.8h-0.8zM238,663.5 h0.8v0.8h-0.8zM222.1,672.8 h0.8v0.8h-0.8zM300.4,686.9 h0.8v0.8h-0.8zM223.1,666.8 h0.8v0.8h-0.8zM271.9,681.1 h0.8v0.8h-0.8zM269.4,684.4 h0.8v0.8h-0.8zM222.4,692.3 h0.8v0.8h-0.8zM237.9,683.9 h0.8v0.8h-0.8z" fill="#a8a8ec" opacity="0.4"/>
<path d="M259.9,682.5 h0.8v0.8h-0.8zM250.9,688.6 h0.8v0.8h-0.8zM286.3,702.4 h0.8v0.8h-0.8zM280.4,688.6 h0.8v0.8h-0.8zM275.9,691.7 h0.8v0.8h-0.8zM296.5,701.9 h0.8v0.8h-0.8zM263.2,685.5 h0.8v0.8h-0.8zM234.5,696.1 h0.8v0.8h-0.8zM233.6,693.9 h0.8v0.8h-0.8zM256.5,685.1 h0.8v0.8h-0.8zM275,694.3 h0.8v0.8h-0.8zM271.8,687.3 h0.8v0.8h-0.8zM245.3,672.8 h0.8v0.8h-0.8zM254.9,688.4 h0.8v0.8h-0.8zM241.1,675.2 h0.8v0.8h-0.8zM229.4,685.7 h0.8v0.8h-0.8zM244.5,687.4 h0.8v0.8h-0.8zM260,684 h0.8v0.8h-0.8zM262.5,701.9 h0.8v0.8h-0.8zM238.8,682.8 h0.8v0.8h-0.8zM242,694.9 h0.8v0.8h-0.8zM256.8,696.5 h0.8v0.8h-0.8zM232.4,683.4 h0.8v0.8h-0.8zM248.8,683.9 h0.8v0.8h-0.8zM263.8,701.7 h0.8v0.8h-0.8zM269.5,690.3 h0.8v0.8h-0.8zM217.9,701.5 h0.8v0.8h-0.8zM260.3,689.9 h0.8v0.8h-0.8zM220.5,694.9 h0.8v0.8h-0.8zM246.6,691.8 h0.8v0.8h-0.8zM239,700.3 h0.8v0.8h-0.8zM246.2,680.5 h0.8v0.8h-0.8zM237.9,687 h0.8v0.8h-0.8zM232.7,696.5 h0.8v0.8h-0.8zM221.2,684.8 h0.8v0.8h-0.8zM281.5,694 h0.8v0.8h-0.8zM236.8,676.6 h0.8v0.8h-0.8zM228.8,698.9 h0.8v0.8h-0.8zM263.7,698.6 h0.8v0.8h-0.8zM227.7,686.8 h0.8v0.8h-0.8zM237.2,700.4 h0.8v0.8h-0.8zM276.4,687.7 h0.8v0.8h-0.8zM266.7,698.5 h0.8v0.8h-0.8zM219.1,698.9 h0.8v0.8h-0.8zM228.8,679.4 h0.8v0.8h-0.8zM226.5,687.8 h0.8v0.8h-0.8zM264.4,686.2 h0.8v0.8h-0.8zM254.8,676.3 h0.8v0.8h-0.8zM276,688.6 h0.8v0.8h-0.8zM241.1,697.7 h0.8v0.8h-0.8zM294.8,700.4 h0.8v0.8h-0.8zM247.9,685.9 h0.8v0.8h-0.8zM236.7,694.9 h0.8v0.8h-0.8zM257.9,701.8 h0.8v0.8h-0.8zM223.7,686.1 h0.8v0.8h-0.8zM258.9,696.2 h0.8v0.8h-0.8zM230.7,680.6 h0.8v0.8h-0.8zM221.3,684 h0.8v0.8h-0.8zM258.7,688.6 h0.8v0.8h-0.8zM223.1,689.9 h0.8v0.8h-0.8zM252.8,682.1 h0.8v0.8h-0.8zM285.6,693.3 h0.8v0.8h-0.8zM225.1,675.3 h0.8v0.8h-0.8zM219.3,680.1 h0.8v0.8h-0.8zM269,701.8 h0.8v0.8h-0.8zM297.3,698.6 h0.8v0.8h-0.8zM225.4,696.4 h0.8v0.8h-0.8zM224.9,678.6 h0.8v0.8h-0.8zM225.8,690.8 h0.8v0.8h-0.8zM268,698.4 h0.8v0.8h-0.8zM237.3,698.7 h0.8v0.8h-0.8zM224.3,696.4 h0.8v0.8h-0.8zM266.5,690.9 h0.8v0.8h-0.8zM224.5,678.9 h0.8v0.8h-0.8zM223.9,679.7 h0.8v0.8h-0.8zM245.2,701.7 h0.8v0.8h-0.8zM263,698.3 h0.8v0.8h-0.8zM246.2,685.4 h0.8v0.8h-0.8zM264,702.4 h0.8v0.8h-0.8zM264.4,681.9 h0.8v0.8h-0.8zM255.1,694 h0.8v0.8h-0.8zM216.5,687.6 h0.8v0.8h-0.8zM241.6,690.5 h0.8v0.8h-0.8zM236.6,687.7 h0.8v0.8h-0.8zM260.2,678.9 h0.8v0.8h-0.8zM245.1,679.8 h0.8v0.8h-0.8zM286.1,699.8 h0.8v0.8h-0.8zM220.9,691.5 h0.8v0.8h-0.8zM216.9,698.4 h0.8v0.8h-0.8zM252.4,693 h0.8v0.8h-0.8zM228.4,683.2 h0.8v0.8h-0.8zM281.8,693 h0.8v0.8h-0.8zM233.3,679.9 h0.8v0.8h-0.8zM217.5,691.7 h0.8v0.8h-0.8zM263.6,700.5 h0.8v0.8h-0.8zM262,700.3 h0.8v0.8h-0.8zM254.7,687.9 h0.8v0.8h-0.8zM238.8,686.3 h0.8v0.8h-0.8zM231.7,691.2 h0.8v0.8h-0.8zM258.2,686.7 h0.8v0.8h-0.8zM293.8,695.5 h0.8v0.8h-0.8zM274.5,690.4 h0.8v0.8h-0.8zM270.4,687.4 h0.8v0.8h-0.8zM217.9,685.9 h0.8v0.8h-0.8zM286,690.5 h0.8v0.8h-0.8zM228.8,693.8 h0.8v0.8h-0.8zM293.6,698.6 h0.8v0.8h-0.8zM269.8,696.9 h0.8v0.8h-0.8zM222.3,686.3 h0.8v0.8h-0.8zM227.1,698.7 h0.8v0.8h-0.8zM220.2,689.2 h0.8v0.8h-0.8zM243.1,676.6 h0.8v0.8h-0.8zM270.7,691.9 h0.8v0.8h-0.8zM291.9,695.7 h0.8v0.8h-0.8zM221.2,698.8 h0.8v0.8h-0.8zM261.1,700.8 h0.8v0.8h-0.8zM242.6,692.4 h0.8v0.8h-0.8zM275.3,686.2 h0.8v0.8h-0.8zM238.3,684.9 h0.8v0.8h-0.8zM228.2,686.9 h0.8v0.8h-0.8zM237.9,701.9 h0.8v0.8h-0.8zM237.6,695.8 h0.8v0.8h-0.8zM240.8,674.6 h0.8v0.8h-0.8zM256.2,698.8 h0.8v0.8h-0.8zM274.7,691.1 h0.8v0.8h-0.8zM255.9,692.5 h0.8v0.8h-0.8zM241.2,698.2 h0.8v0.8h-0.8zM263.2,687.7 h0.8v0.8h-0.8zM275.3,687.2 h0.8v0.8h-0.8zM247.5,689 h0.8v0.8h-0.8zM216.7,682.8 h0.8v0.8h-0.8zM228.3,698.3 h0.8v0.8h-0.8zM238.9,696.8 h0.8v0.8h-0.8zM270.3,690.6 h0.8v0.8h-0.8zM279.3,697.9 h0.8v0.8h-0.8zM236.5,684.6 h0.8v0.8h-0.8zM245.6,674.4 h0.8v0.8h-0.8zM289.4,693.1 h0.8v0.8h-0.8zM256.5,688.8 h0.8v0.8h-0.8zM245.3,693.1 h0.8v0.8h-0.8zM260.4,687.3 h0.8v0.8h-0.8zM236.8,678.9 h0.8v0.8h-0.8zM294.7,699.8 h0.8v0.8h-0.8zM245.4,674.3 h0.8v0.8h-0.8zM257.5,701.5 h0.8v0.8h-0.8zM238.3,700.7 h0.8v0.8h-0.8zM219.3,698 h0.8v0.8h-0.8zM247.9,685.1 h0.8v0.8h-0.8zM266.6,688.2 h0.8v0.8h-0.8zM288.7,699.6 h0.8v0.8h-0.8zM242.6,672.3 h0.8v0.8h-0.8zM281.1,691.9 h0.8v0.8h-0.8zM221.3,699.7 h0.8v0.8h-0.8zM245.8,686.6 h0.8v0.8h-0.8zM262.6,694.8 h0.8v0.8h-0.8zM228.2,695.4 h0.8v0.8h-0.8zM297.3,697.4 h0.8v0.8h-0.8zM282.2,701.2 h0.8v0.8h-0.8zM275.9,688.9 h0.8v0.8h-0.8zM285,696.8 h0.8v0.8h-0.8zM268.4,692.6 h0.8v0.8h-0.8zM230,682.4 h0.8v0.8h-0.8zM242.5,698.5 h0.8v0.8h-0.8zM220.1,682.1 h0.8v0.8h-0.8zM221.4,701.3 h0.8v0.8h-0.8zM245.4,684 h0.8v0.8h-0.8zM268.5,685.5 h0.8v0.8h-0.8zM254,701.5 h0.8v0.8h-0.8zM238.4,688.2 h0.8v0.8h-0.8zM255.6,676.3 h0.8v0.8h-0.8zM227.3,687.6 h0.8v0.8h-0.8zM219.8,700.8 h0.8v0.8h-0.8zM226.5,699.2 h0.8v0.8h-0.8zM218.6,692 h0.8v0.8h-0.8zM227.2,680 h0.8v0.8h-0.8zM250.7,695.3 h0.8v0.8h-0.8zM251.9,684.9 h0.8v0.8h-0.8zM249.1,688 h0.8v0.8h-0.8zM238.7,701.4 h0.8v0.8h-0.8zM231,676.1 h0.8v0.8h-0.8zM261.5,682.8 h0.8v0.8h-0.8zM251.7,681.8 h0.8v0.8h-0.8zM260.2,680.7 h0.8v0.8h-0.8zM253.7,689.2 h0.8v0.8h-0.8zM276,692.1 h0.8v0.8h-0.8zM251.4,674.6 h0.8v0.8h-0.8zM224.4,676.5 h0.8v0.8h-0.8zM230.5,677.6 h0.8v0.8h-0.8zM235.7,677.6 h0.8v0.8h-0.8zM227.1,693 h0.8v0.8h-0.8zM283.8,692.8 h0.8v0.8h-0.8zM251.3,690.7 h0.8v0.8h-0.8zM270.7,685.6 h0.8v0.8h-0.8zM222.6,683.2 h0.8v0.8h-0.8zM280.7,698.6 h0.8v0.8h-0.8zM246.6,683.5 h0.8v0.8h-0.8zM258.5,679.8 h0.8v0.8h-0.8zM232.7,676 h0.8v0.8h-0.8zM273.3,687.7 h0.8v0.8h-0.8zM296.3,701.6 h0.8v0.8h-0.8zM289.3,701.1 h0.8v0.8h-0.8zM225.8,702.1 h0.8v0.8h-0.8zM267.6,685.4 h0.8v0.8h-0.8zM251,676.5 h0.8v0.8h-0.8zM261.5,680.5 h0.8v0.8h-0.8zM225.2,698.8 h0.8v0.8h-0.8zM263.8,699 h0.8v0.8h-0.8zM239.8,689.8 h0.8v0.8h-0.8zM238.4,697.6 h0.8v0.8h-0.8zM232.6,691.9 h0.8v0.8h-0.8zM262.1,682 h0.8v0.8h-0.8zM221.6,687 h0.8v0.8h-0.8zM259.4,697.2 h0.8v0.8h-0.8zM232.1,677.7 h0.8v0.8h-0.8zM240.8,696.7 h0.8v0.8h-0.8zM234.6,691.5 h0.8v0.8h-0.8zM275.1,687.3 h0.8v0.8h-0.8zM224.4,686.6 h0.8v0.8h-0.8zM262.3,684.9 h0.8v0.8h-0.8zM244.4,680.8 h0.8v0.8h-0.8z" fill="#ffffff" opacity="0.45"/>
<path d="M214.6,702 C215.4,701 217.6,697.6 219.2,695.8 C220.8,694 222.3,692.5 223.9,691.1 C225.5,689.8 226.8,688.7 228.6,687.7 C230.4,686.7 232.3,685.8 234.9,685.2 C237.5,684.7 240.8,684.4 244.2,684.4 C247.6,684.4 251.3,684.7 255.2,685.2 C259.1,685.8 263,686.9 267.7,687.7 C272.4,688.6 278.4,689.5 283.3,690.3 C288.2,691.1 293,692 297.4,692.7 C301.8,693.4 307.7,694.2 309.8,694.5" stroke="#7048b0" stroke-width="0.95" fill="none"/>
<path d="M214.2,639.6 V709.7" stroke="#7a7a7a" stroke-width="0.9" fill="none"/>
<path d="M214.2,639.6 H318.8" stroke="#e6e6e6" stroke-width="0.9" fill="none"/>
<path d="M318.8,639.6 V709.7" stroke="#8a8a8a" stroke-width="0.9" fill="none"/>
<path d="M214.2,702.2 h1.6 M214.2,688.4 h1.6 M214.2,674.7 h1.6 M214.2,660.9 h1.6 M214.2,647.1 h1.6 M214.2,709.7 v-1.6 M225.8,709.7 v-1.6 M237.4,709.7 v-1.6 M249.1,709.7 v-1.6 M260.7,709.7 v-1.6 M272.3,709.7 v-1.6 M283.9,709.7 v-1.6 M295.6,709.7 v-1.6 M307.2,709.7 v-1.6 M318.8,709.7 v-1.6" stroke="#909090" stroke-width="0.8" fill="none"/>
<text x="213" y="705.9" font-size="11.1" text-anchor="end" fill="#222" class="it">0.0</text>
<text x="213" y="692.1" font-size="11.1" text-anchor="end" fill="#222" class="it">0.5</text>
<text x="213" y="678.4" font-size="11.1" text-anchor="end" fill="#222" class="it">1.0</text>
<text x="213" y="664.6" font-size="11.1" text-anchor="end" fill="#222" class="it">1.5</text>
<text x="213" y="650.8" font-size="11.1" text-anchor="end" fill="#222" class="it">2.0</text>
<text x="214.2" y="719.5" font-size="11.1" text-anchor="middle" fill="#222" class="it">0</text>
<text x="237.4" y="719.5" font-size="11.1" text-anchor="middle" fill="#222" class="it">1</text>
<text x="260.7" y="719.5" font-size="11.1" text-anchor="middle" fill="#222" class="it">2</text>
<text x="283.9" y="719.5" font-size="11.1" text-anchor="middle" fill="#222" class="it">3</text>
<text x="307.2" y="719.5" font-size="11.1" text-anchor="middle" fill="#222" class="it">4</text>
<text x="219.3" y="651.7" font-size="11.1" fill="#222" class="it">R<tspan dy="-3.9" font-size="6.8">2</tspan><tspan dy="3.9">=0.12 P&lt;0.01</tspan></text>
<rect x="65.3" y="533.1" width="266.5" height="193.8" fill="none" stroke="#333" stroke-width="1.5"/>
<path d="M65.3,715.5 h5.2 M65.3,704.1 h3.0 M65.3,692.7 h5.2 M65.3,681.3 h3.0 M65.3,669.9 h5.2 M65.3,658.5 h3.0 M65.3,647.1 h5.2 M65.3,635.7 h3.0 M65.3,624.3 h5.2 M65.3,612.9 h3.0 M65.3,601.5 h5.2 M65.3,590.1 h3.0 M65.3,578.7 h5.2 M65.3,567.3 h3.0 M65.3,555.9 h5.2 M65.3,544.5 h3.0 M80.1,726.9 v-3.0 M94.9,726.9 v-5.2 M109.7,726.9 v-3.0 M124.5,726.9 v-5.2 M139.3,726.9 v-3.0 M154.1,726.9 v-5.2 M168.9,726.9 v-3.0 M183.7,726.9 v-5.2 M198.6,726.9 v-3.0 M213.4,726.9 v-5.2 M228.2,726.9 v-3.0 M243,726.9 v-5.2 M257.8,726.9 v-3.0 M272.6,726.9 v-5.2 M287.4,726.9 v-3.0 M302.2,726.9 v-5.2 M317,726.9 v-3.0" stroke="#2a2a2a" stroke-width="1.2" fill="none"/>
<text x="59.2" y="721.1" font-size="16" text-anchor="end" fill="#111">-0.4</text>
<text x="59.2" y="698.3" font-size="16" text-anchor="end" fill="#111">-0.2</text>
<text x="59.2" y="675.5" font-size="16" text-anchor="end" fill="#111">0.0</text>
<text x="59.2" y="652.7" font-size="16" text-anchor="end" fill="#111">0.2</text>
<text x="59.2" y="629.9" font-size="16" text-anchor="end" fill="#111">0.4</text>
<text x="59.2" y="607.1" font-size="16" text-anchor="end" fill="#111">0.6</text>
<text x="59.2" y="584.3" font-size="16" text-anchor="end" fill="#111">0.8</text>
<text x="59.2" y="561.5" font-size="16" text-anchor="end" fill="#111">1.0</text>
<text x="59.2" y="538.7" font-size="16" text-anchor="end" fill="#111">1.2</text>
<text x="65.3" y="746.2" font-size="16" text-anchor="middle" fill="#111">0.0</text>
<text x="94.9" y="746.2" font-size="16" text-anchor="middle" fill="#111">0.5</text>
<text x="124.5" y="746.2" font-size="16" text-anchor="middle" fill="#111">1.0</text>
<text x="154.1" y="746.2" font-size="16" text-anchor="middle" fill="#111">1.5</text>
<text x="183.7" y="746.2" font-size="16" text-anchor="middle" fill="#111">2.0</text>
<text x="213.4" y="746.2" font-size="16" text-anchor="middle" fill="#111">2.5</text>
<text x="243" y="746.2" font-size="16" text-anchor="middle" fill="#111">3.0</text>
<text x="272.6" y="746.2" font-size="16" text-anchor="middle" fill="#111">3.5</text>
<text x="302.2" y="746.2" font-size="16" text-anchor="middle" fill="#111">4.0</text>
<text x="331.8" y="746.2" font-size="16" text-anchor="middle" fill="#111">4.5</text>
<text x="198.6" y="766.7" font-size="19.2" text-anchor="middle" fill="#111">VPD (kPa)</text>
<text transform="translate(22.4,630) rotate(-90)" font-size="19.6" text-anchor="middle" fill="#111">GPP (mg CO<tspan dy="5.5" font-size="12.6">2</tspan><tspan dy="-5.5"> m</tspan><tspan dy="-8.3" font-size="12.6">-2</tspan><tspan dy="8.3"> s</tspan><tspan dy="-8.3" font-size="12.6">-1</tspan><tspan dy="8.3">)</tspan></text>
<text x="79.4" y="561.4" font-size="22" fill="#111">(e)</text>
</g>
<g>
<path d="M419.6,606.6 C420.3,604 422.4,595.5 424,590.8 C425.6,586.1 427.2,582.3 429.3,578.5 C431.4,574.7 433.7,570.9 436.3,568 C438.9,565.1 442.1,562.8 445,561 C447.9,559.2 450.9,558.5 453.8,557.5 C456.7,556.5 459.7,555.6 462.6,554.9 C465.5,554.2 468.4,553.5 471.3,553.1 C474.2,552.7 477.2,552.1 480.1,552.3 C483,552.4 485.9,553.3 488.8,554 C491.7,554.7 494.7,555.6 497.6,556.6 C500.5,557.6 503.5,558.9 506.4,560.1 C509.3,561.3 512.2,562.8 515.1,563.7 C518,564.6 521.4,564.9 523.9,565.4 C526.4,565.9 527.3,566 530,566.8 C532.7,567.5 536.8,568.7 540.2,569.9 C543.6,571.1 547,572.5 550.4,573.9 C553.8,575.2 557.3,576.6 560.7,578 C564.1,579.4 567.5,580.7 570.9,582.1 C574.3,583.5 577.7,585 581.1,586.2 C584.5,587.4 587.9,588.4 591.3,589.3 C594.7,590.1 598.1,591 601.5,591.3 C604.9,591.6 609.1,590.9 611.8,591.3 C614.5,591.6 616.2,591.3 617.9,593.4 C619.6,595.5 620.3,600.4 622,603.6 C623.7,606.8 625.7,611.4 628.1,612.8 C630.5,614.1 633.9,612.6 636.3,611.7 C638.7,610.9 641.2,606.3 642.4,607.7 C643.6,609.1 643.2,615.9 643.4,620 C643.6,624.1 643.4,630.2 643.4,632.2 L636.3,637.3 C634.9,637 630.5,636.3 628.1,635.3 C625.7,634.3 624.7,632.6 622,631.2 C619.3,629.8 615.2,628 611.8,627.1 C608.4,626.2 604.9,626.1 601.5,626.1 C598.1,626.1 594.7,627.1 591.3,627.1 C587.9,627.1 584.5,626.3 581.1,626.1 C577.7,625.9 574.3,625.8 570.9,626.1 C567.5,626.4 564.1,627.4 560.7,628.1 C557.3,628.8 553.8,629.6 550.4,630.1 C547,630.6 543.9,631.1 540.2,631.2 C536.5,631.3 531.8,630.5 528.1,630.5 C524.4,630.5 521.5,631.1 518.2,631.5 C514.9,631.9 511.7,632.4 508.4,632.9 C505.1,633.4 501.8,634.1 498.5,634.5 C495.2,634.9 492,635.2 488.7,635.4 C485.4,635.5 482.1,634.7 478.8,635.4 C475.5,636.1 472.3,638.1 469,639.4 C465.7,640.7 462.4,642.3 459.1,643.3 C455.8,644.3 452.6,644.5 449.3,645.3 C446,646.1 442.7,646.7 439.4,648.2 C436.1,649.7 432.9,651.9 429.6,654.2 C426.3,656.5 421.4,660.7 419.7,662 Z" fill="#eaf7ef"/>
<rect x="548.6" y="639.5" width="103.9" height="69.8" fill="#fff"/>
<path d="M422,632.1 L433.8,612.9 M439.8,607.3 L447.1,603.4 M454.6,600.4 L461.8,598.1 M469.4,596 L476.4,594 M484,593.9 L491.4,595.7 M499,597.1 L506.2,597.9 M513.8,598.6 L521,598.8 M528.6,599.5 L536.4,600.4 M544,601.9 L551.3,604 M558.9,605.2 L565.4,605.4 M573,606.2 L578.9,607.1 M586.5,608.9 L596.1,612.2 M603.7,612.3 L611,610.2 M617.7,612.7 L624.2,620.8 M630.9,623.2 L639,620.7" stroke="#7cc69a" stroke-width="1.55" fill="none"/>
<rect x="416.6" y="632.7" width="6.2" height="6.2" fill="#78c497"/>
<rect x="433" y="606.1" width="6.2" height="6.2" fill="#78c497"/>
<rect x="447.7" y="598.4" width="6.2" height="6.2" fill="#78c497"/>
<rect x="462.5" y="593.9" width="6.2" height="6.2" fill="#78c497"/>
<rect x="477.1" y="589.9" width="6.2" height="6.2" fill="#78c497"/>
<rect x="492.1" y="593.5" width="6.2" height="6.2" fill="#78c497"/>
<rect x="506.9" y="595.3" width="6.2" height="6.2" fill="#78c497"/>
<rect x="521.7" y="595.9" width="6.2" height="6.2" fill="#78c497"/>
<rect x="537.1" y="597.8" width="6.2" height="6.2" fill="#78c497"/>
<rect x="552" y="601.9" width="6.2" height="6.2" fill="#78c497"/>
<rect x="566.1" y="602.5" width="6.2" height="6.2" fill="#78c497"/>
<rect x="579.6" y="604.6" width="6.2" height="6.2" fill="#78c497"/>
<rect x="596.8" y="610.3" width="6.2" height="6.2" fill="#78c497"/>
<rect x="611.7" y="606" width="6.2" height="6.2" fill="#78c497"/>
<rect x="624" y="621.3" width="6.2" height="6.2" fill="#78c497"/>
<rect x="639.7" y="616.4" width="6.2" height="6.2" fill="#78c497"/>
<circle cx="480.2" cy="593" r="5.3" fill="none" stroke="#e0262b" stroke-width="1.3"/>
<text x="479.4" y="578.3" font-size="16.3" text-anchor="middle" fill="#111">(1.25, 0.67)</text>
<path d="M548.8,702.4 C548.9,696.4 548,672.9 549.3,666.1 C550.6,659.3 553.7,663.2 556.4,661.4 C559.1,659.6 562.8,656.5 565.7,655.2 C568.6,653.9 570.7,653.1 573.6,653.6 C576.5,654.1 579.5,656.5 582.9,658.3 C586.3,660.1 589.5,662.2 593.9,664.6 C598.3,667 604.3,670.1 609.5,672.4 C614.7,674.7 620.4,676.5 625.1,678.6 C629.8,680.7 634.5,682.8 637.6,684.9 C640.7,687 643,688.5 643.8,691.1 C644.6,693.7 644.6,698.6 642.3,700.5 C640,702.4 638.7,702.2 630,702.6 C621.3,703 596.7,702.8 590,702.8 Z" fill="#eeeefb" opacity="1" filter="url(#bl)"/>
<path d="M549,702.2 C549,699.2 548.1,688.4 549.3,684 C550.5,679.6 553.2,678 556,676 C558.8,674 562.2,672.7 566,672 C569.8,671.3 574.7,671.2 579,672 C583.3,672.8 587.8,675 592,677 C596.2,679 599.5,681.8 604,684 C608.5,686.2 614.3,687.8 619,690 C623.7,692.2 629.5,694.9 632,697 C634.5,699.1 640.3,701.6 634,702.6 C627.7,703.6 600.7,702.8 594,702.8 Z" fill="#d0d0f4" opacity="1" filter="url(#bl)"/>
<path d="M566.6,699.5 h0.8v0.8h-0.8zM606.1,680.8 h0.8v0.8h-0.8zM567.8,655.2 h0.8v0.8h-0.8zM610.9,683.7 h0.8v0.8h-0.8zM569.4,673.6 h0.8v0.8h-0.8zM555.9,682.2 h0.8v0.8h-0.8zM569.6,688.1 h0.8v0.8h-0.8zM565.3,687.5 h0.8v0.8h-0.8zM607.5,688.6 h0.8v0.8h-0.8zM633.7,694.2 h0.8v0.8h-0.8zM621.3,683.1 h0.8v0.8h-0.8zM573.6,698.3 h0.8v0.8h-0.8zM640.8,700.3 h0.8v0.8h-0.8zM580.9,694 h0.8v0.8h-0.8zM613.3,694.9 h0.8v0.8h-0.8zM586.3,692.7 h0.8v0.8h-0.8zM611,680.1 h0.8v0.8h-0.8zM550.1,676.5 h0.8v0.8h-0.8zM558,695 h0.8v0.8h-0.8zM557.2,697 h0.8v0.8h-0.8zM570.2,660.2 h0.8v0.8h-0.8zM620.4,686.9 h0.8v0.8h-0.8zM587.8,682.9 h0.8v0.8h-0.8zM601.3,700.3 h0.8v0.8h-0.8zM597,680.1 h0.8v0.8h-0.8zM592.7,673.9 h0.8v0.8h-0.8zM614.6,699.3 h0.8v0.8h-0.8zM621.1,680.3 h0.8v0.8h-0.8zM582.4,658.4 h0.8v0.8h-0.8zM557.6,680.1 h0.8v0.8h-0.8zM632.4,696.2 h0.8v0.8h-0.8zM566.2,690.5 h0.8v0.8h-0.8zM580.7,678.9 h0.8v0.8h-0.8zM577.5,696.3 h0.8v0.8h-0.8zM586,674.2 h0.8v0.8h-0.8zM570,677.4 h0.8v0.8h-0.8zM611.7,677.9 h0.8v0.8h-0.8zM549.9,700.9 h0.8v0.8h-0.8zM576.2,680.5 h0.8v0.8h-0.8zM554.9,663.7 h0.8v0.8h-0.8zM563.3,695.5 h0.8v0.8h-0.8zM574.6,678.7 h0.8v0.8h-0.8zM565.4,668.7 h0.8v0.8h-0.8zM571,683 h0.8v0.8h-0.8zM559.5,679.2 h0.8v0.8h-0.8zM600.9,668.8 h0.8v0.8h-0.8zM619.5,683.9 h0.8v0.8h-0.8zM566.2,662.7 h0.8v0.8h-0.8zM615.7,693.5 h0.8v0.8h-0.8zM554.7,674.1 h0.8v0.8h-0.8zM575.7,676.6 h0.8v0.8h-0.8zM619.5,691.2 h0.8v0.8h-0.8zM575.2,684 h0.8v0.8h-0.8zM584.4,676.9 h0.8v0.8h-0.8zM599.2,686.4 h0.8v0.8h-0.8zM564.8,694.8 h0.8v0.8h-0.8zM564.1,669 h0.8v0.8h-0.8zM629.5,702.1 h0.8v0.8h-0.8zM583.6,700.4 h0.8v0.8h-0.8zM552.4,700.6 h0.8v0.8h-0.8zM567.9,655.3 h0.8v0.8h-0.8zM560.6,671.2 h0.8v0.8h-0.8zM556.8,676.8 h0.8v0.8h-0.8zM581.7,689.9 h0.8v0.8h-0.8zM595.6,701.1 h0.8v0.8h-0.8zM635.9,697.6 h0.8v0.8h-0.8zM602.5,679.5 h0.8v0.8h-0.8zM564.9,669.4 h0.8v0.8h-0.8zM569.7,663.2 h0.8v0.8h-0.8zM621.7,681.8 h0.8v0.8h-0.8zM617.3,682.3 h0.8v0.8h-0.8zM562.1,668.4 h0.8v0.8h-0.8zM608.8,680.4 h0.8v0.8h-0.8zM594.1,677.1 h0.8v0.8h-0.8zM597.3,666.4 h0.8v0.8h-0.8zM568.4,665 h0.8v0.8h-0.8zM632.4,689.8 h0.8v0.8h-0.8zM574.3,680.9 h0.8v0.8h-0.8zM549.6,699.5 h0.8v0.8h-0.8zM598.1,678 h0.8v0.8h-0.8zM635.2,684.2 h0.8v0.8h-0.8zM555.7,693.9 h0.8v0.8h-0.8zM616.4,695.9 h0.8v0.8h-0.8zM625,687.4 h0.8v0.8h-0.8zM593,698 h0.8v0.8h-0.8zM625.1,702.5 h0.8v0.8h-0.8zM618.6,686.6 h0.8v0.8h-0.8zM586.8,678.1 h0.8v0.8h-0.8zM573.6,695.2 h0.8v0.8h-0.8zM629.2,687.9 h0.8v0.8h-0.8zM614.2,678.7 h0.8v0.8h-0.8zM603.2,686.4 h0.8v0.8h-0.8zM549.5,675.4 h0.8v0.8h-0.8zM573,694.1 h0.8v0.8h-0.8zM551.9,692.9 h0.8v0.8h-0.8zM624.6,696.3 h0.8v0.8h-0.8zM573.2,699.4 h0.8v0.8h-0.8zM584.1,675.8 h0.8v0.8h-0.8zM558.8,694.1 h0.8v0.8h-0.8zM572.5,700.7 h0.8v0.8h-0.8zM627.9,692.3 h0.8v0.8h-0.8zM604,687.6 h0.8v0.8h-0.8zM581.1,659.9 h0.8v0.8h-0.8zM579.7,690 h0.8v0.8h-0.8zM571.7,677 h0.8v0.8h-0.8zM620,692.7 h0.8v0.8h-0.8zM578.8,680.3 h0.8v0.8h-0.8zM585.6,701.6 h0.8v0.8h-0.8zM573.5,700.6 h0.8v0.8h-0.8zM578.2,674.3 h0.8v0.8h-0.8zM578.8,685.7 h0.8v0.8h-0.8zM632.6,687.5 h0.8v0.8h-0.8zM566.1,702.3 h0.8v0.8h-0.8zM617.5,678.5 h0.8v0.8h-0.8zM605.6,692.3 h0.8v0.8h-0.8zM622.6,686.7 h0.8v0.8h-0.8zM554.7,677.1 h0.8v0.8h-0.8zM574.3,683.5 h0.8v0.8h-0.8zM586.5,676 h0.8v0.8h-0.8zM599.9,682.5 h0.8v0.8h-0.8zM574.9,662.7 h0.8v0.8h-0.8zM559.5,695.4 h0.8v0.8h-0.8zM583,698.1 h0.8v0.8h-0.8zM630.9,701.7 h0.8v0.8h-0.8zM555.1,665.9 h0.8v0.8h-0.8zM572.9,676.9 h0.8v0.8h-0.8zM560.5,669.8 h0.8v0.8h-0.8zM558.6,692.9 h0.8v0.8h-0.8zM625.2,695.1 h0.8v0.8h-0.8zM553.2,700.6 h0.8v0.8h-0.8zM569.8,698.6 h0.8v0.8h-0.8zM557.8,685.4 h0.8v0.8h-0.8zM562.7,686.4 h0.8v0.8h-0.8zM631.6,684.6 h0.8v0.8h-0.8zM614.5,684.2 h0.8v0.8h-0.8zM554.6,697.2 h0.8v0.8h-0.8zM622.8,678.9 h0.8v0.8h-0.8zM604.9,677.8 h0.8v0.8h-0.8zM620.6,679.8 h0.8v0.8h-0.8zM575.2,679 h0.8v0.8h-0.8zM598.3,696.4 h0.8v0.8h-0.8zM597.1,682.3 h0.8v0.8h-0.8zM603.8,676.2 h0.8v0.8h-0.8zM597.2,687.5 h0.8v0.8h-0.8zM623.3,687.1 h0.8v0.8h-0.8zM560.2,666.3 h0.8v0.8h-0.8zM578.6,671 h0.8v0.8h-0.8zM595.5,668.1 h0.8v0.8h-0.8zM584.1,688 h0.8v0.8h-0.8zM608.6,700.8 h0.8v0.8h-0.8zM584.5,696.8 h0.8v0.8h-0.8zM562.5,693.3 h0.8v0.8h-0.8zM588.3,670.8 h0.8v0.8h-0.8zM592.9,689.4 h0.8v0.8h-0.8zM633.7,698.7 h0.8v0.8h-0.8zM567.9,670.3 h0.8v0.8h-0.8zM565.6,677 h0.8v0.8h-0.8zM561.3,685.7 h0.8v0.8h-0.8zM587.8,665.8 h0.8v0.8h-0.8zM551.1,694.8 h0.8v0.8h-0.8zM620.4,696.8 h0.8v0.8h-0.8zM576.7,666.6 h0.8v0.8h-0.8zM575.7,674.4 h0.8v0.8h-0.8zM641.1,690.4 h0.8v0.8h-0.8zM626,690.5 h0.8v0.8h-0.8zM565.9,665.5 h0.8v0.8h-0.8zM552.5,680.7 h0.8v0.8h-0.8zM556.5,662.9 h0.8v0.8h-0.8zM565.3,698.9 h0.8v0.8h-0.8zM562.1,672.4 h0.8v0.8h-0.8zM623.7,680.4 h0.8v0.8h-0.8zM617.5,678.5 h0.8v0.8h-0.8zM575.3,664 h0.8v0.8h-0.8zM629.6,688.2 h0.8v0.8h-0.8zM563.5,689.3 h0.8v0.8h-0.8zM552.5,676.5 h0.8v0.8h-0.8zM573.2,691.2 h0.8v0.8h-0.8zM617.1,687.2 h0.8v0.8h-0.8zM567.5,655.7 h0.8v0.8h-0.8zM609.6,687.8 h0.8v0.8h-0.8zM549.7,694.9 h0.8v0.8h-0.8zM598.1,685.6 h0.8v0.8h-0.8zM636.7,685.6 h0.8v0.8h-0.8zM597.8,691.4 h0.8v0.8h-0.8zM600.8,674 h0.8v0.8h-0.8zM580.6,673 h0.8v0.8h-0.8zM569.8,668.9 h0.8v0.8h-0.8zM619.8,697.2 h0.8v0.8h-0.8zM592.2,695.2 h0.8v0.8h-0.8zM560.7,679 h0.8v0.8h-0.8zM619.5,692 h0.8v0.8h-0.8zM585.6,661.9 h0.8v0.8h-0.8zM559.5,681.7 h0.8v0.8h-0.8zM587.2,697.4 h0.8v0.8h-0.8zM611.8,690.8 h0.8v0.8h-0.8zM602.9,690.6 h0.8v0.8h-0.8zM604,683 h0.8v0.8h-0.8zM566.8,658.1 h0.8v0.8h-0.8zM615.8,689.3 h0.8v0.8h-0.8zM595.1,691.4 h0.8v0.8h-0.8zM609.7,698.4 h0.8v0.8h-0.8zM557.3,691.7 h0.8v0.8h-0.8zM550.1,684.4 h0.8v0.8h-0.8zM588.6,686.5 h0.8v0.8h-0.8zM597.2,692.7 h0.8v0.8h-0.8zM559.9,697.5 h0.8v0.8h-0.8zM568.6,660.8 h0.8v0.8h-0.8zM569.7,674.2 h0.8v0.8h-0.8zM616,699.7 h0.8v0.8h-0.8zM601.9,700.5 h0.8v0.8h-0.8zM589.4,685.9 h0.8v0.8h-0.8zM577.3,679.5 h0.8v0.8h-0.8zM559.3,686.9 h0.8v0.8h-0.8zM594.3,671.9 h0.8v0.8h-0.8zM565.9,657.3 h0.8v0.8h-0.8zM601.2,700.9 h0.8v0.8h-0.8zM600.1,671.2 h0.8v0.8h-0.8zM590.3,679.5 h0.8v0.8h-0.8zM584.8,681.4 h0.8v0.8h-0.8zM557.4,674.3 h0.8v0.8h-0.8zM596.9,690.7 h0.8v0.8h-0.8zM626,689.8 h0.8v0.8h-0.8zM585,688.6 h0.8v0.8h-0.8zM567.8,684 h0.8v0.8h-0.8zM565.4,670.9 h0.8v0.8h-0.8zM639.1,700.3 h0.8v0.8h-0.8zM607.2,695 h0.8v0.8h-0.8zM623,685.5 h0.8v0.8h-0.8zM556.7,679.3 h0.8v0.8h-0.8zM606.4,687.4 h0.8v0.8h-0.8zM565.8,681.5 h0.8v0.8h-0.8zM626.7,700.9 h0.8v0.8h-0.8zM612.7,675.3 h0.8v0.8h-0.8zM588.5,676.6 h0.8v0.8h-0.8zM575.4,662.1 h0.8v0.8h-0.8zM634.1,697.7 h0.8v0.8h-0.8zM616.4,675.7 h0.8v0.8h-0.8zM572,681.4 h0.8v0.8h-0.8zM578.4,694.4 h0.8v0.8h-0.8zM552.9,684.9 h0.8v0.8h-0.8zM581,674.3 h0.8v0.8h-0.8zM600.3,701.9 h0.8v0.8h-0.8zM639.7,700.6 h0.8v0.8h-0.8zM598.8,681.3 h0.8v0.8h-0.8zM567.6,692.4 h0.8v0.8h-0.8zM594.9,691.1 h0.8v0.8h-0.8zM614.8,680.6 h0.8v0.8h-0.8zM561.2,676.2 h0.8v0.8h-0.8zM561.6,675 h0.8v0.8h-0.8zM554.5,683.5 h0.8v0.8h-0.8zM570.5,664.3 h0.8v0.8h-0.8zM609.3,699.1 h0.8v0.8h-0.8zM550.1,688.8 h0.8v0.8h-0.8zM604.1,677.6 h0.8v0.8h-0.8zM582.2,679.3 h0.8v0.8h-0.8zM580.7,702.5 h0.8v0.8h-0.8zM581.1,695.2 h0.8v0.8h-0.8zM625.8,692.7 h0.8v0.8h-0.8zM595.5,678.2 h0.8v0.8h-0.8zM595.5,675.9 h0.8v0.8h-0.8z" fill="#a8a8ec" opacity="0.4"/>
<path d="M630.2,700.7 h0.8v0.8h-0.8zM583.5,687.3 h0.8v0.8h-0.8zM557.9,695.2 h0.8v0.8h-0.8zM565.4,686.7 h0.8v0.8h-0.8zM571.7,696.4 h0.8v0.8h-0.8zM577.6,700.6 h0.8v0.8h-0.8zM575.3,698.1 h0.8v0.8h-0.8zM557.7,692.8 h0.8v0.8h-0.8zM624.4,702 h0.8v0.8h-0.8zM590.1,678.7 h0.8v0.8h-0.8zM559.4,679.5 h0.8v0.8h-0.8zM611.5,689.7 h0.8v0.8h-0.8zM560.1,680.8 h0.8v0.8h-0.8zM554.6,700.5 h0.8v0.8h-0.8zM630.7,702.1 h0.8v0.8h-0.8zM566.6,679.8 h0.8v0.8h-0.8zM565.3,691.3 h0.8v0.8h-0.8zM599.6,688 h0.8v0.8h-0.8zM575.7,692.6 h0.8v0.8h-0.8zM620.3,692.6 h0.8v0.8h-0.8zM599.6,702 h0.8v0.8h-0.8zM557.8,700.4 h0.8v0.8h-0.8zM554.4,700.4 h0.8v0.8h-0.8zM612.4,690.4 h0.8v0.8h-0.8zM567.9,674.4 h0.8v0.8h-0.8zM559.6,689.2 h0.8v0.8h-0.8zM571.5,680.1 h0.8v0.8h-0.8zM612.6,697.2 h0.8v0.8h-0.8zM586.1,685.9 h0.8v0.8h-0.8zM585.7,683 h0.8v0.8h-0.8zM615.2,699.2 h0.8v0.8h-0.8zM574.3,693.9 h0.8v0.8h-0.8zM567.3,672.2 h0.8v0.8h-0.8zM607.2,695.9 h0.8v0.8h-0.8zM613.6,698 h0.8v0.8h-0.8zM560.9,700.1 h0.8v0.8h-0.8zM585.9,680.4 h0.8v0.8h-0.8zM581.1,688.3 h0.8v0.8h-0.8zM593.8,681.1 h0.8v0.8h-0.8zM554.1,691.4 h0.8v0.8h-0.8zM610,693.4 h0.8v0.8h-0.8zM582.7,698.4 h0.8v0.8h-0.8zM550.6,689.1 h0.8v0.8h-0.8zM593.5,679 h0.8v0.8h-0.8zM552.1,701.6 h0.8v0.8h-0.8zM604.7,687.7 h0.8v0.8h-0.8zM594.8,697.9 h0.8v0.8h-0.8zM603.5,701 h0.8v0.8h-0.8zM606.9,700.2 h0.8v0.8h-0.8zM558.9,697.3 h0.8v0.8h-0.8zM576.2,700.4 h0.8v0.8h-0.8zM616.3,701.8 h0.8v0.8h-0.8zM593.5,696.1 h0.8v0.8h-0.8zM553.9,688.6 h0.8v0.8h-0.8zM597.3,694.1 h0.8v0.8h-0.8zM578.1,690.7 h0.8v0.8h-0.8zM606.9,699.8 h0.8v0.8h-0.8zM580.4,688.2 h0.8v0.8h-0.8zM590.1,697.8 h0.8v0.8h-0.8zM571.9,680.8 h0.8v0.8h-0.8zM582.4,692.1 h0.8v0.8h-0.8zM562.1,702.1 h0.8v0.8h-0.8zM591.8,694.5 h0.8v0.8h-0.8zM581.8,689.6 h0.8v0.8h-0.8zM556.7,702.2 h0.8v0.8h-0.8zM598.9,686.1 h0.8v0.8h-0.8zM577.7,692 h0.8v0.8h-0.8zM563.8,686.9 h0.8v0.8h-0.8zM572,689.4 h0.8v0.8h-0.8zM607.5,688 h0.8v0.8h-0.8zM612.8,691.2 h0.8v0.8h-0.8zM556.1,692.2 h0.8v0.8h-0.8zM590.1,695.4 h0.8v0.8h-0.8zM587.6,687.3 h0.8v0.8h-0.8zM580.7,679.1 h0.8v0.8h-0.8zM607.8,691.3 h0.8v0.8h-0.8zM553.6,680.3 h0.8v0.8h-0.8zM573.9,689.8 h0.8v0.8h-0.8zM580.7,701.2 h0.8v0.8h-0.8zM568.1,677.3 h0.8v0.8h-0.8zM586.8,680.7 h0.8v0.8h-0.8zM606.3,699.3 h0.8v0.8h-0.8zM558.5,681.5 h0.8v0.8h-0.8zM560.4,685.3 h0.8v0.8h-0.8zM579.9,694.4 h0.8v0.8h-0.8zM631.2,702.1 h0.8v0.8h-0.8zM584.7,691.8 h0.8v0.8h-0.8zM560.2,690.8 h0.8v0.8h-0.8zM624.1,699.3 h0.8v0.8h-0.8zM560.9,677.1 h0.8v0.8h-0.8zM611.6,696.5 h0.8v0.8h-0.8zM576.4,672.1 h0.8v0.8h-0.8zM601.7,683.3 h0.8v0.8h-0.8zM577,697 h0.8v0.8h-0.8zM585.3,685.6 h0.8v0.8h-0.8zM575.4,694.3 h0.8v0.8h-0.8zM584.9,696.7 h0.8v0.8h-0.8zM608.9,697.5 h0.8v0.8h-0.8zM627.1,701.4 h0.8v0.8h-0.8zM594.2,683.9 h0.8v0.8h-0.8zM549.6,688.2 h0.8v0.8h-0.8zM579.6,696.1 h0.8v0.8h-0.8zM606.2,692.7 h0.8v0.8h-0.8zM619.7,695.4 h0.8v0.8h-0.8zM589.6,689.3 h0.8v0.8h-0.8zM589.4,686.9 h0.8v0.8h-0.8zM611.6,694.7 h0.8v0.8h-0.8zM577.5,695.9 h0.8v0.8h-0.8zM580.9,692.7 h0.8v0.8h-0.8zM581.1,699.7 h0.8v0.8h-0.8zM628.9,696 h0.8v0.8h-0.8zM581.4,682.8 h0.8v0.8h-0.8zM585.8,690.6 h0.8v0.8h-0.8zM551.9,688.8 h0.8v0.8h-0.8zM610.1,695.2 h0.8v0.8h-0.8zM584.8,675.6 h0.8v0.8h-0.8zM621.7,699 h0.8v0.8h-0.8zM591.4,687.8 h0.8v0.8h-0.8zM579.9,687.1 h0.8v0.8h-0.8zM587.9,702.2 h0.8v0.8h-0.8zM602.3,702.1 h0.8v0.8h-0.8zM599.8,689.3 h0.8v0.8h-0.8zM603.7,702.7 h0.8v0.8h-0.8zM572.8,672.1 h0.8v0.8h-0.8zM603.9,697.6 h0.8v0.8h-0.8zM610.8,697.6 h0.8v0.8h-0.8zM579.8,684.9 h0.8v0.8h-0.8zM580.2,682.5 h0.8v0.8h-0.8zM584,698.1 h0.8v0.8h-0.8zM616.2,689.2 h0.8v0.8h-0.8zM614,698.9 h0.8v0.8h-0.8zM581.5,687.4 h0.8v0.8h-0.8zM567.6,679.7 h0.8v0.8h-0.8zM621.4,691.8 h0.8v0.8h-0.8zM587,691.7 h0.8v0.8h-0.8zM579.4,689.7 h0.8v0.8h-0.8zM564.7,688.7 h0.8v0.8h-0.8zM576.6,680.1 h0.8v0.8h-0.8zM612.1,695.1 h0.8v0.8h-0.8zM580.9,673 h0.8v0.8h-0.8zM598.3,693.1 h0.8v0.8h-0.8zM595.6,699.9 h0.8v0.8h-0.8zM549.7,701.8 h0.8v0.8h-0.8zM601.4,684.5 h0.8v0.8h-0.8zM626.1,699.6 h0.8v0.8h-0.8zM602,684.7 h0.8v0.8h-0.8zM597.8,697.6 h0.8v0.8h-0.8zM560.2,698 h0.8v0.8h-0.8zM575.4,679.7 h0.8v0.8h-0.8zM571.8,688.3 h0.8v0.8h-0.8zM573.6,683.5 h0.8v0.8h-0.8zM552.7,689.9 h0.8v0.8h-0.8zM553.1,692.6 h0.8v0.8h-0.8zM554.6,700.5 h0.8v0.8h-0.8zM556.5,682.8 h0.8v0.8h-0.8zM623.6,700 h0.8v0.8h-0.8zM613,691.6 h0.8v0.8h-0.8zM598.7,687.7 h0.8v0.8h-0.8zM604.8,687.3 h0.8v0.8h-0.8zM582.8,697.8 h0.8v0.8h-0.8zM574.6,684.5 h0.8v0.8h-0.8zM606.7,701.7 h0.8v0.8h-0.8zM578.3,685.3 h0.8v0.8h-0.8zM583.2,678.5 h0.8v0.8h-0.8zM579.2,696.3 h0.8v0.8h-0.8zM565,686.7 h0.8v0.8h-0.8zM573.1,689.8 h0.8v0.8h-0.8zM590.3,677.8 h0.8v0.8h-0.8zM603.9,692.9 h0.8v0.8h-0.8zM567.8,679.1 h0.8v0.8h-0.8zM574.8,682.1 h0.8v0.8h-0.8zM624.9,698.9 h0.8v0.8h-0.8zM587.9,678.2 h0.8v0.8h-0.8zM588.1,701.3 h0.8v0.8h-0.8zM556.8,684.1 h0.8v0.8h-0.8zM565.6,698 h0.8v0.8h-0.8zM574.6,687 h0.8v0.8h-0.8zM553.4,693.3 h0.8v0.8h-0.8zM592.7,696.7 h0.8v0.8h-0.8zM610.3,694.9 h0.8v0.8h-0.8zM571.3,679.7 h0.8v0.8h-0.8zM590.9,683.1 h0.8v0.8h-0.8zM555.6,689.1 h0.8v0.8h-0.8zM557.4,693.1 h0.8v0.8h-0.8zM588.9,696.4 h0.8v0.8h-0.8zM584,702.3 h0.8v0.8h-0.8zM594.6,690.1 h0.8v0.8h-0.8zM587.3,697.2 h0.8v0.8h-0.8zM608.9,697.2 h0.8v0.8h-0.8zM570.5,687.5 h0.8v0.8h-0.8zM595.2,690 h0.8v0.8h-0.8zM550.4,697 h0.8v0.8h-0.8zM587.1,676.9 h0.8v0.8h-0.8zM611.9,694.8 h0.8v0.8h-0.8zM601.9,700.2 h0.8v0.8h-0.8zM553.8,682.3 h0.8v0.8h-0.8zM562.9,691.6 h0.8v0.8h-0.8zM567.7,672.9 h0.8v0.8h-0.8zM560.6,677.4 h0.8v0.8h-0.8zM594.9,686 h0.8v0.8h-0.8zM593.9,679.8 h0.8v0.8h-0.8zM561.8,684.3 h0.8v0.8h-0.8zM563.2,686.3 h0.8v0.8h-0.8zM562.9,694.6 h0.8v0.8h-0.8zM555.1,701.7 h0.8v0.8h-0.8zM556.1,692 h0.8v0.8h-0.8zM610.2,699.9 h0.8v0.8h-0.8zM625.3,698.2 h0.8v0.8h-0.8zM586.1,687.8 h0.8v0.8h-0.8zM570.7,673 h0.8v0.8h-0.8zM566.4,676.3 h0.8v0.8h-0.8zM579,702 h0.8v0.8h-0.8zM558,683.3 h0.8v0.8h-0.8zM573.7,701.2 h0.8v0.8h-0.8zM584.8,702 h0.8v0.8h-0.8zM572,673.5 h0.8v0.8h-0.8zM616,690.3 h0.8v0.8h-0.8zM573.1,697.7 h0.8v0.8h-0.8zM585.5,702.3 h0.8v0.8h-0.8zM596.4,701.1 h0.8v0.8h-0.8z" fill="#ffffff" opacity="0.45"/>
<path d="M548.6,702 C549.6,700.3 552.7,694.5 554.8,691.9 C556.9,689.3 558.8,687.8 561.1,686.4 C563.5,685 566,684.1 568.9,683.6 C571.8,683.1 574.6,683.1 578.2,683.3 C581.8,683.5 586,684.1 590.7,684.9 C595.4,685.7 601.2,687 606.4,688 C611.6,689 616.8,690 622,690.8 C627.2,691.6 632.4,692.3 637.6,693 C642.8,693.7 650.6,694.7 653.2,695" stroke="#7048b0" stroke-width="0.95" fill="none"/>
<path d="M548.6,639.5 V709.3" stroke="#e8e8e8" stroke-width="0.9" fill="none"/>
<path d="M548.6,639.5 H652.5" stroke="#e4e4e4" stroke-width="0.9" fill="none"/>
<path d="M652.5,639.5 V709.3" stroke="#e8e8e8" stroke-width="0.9" fill="none"/>
<path d="M548.6,701.9 h1.6 M548.6,688.1 h1.6 M548.6,674.4 h1.6 M548.6,660.7 h1.6 M548.6,646.9 h1.6 M548.6,709.3 v-1.6 M560.1,709.3 v-1.6 M571.7,709.3 v-1.6 M583.2,709.3 v-1.6 M594.8,709.3 v-1.6 M606.3,709.3 v-1.6 M617.9,709.3 v-1.6 M629.4,709.3 v-1.6 M641,709.3 v-1.6 M652.5,709.3 v-1.6" stroke="#bbbbbb" stroke-width="0.8" fill="none"/>
<text x="547.4" y="705.6" font-size="11.1" text-anchor="end" fill="#222" class="it">0.0</text>
<text x="547.4" y="691.8" font-size="11.1" text-anchor="end" fill="#222" class="it">0.5</text>
<text x="547.4" y="678.1" font-size="11.1" text-anchor="end" fill="#222" class="it">1.0</text>
<text x="547.4" y="664.4" font-size="11.1" text-anchor="end" fill="#222" class="it">1.5</text>
<text x="547.4" y="650.6" font-size="11.1" text-anchor="end" fill="#222" class="it">2.0</text>
<text x="548.6" y="719.1" font-size="11.1" text-anchor="middle" fill="#222" class="it">0</text>
<text x="571.7" y="719.1" font-size="11.1" text-anchor="middle" fill="#222" class="it">1</text>
<text x="594.8" y="719.1" font-size="11.1" text-anchor="middle" fill="#222" class="it">2</text>
<text x="617.9" y="719.1" font-size="11.1" text-anchor="middle" fill="#222" class="it">3</text>
<text x="641" y="719.1" font-size="11.1" text-anchor="middle" fill="#222" class="it">4</text>
<text x="553.7" y="651.6" font-size="11.1" fill="#222" class="it">R<tspan dy="-3.9" font-size="6.8">2</tspan><tspan dy="3.9">=0.60 P&lt;0.01</tspan></text>
<rect x="400.5" y="533.1" width="266.1" height="193.6" fill="none" stroke="#333" stroke-width="1.5"/>
<path d="M400.5,715.3 h5.2 M400.5,703.9 h3.0 M400.5,692.5 h5.2 M400.5,681.1 h3.0 M400.5,669.8 h5.2 M400.5,658.4 h3.0 M400.5,647 h5.2 M400.5,635.6 h3.0 M400.5,624.2 h5.2 M400.5,612.8 h3.0 M400.5,601.4 h5.2 M400.5,590 h3.0 M400.5,578.7 h5.2 M400.5,567.3 h3.0 M400.5,555.9 h5.2 M400.5,544.5 h3.0 M413.8,726.7 v-5.2 M427.1,726.7 v-3.0 M440.4,726.7 v-5.2 M453.7,726.7 v-3.0 M467,726.7 v-5.2 M480.3,726.7 v-3.0 M493.6,726.7 v-5.2 M506.9,726.7 v-3.0 M520.2,726.7 v-5.2 M533.5,726.7 v-3.0 M546.9,726.7 v-5.2 M560.2,726.7 v-3.0 M573.5,726.7 v-5.2 M586.8,726.7 v-3.0 M600.1,726.7 v-5.2 M613.4,726.7 v-3.0 M626.7,726.7 v-5.2 M640,726.7 v-3.0 M653.3,726.7 v-5.2" stroke="#2a2a2a" stroke-width="1.2" fill="none"/>
<text x="394.4" y="720.9" font-size="16" text-anchor="end" fill="#111">-0.4</text>
<text x="394.4" y="698.1" font-size="16" text-anchor="end" fill="#111">-0.2</text>
<text x="394.4" y="675.4" font-size="16" text-anchor="end" fill="#111">0.0</text>
<text x="394.4" y="652.6" font-size="16" text-anchor="end" fill="#111">0.2</text>
<text x="394.4" y="629.8" font-size="16" text-anchor="end" fill="#111">0.4</text>
<text x="394.4" y="607" font-size="16" text-anchor="end" fill="#111">0.6</text>
<text x="394.4" y="584.3" font-size="16" text-anchor="end" fill="#111">0.8</text>
<text x="394.4" y="561.5" font-size="16" text-anchor="end" fill="#111">1.0</text>
<text x="394.4" y="538.7" font-size="16" text-anchor="end" fill="#111">1.2</text>
<text x="413.8" y="746" font-size="16" text-anchor="middle" fill="#111">0.0</text>
<text x="440.4" y="746" font-size="16" text-anchor="middle" fill="#111">0.5</text>
<text x="467" y="746" font-size="16" text-anchor="middle" fill="#111">1.0</text>
<text x="493.6" y="746" font-size="16" text-anchor="middle" fill="#111">1.5</text>
<text x="520.2" y="746" font-size="16" text-anchor="middle" fill="#111">2.0</text>
<text x="546.9" y="746" font-size="16" text-anchor="middle" fill="#111">2.5</text>
<text x="573.5" y="746" font-size="16" text-anchor="middle" fill="#111">3.0</text>
<text x="600.1" y="746" font-size="16" text-anchor="middle" fill="#111">3.5</text>
<text x="626.7" y="746" font-size="16" text-anchor="middle" fill="#111">4.0</text>
<text x="653.3" y="746" font-size="16" text-anchor="middle" fill="#111">4.5</text>
<text x="533.5" y="766.7" font-size="19.2" text-anchor="middle" fill="#111">VPD (kPa)</text>
<text transform="translate(357.6,629.9) rotate(-90)" font-size="19.6" text-anchor="middle" fill="#111">GPP (mg CO<tspan dy="5.5" font-size="12.6">2</tspan><tspan dy="-5.5"> m</tspan><tspan dy="-8.3" font-size="12.6">-2</tspan><tspan dy="8.3"> s</tspan><tspan dy="-8.3" font-size="12.6">-1</tspan><tspan dy="8.3">)</tspan></text>
<text x="414.6" y="561.4" font-size="22" fill="#111">(f)</text>
</g>
<g>
<path d="M77.2,835.2 C78.5,834.9 81.8,834.5 84.7,833.2 C87.6,831.9 91.3,829.4 94.6,827.3 C97.9,825.2 101.5,822.1 104.4,820.4 C107.4,818.7 109,817.1 112.3,817.1 C115.6,817.1 120.5,819.3 124.1,820.4 C127.7,821.5 130.7,822.6 134,823.8 C137.3,824.9 140.5,825.7 143.8,827.3 C147.1,828.9 150.4,831.7 153.7,833.2 C157,834.7 160.2,835.7 163.5,836.2 C166.8,836.7 170.1,835.9 173.4,836.2 C176.7,836.5 179.9,837.5 183.2,838.1 C186.5,838.8 189.4,839.7 193.1,840.1 C196.8,840.5 201.5,840.6 205.2,840.7 C208.9,840.8 212,840.9 215.4,840.7 C218.8,840.5 222.3,840.4 225.7,839.3 C229.1,838.2 232.5,836.4 235.9,834.2 C239.3,832 242.7,828.6 246.1,826 C249.5,823.4 252.9,820.3 256.3,818.8 C259.7,817.3 263.1,817.8 266.5,816.8 C269.9,815.8 273.3,814.2 276.7,812.7 C280.1,811.2 283.6,808.5 287,807.6 C290.4,806.8 294.1,807.2 297.2,807.6 C300.3,808 302.7,810.6 305.4,810.2 C308.1,809.9 310.8,807.8 313.5,805.5 C316.2,803.2 320.3,790.5 321.7,796.3 C323.1,802 321.9,824.8 321.9,840 C321.9,855.2 321.7,879.4 321.7,887.3 L313.5,891.4 C312.1,891.6 308.1,892.9 305.4,892.4 C302.7,891.9 299.6,889.1 297.2,888.3 C294.8,887.4 293.1,886.9 291.1,887.3 C289.1,887.7 287.2,889.5 285,890.8 C282.8,892.1 280.2,893.5 278,895 C275.8,896.5 274.8,898.1 271.5,899.5 C268.2,900.9 262.5,902.3 258,903.3 C253.5,904.3 249,905 244.5,905.7 C240,906.4 235.8,906.9 231,907.5 C226.2,908.1 221.4,909.1 215.4,909.4 C209.4,909.7 200.4,910.2 195,909.5 C189.6,908.8 186.8,906 183.2,905.1 C179.6,904.2 176.7,904.5 173.4,904.2 C170.1,903.9 166.8,903.5 163.5,903.2 C160.2,902.9 157,902.5 153.7,902.2 C150.4,901.9 147.8,901.9 143.8,901.2 C139.9,900.5 133.9,899.2 130,898.2 C126.1,897.2 123.5,896.1 120.2,895.3 C116.9,894.5 113.6,893.1 110.3,893.3 C107,893.5 103.5,895.3 100.5,896.3 C97.5,897.3 95.2,898.9 92.6,899.2 C90,899.5 87.3,898.7 84.7,898.2 C82.1,897.7 78.5,896.6 77.2,896.3 Z" fill="#e3effd"/>
<path d="M81,865.8 L89.2,864.7 M96.7,862.2 L105.1,857.9 M112.6,856.5 L122.3,858.2 M129.9,859.9 L137.7,862.1 M145.3,864.5 L154.8,867.8 M162.4,869.4 L171.2,870 M178.8,870.9 L187.9,872.4 M195.5,873.4 L203.9,874.2 M211.5,874.6 L221.2,874.6 M228.8,873.6 L237.2,871.3 M244.7,867.9 L254.3,861.7 M261.8,859 L270.5,858.4 M278,855.5 L285.7,850 M293.2,848.6 L302.6,851.4 M310.1,849.8 L318,843.7" stroke="#8cc0f6" stroke-width="1.55" fill="none"/>
<rect x="74.1" y="863.2" width="6.2" height="6.2" fill="#86bdf6"/>
<rect x="89.9" y="861.1" width="6.2" height="6.2" fill="#86bdf6"/>
<rect x="105.7" y="852.8" width="6.2" height="6.2" fill="#86bdf6"/>
<rect x="123" y="855.7" width="6.2" height="6.2" fill="#86bdf6"/>
<rect x="138.4" y="860.1" width="6.2" height="6.2" fill="#86bdf6"/>
<rect x="155.5" y="866" width="6.2" height="6.2" fill="#86bdf6"/>
<rect x="171.9" y="867.2" width="6.2" height="6.2" fill="#86bdf6"/>
<rect x="188.6" y="869.9" width="6.2" height="6.2" fill="#86bdf6"/>
<rect x="204.6" y="871.5" width="6.2" height="6.2" fill="#86bdf6"/>
<rect x="221.9" y="871.5" width="6.2" height="6.2" fill="#86bdf6"/>
<rect x="237.9" y="867.2" width="6.2" height="6.2" fill="#86bdf6"/>
<rect x="254.9" y="856.2" width="6.2" height="6.2" fill="#86bdf6"/>
<rect x="271.2" y="855" width="6.2" height="6.2" fill="#86bdf6"/>
<rect x="286.3" y="844.3" width="6.2" height="6.2" fill="#86bdf6"/>
<rect x="303.3" y="849.5" width="6.2" height="6.2" fill="#86bdf6"/>
<rect x="318.6" y="837.8" width="6.2" height="6.2" fill="#86bdf6"/>
<path d="M215.3,952.4 C215.4,945.6 213.8,918.2 216,911.4 C218.2,904.6 223.9,911.6 228.6,911.4 C233.3,911.1 239,910.9 244.2,909.9 C249.4,908.9 254.7,906.2 259.9,905.2 C265.1,904.2 270.3,903.4 275.5,903.6 C280.7,903.9 286.9,905.4 291.1,906.7 C295.3,908 297.9,908.8 300.5,911.4 C303.1,914 305.1,918.5 306.7,922.4 C308.2,926.3 309.8,930 309.8,934.9 C309.8,939.8 307.2,949.1 306.7,952 Z" fill="#f5f5fd" opacity="1" filter="url(#bl)"/>
<path d="M215.5,952.4 C215.5,947.3 211.4,927.4 215.5,922 C219.6,916.6 232.6,920.2 240,920 C247.4,919.8 252.8,920.5 260,921 C267.2,921.5 278,920.3 283,923 C288,925.7 289.2,932.1 290,937 C290.8,941.9 288.3,949.8 288,952.4 Z" fill="#dedef7" opacity="1" filter="url(#bl)"/>
<path d="M303.2,922 h0.8v0.8h-0.8zM280.6,939.1 h0.8v0.8h-0.8zM277.2,904.7 h0.8v0.8h-0.8zM280.3,940.8 h0.8v0.8h-0.8zM221.7,930.2 h0.8v0.8h-0.8zM225.3,945 h0.8v0.8h-0.8zM254.5,952.2 h0.8v0.8h-0.8zM284.7,924.5 h0.8v0.8h-0.8zM232.6,924.4 h0.8v0.8h-0.8zM272.7,945.6 h0.8v0.8h-0.8zM299.6,919.4 h0.8v0.8h-0.8zM217.5,936 h0.8v0.8h-0.8zM280.3,935.2 h0.8v0.8h-0.8zM291.2,943.2 h0.8v0.8h-0.8zM274.4,943.7 h0.8v0.8h-0.8zM227.1,949.8 h0.8v0.8h-0.8zM278.3,908.2 h0.8v0.8h-0.8zM231.2,934.9 h0.8v0.8h-0.8zM244.2,949.3 h0.8v0.8h-0.8zM241.7,927.3 h0.8v0.8h-0.8zM262.9,949.5 h0.8v0.8h-0.8zM244,947.1 h0.8v0.8h-0.8zM283.7,931.4 h0.8v0.8h-0.8zM304.7,946.7 h0.8v0.8h-0.8zM286.1,930.2 h0.8v0.8h-0.8zM219.4,914.4 h0.8v0.8h-0.8zM276.8,909.3 h0.8v0.8h-0.8zM276.1,920.5 h0.8v0.8h-0.8zM251.9,943.8 h0.8v0.8h-0.8zM294.7,940.1 h0.8v0.8h-0.8zM257.5,929.8 h0.8v0.8h-0.8zM272.7,907.5 h0.8v0.8h-0.8zM226.4,935.8 h0.8v0.8h-0.8zM233.9,940.4 h0.8v0.8h-0.8zM280.2,911.7 h0.8v0.8h-0.8zM277.4,951.5 h0.8v0.8h-0.8zM291,926.7 h0.8v0.8h-0.8zM293.2,949.4 h0.8v0.8h-0.8zM281.1,907.7 h0.8v0.8h-0.8zM250.5,938 h0.8v0.8h-0.8zM249.9,911.7 h0.8v0.8h-0.8zM258.4,910.5 h0.8v0.8h-0.8zM260.1,908.4 h0.8v0.8h-0.8zM284,914 h0.8v0.8h-0.8zM275,935 h0.8v0.8h-0.8zM234.1,934.2 h0.8v0.8h-0.8zM267.2,933.6 h0.8v0.8h-0.8zM232.8,926.9 h0.8v0.8h-0.8zM294.3,933.8 h0.8v0.8h-0.8zM238.3,919.9 h0.8v0.8h-0.8zM260.5,928.6 h0.8v0.8h-0.8zM225.4,944.7 h0.8v0.8h-0.8zM258.3,917.8 h0.8v0.8h-0.8zM258,906.2 h0.8v0.8h-0.8zM223,944 h0.8v0.8h-0.8zM287.1,913.2 h0.8v0.8h-0.8zM245.3,929 h0.8v0.8h-0.8zM286.4,928.3 h0.8v0.8h-0.8zM268.9,905.7 h0.8v0.8h-0.8zM228,936.4 h0.8v0.8h-0.8zM227.6,947.5 h0.8v0.8h-0.8zM267.8,932.7 h0.8v0.8h-0.8zM226.5,920 h0.8v0.8h-0.8zM250.2,939.6 h0.8v0.8h-0.8zM289.2,937.5 h0.8v0.8h-0.8zM232.4,926.1 h0.8v0.8h-0.8zM248.3,933.7 h0.8v0.8h-0.8zM280.6,926.1 h0.8v0.8h-0.8zM265.3,944.6 h0.8v0.8h-0.8zM224.4,932.8 h0.8v0.8h-0.8zM245.3,940.5 h0.8v0.8h-0.8zM282.8,923.9 h0.8v0.8h-0.8zM229.7,940.9 h0.8v0.8h-0.8zM281.5,931.1 h0.8v0.8h-0.8zM285.8,949.9 h0.8v0.8h-0.8zM238.4,937.3 h0.8v0.8h-0.8zM291.5,916.6 h0.8v0.8h-0.8zM300.6,918.9 h0.8v0.8h-0.8zM305.6,932 h0.8v0.8h-0.8zM307.2,946.8 h0.8v0.8h-0.8zM289.2,921.7 h0.8v0.8h-0.8zM258.6,932.3 h0.8v0.8h-0.8zM291.4,923.9 h0.8v0.8h-0.8zM300.2,914.2 h0.8v0.8h-0.8zM264.5,910.7 h0.8v0.8h-0.8zM231.4,917.8 h0.8v0.8h-0.8zM219.8,931.4 h0.8v0.8h-0.8zM273.9,922.9 h0.8v0.8h-0.8zM290.7,930.2 h0.8v0.8h-0.8zM279.9,907.8 h0.8v0.8h-0.8zM230.4,945.1 h0.8v0.8h-0.8zM228.1,932.7 h0.8v0.8h-0.8zM251,936.4 h0.8v0.8h-0.8zM297.7,944.1 h0.8v0.8h-0.8zM306.5,950.7 h0.8v0.8h-0.8zM253,951.8 h0.8v0.8h-0.8zM287.4,917.2 h0.8v0.8h-0.8zM246.3,929.1 h0.8v0.8h-0.8zM299.5,936.3 h0.8v0.8h-0.8zM271.3,923.5 h0.8v0.8h-0.8zM251.4,923.4 h0.8v0.8h-0.8zM282.9,925.2 h0.8v0.8h-0.8zM282.7,946.4 h0.8v0.8h-0.8zM292.2,923.4 h0.8v0.8h-0.8zM255.8,932.9 h0.8v0.8h-0.8zM242.5,946.6 h0.8v0.8h-0.8zM286.2,916.1 h0.8v0.8h-0.8zM253.4,923.9 h0.8v0.8h-0.8zM282.3,917.5 h0.8v0.8h-0.8zM248.9,928.2 h0.8v0.8h-0.8zM237.7,924.5 h0.8v0.8h-0.8zM286,928.2 h0.8v0.8h-0.8zM220.6,920.6 h0.8v0.8h-0.8zM269.2,914.9 h0.8v0.8h-0.8zM251.9,930.9 h0.8v0.8h-0.8zM249.7,912.5 h0.8v0.8h-0.8zM267.7,930.2 h0.8v0.8h-0.8zM254,934.1 h0.8v0.8h-0.8zM298.8,919.2 h0.8v0.8h-0.8zM221,913.4 h0.8v0.8h-0.8zM298.3,932.8 h0.8v0.8h-0.8zM286.6,922.6 h0.8v0.8h-0.8zM245.9,937.3 h0.8v0.8h-0.8zM269,948.2 h0.8v0.8h-0.8zM230.5,920.3 h0.8v0.8h-0.8zM280.6,947.9 h0.8v0.8h-0.8zM259.4,942 h0.8v0.8h-0.8zM225.6,934.8 h0.8v0.8h-0.8zM246.4,937.4 h0.8v0.8h-0.8zM243.4,912.7 h0.8v0.8h-0.8zM240.7,938.9 h0.8v0.8h-0.8zM282.6,948.1 h0.8v0.8h-0.8zM291.7,916.1 h0.8v0.8h-0.8zM283.1,927.5 h0.8v0.8h-0.8zM236.7,940.1 h0.8v0.8h-0.8zM258.7,946.6 h0.8v0.8h-0.8zM291.6,929.7 h0.8v0.8h-0.8zM253.2,929.6 h0.8v0.8h-0.8zM220.4,946.1 h0.8v0.8h-0.8zM229.5,931.9 h0.8v0.8h-0.8zM240.9,922.2 h0.8v0.8h-0.8zM259.3,917.7 h0.8v0.8h-0.8zM231.5,936.2 h0.8v0.8h-0.8zM274.5,907.5 h0.8v0.8h-0.8zM236.4,917.3 h0.8v0.8h-0.8zM249.7,927.5 h0.8v0.8h-0.8zM269.6,934.1 h0.8v0.8h-0.8zM239.6,920.9 h0.8v0.8h-0.8zM257.3,946.9 h0.8v0.8h-0.8zM288.7,927 h0.8v0.8h-0.8zM221.8,921.1 h0.8v0.8h-0.8zM292.5,924.8 h0.8v0.8h-0.8zM252.2,934.8 h0.8v0.8h-0.8zM219.1,935.2 h0.8v0.8h-0.8zM280.1,909.1 h0.8v0.8h-0.8zM254.7,945.4 h0.8v0.8h-0.8zM240.1,929.5 h0.8v0.8h-0.8zM248,930.6 h0.8v0.8h-0.8zM252.2,920.4 h0.8v0.8h-0.8zM302.7,937.4 h0.8v0.8h-0.8zM259.4,921.4 h0.8v0.8h-0.8zM297.2,921.5 h0.8v0.8h-0.8zM279.6,912.2 h0.8v0.8h-0.8zM266.5,916.8 h0.8v0.8h-0.8zM301.6,921.5 h0.8v0.8h-0.8zM305.3,931.3 h0.8v0.8h-0.8zM247.5,930.5 h0.8v0.8h-0.8zM303.3,937.4 h0.8v0.8h-0.8zM293.2,931.2 h0.8v0.8h-0.8zM273.7,910.4 h0.8v0.8h-0.8zM293.9,934.8 h0.8v0.8h-0.8zM276.6,918.4 h0.8v0.8h-0.8zM287.4,929.3 h0.8v0.8h-0.8zM245.6,952 h0.8v0.8h-0.8zM288.3,936.7 h0.8v0.8h-0.8zM294.7,937.6 h0.8v0.8h-0.8zM251.7,950.2 h0.8v0.8h-0.8zM300.9,936.4 h0.8v0.8h-0.8zM256.4,928 h0.8v0.8h-0.8zM219.6,947 h0.8v0.8h-0.8zM293.8,932.6 h0.8v0.8h-0.8zM259.3,942.8 h0.8v0.8h-0.8zM217.3,923.1 h0.8v0.8h-0.8zM239,933.3 h0.8v0.8h-0.8zM248.8,933.2 h0.8v0.8h-0.8zM300.1,923.6 h0.8v0.8h-0.8zM294.2,926.5 h0.8v0.8h-0.8zM245.7,926.7 h0.8v0.8h-0.8zM269.5,914.4 h0.8v0.8h-0.8zM276.3,934.8 h0.8v0.8h-0.8zM242.7,914 h0.8v0.8h-0.8zM218.2,943 h0.8v0.8h-0.8zM241.3,939.9 h0.8v0.8h-0.8zM292.2,942.5 h0.8v0.8h-0.8zM217.7,932.2 h0.8v0.8h-0.8zM295.7,934.5 h0.8v0.8h-0.8zM272.4,924.4 h0.8v0.8h-0.8zM293,929.6 h0.8v0.8h-0.8zM248.6,927.8 h0.8v0.8h-0.8zM259.9,912.7 h0.8v0.8h-0.8zM278.9,944.3 h0.8v0.8h-0.8zM277.1,904.1 h0.8v0.8h-0.8zM253.6,941 h0.8v0.8h-0.8zM227.7,928.3 h0.8v0.8h-0.8zM279.9,929.7 h0.8v0.8h-0.8zM281.8,911.7 h0.8v0.8h-0.8zM272.1,929.2 h0.8v0.8h-0.8zM283.6,909.1 h0.8v0.8h-0.8zM307.3,940.1 h0.8v0.8h-0.8zM297.8,912.6 h0.8v0.8h-0.8zM283.4,922.1 h0.8v0.8h-0.8zM281.5,937.7 h0.8v0.8h-0.8zM253.9,949.8 h0.8v0.8h-0.8zM256.7,926.4 h0.8v0.8h-0.8zM282.9,911 h0.8v0.8h-0.8zM300,919.8 h0.8v0.8h-0.8zM227,932.4 h0.8v0.8h-0.8zM238,925.1 h0.8v0.8h-0.8zM234.2,938.9 h0.8v0.8h-0.8zM285,937.1 h0.8v0.8h-0.8zM270.4,907.6 h0.8v0.8h-0.8zM283,930.3 h0.8v0.8h-0.8zM303.4,943.5 h0.8v0.8h-0.8zM277.2,944 h0.8v0.8h-0.8zM263.3,917.8 h0.8v0.8h-0.8zM221.1,937.9 h0.8v0.8h-0.8zM278.2,934.5 h0.8v0.8h-0.8zM263.7,925.8 h0.8v0.8h-0.8zM302.2,922 h0.8v0.8h-0.8zM228.5,950 h0.8v0.8h-0.8zM287.3,947.3 h0.8v0.8h-0.8zM230,927.6 h0.8v0.8h-0.8zM261.6,922.5 h0.8v0.8h-0.8zM289.6,915.8 h0.8v0.8h-0.8zM242.1,944.1 h0.8v0.8h-0.8zM237.4,939 h0.8v0.8h-0.8zM241.2,923.6 h0.8v0.8h-0.8zM259.7,915.6 h0.8v0.8h-0.8zM293.1,949.5 h0.8v0.8h-0.8zM217.7,925.1 h0.8v0.8h-0.8zM285.3,930.3 h0.8v0.8h-0.8zM306.1,951.8 h0.8v0.8h-0.8zM279.8,916.3 h0.8v0.8h-0.8zM252.5,940.3 h0.8v0.8h-0.8zM245.2,912.6 h0.8v0.8h-0.8zM266.2,947.3 h0.8v0.8h-0.8zM276.3,909 h0.8v0.8h-0.8zM256.1,914.8 h0.8v0.8h-0.8zM292,924 h0.8v0.8h-0.8zM257.2,946.4 h0.8v0.8h-0.8zM243.4,925.5 h0.8v0.8h-0.8zM266.3,935.2 h0.8v0.8h-0.8zM246.9,934.3 h0.8v0.8h-0.8zM255.1,944.2 h0.8v0.8h-0.8zM267.9,939.1 h0.8v0.8h-0.8zM269.5,937.6 h0.8v0.8h-0.8zM252.2,910.8 h0.8v0.8h-0.8zM249.7,919.5 h0.8v0.8h-0.8zM216.7,941.1 h0.8v0.8h-0.8zM264.9,927 h0.8v0.8h-0.8zM281.9,906.8 h0.8v0.8h-0.8zM227.2,938.6 h0.8v0.8h-0.8zM219.1,946 h0.8v0.8h-0.8zM263.3,950.8 h0.8v0.8h-0.8zM296.5,923.5 h0.8v0.8h-0.8zM247.8,924.8 h0.8v0.8h-0.8zM288,926.1 h0.8v0.8h-0.8zM283.3,952 h0.8v0.8h-0.8zM286.1,928.7 h0.8v0.8h-0.8zM285.4,927.7 h0.8v0.8h-0.8zM270.2,924.1 h0.8v0.8h-0.8zM303.7,951.8 h0.8v0.8h-0.8zM269,930.9 h0.8v0.8h-0.8zM225,931.2 h0.8v0.8h-0.8zM288.5,916 h0.8v0.8h-0.8zM282.7,917.4 h0.8v0.8h-0.8zM271.6,941.4 h0.8v0.8h-0.8zM218.4,944.6 h0.8v0.8h-0.8zM264.8,915.5 h0.8v0.8h-0.8zM244.3,930.7 h0.8v0.8h-0.8zM285.3,912.3 h0.8v0.8h-0.8zM221.9,914.9 h0.8v0.8h-0.8zM275.3,923.3 h0.8v0.8h-0.8zM287.4,939.1 h0.8v0.8h-0.8zM250.1,932.4 h0.8v0.8h-0.8zM229.1,933.3 h0.8v0.8h-0.8zM276.5,915.1 h0.8v0.8h-0.8zM278.3,910.4 h0.8v0.8h-0.8zM307.1,930.3 h0.8v0.8h-0.8zM302.4,936.2 h0.8v0.8h-0.8zM235.6,939.3 h0.8v0.8h-0.8zM273.4,922.1 h0.8v0.8h-0.8zM280.8,940.7 h0.8v0.8h-0.8zM279.5,914.2 h0.8v0.8h-0.8zM306.5,948 h0.8v0.8h-0.8zM256.3,948.8 h0.8v0.8h-0.8zM233.4,915.5 h0.8v0.8h-0.8zM261.6,910.6 h0.8v0.8h-0.8zM237.7,939.3 h0.8v0.8h-0.8zM217.1,933.5 h0.8v0.8h-0.8zM253.8,938.3 h0.8v0.8h-0.8zM239.8,926.9 h0.8v0.8h-0.8zM297,921.5 h0.8v0.8h-0.8zM243.2,949.2 h0.8v0.8h-0.8zM250.3,930 h0.8v0.8h-0.8zM228.6,923.7 h0.8v0.8h-0.8zM298,943.8 h0.8v0.8h-0.8zM292.6,948.2 h0.8v0.8h-0.8zM227.6,935.3 h0.8v0.8h-0.8zM266.9,921.6 h0.8v0.8h-0.8zM282.6,914.3 h0.8v0.8h-0.8zM272.8,924 h0.8v0.8h-0.8zM228.5,941.5 h0.8v0.8h-0.8zM232.7,942.7 h0.8v0.8h-0.8zM287.2,924.9 h0.8v0.8h-0.8zM258.2,913.6 h0.8v0.8h-0.8zM228.5,937.6 h0.8v0.8h-0.8zM250.3,931.1 h0.8v0.8h-0.8zM250.1,916.6 h0.8v0.8h-0.8zM230.7,940.8 h0.8v0.8h-0.8zM256.2,911 h0.8v0.8h-0.8zM297.8,911.1 h0.8v0.8h-0.8zM237,911.3 h0.8v0.8h-0.8zM268.2,941.5 h0.8v0.8h-0.8zM218.2,948.7 h0.8v0.8h-0.8zM281.7,944.2 h0.8v0.8h-0.8zM255.2,924.9 h0.8v0.8h-0.8zM224.2,916.4 h0.8v0.8h-0.8zM297.6,917.5 h0.8v0.8h-0.8zM300.4,944.3 h0.8v0.8h-0.8zM255.3,944.3 h0.8v0.8h-0.8zM244.7,915.5 h0.8v0.8h-0.8zM217.2,929.6 h0.8v0.8h-0.8zM267.3,913.9 h0.8v0.8h-0.8zM239.8,934.5 h0.8v0.8h-0.8zM231.6,942 h0.8v0.8h-0.8zM297.7,924.1 h0.8v0.8h-0.8zM227.6,931.5 h0.8v0.8h-0.8zM282.3,930.9 h0.8v0.8h-0.8zM240.9,915.7 h0.8v0.8h-0.8zM283.7,948.3 h0.8v0.8h-0.8zM248.5,932.2 h0.8v0.8h-0.8zM236.2,926.3 h0.8v0.8h-0.8zM270.2,918.5 h0.8v0.8h-0.8zM272.5,930 h0.8v0.8h-0.8zM254.4,910.8 h0.8v0.8h-0.8zM266.9,932.5 h0.8v0.8h-0.8zM274.4,946.8 h0.8v0.8h-0.8zM272.8,941.3 h0.8v0.8h-0.8zM226.2,946.2 h0.8v0.8h-0.8zM303.2,932.5 h0.8v0.8h-0.8zM293.5,930.4 h0.8v0.8h-0.8zM256.4,911.4 h0.8v0.8h-0.8zM260.7,938.4 h0.8v0.8h-0.8zM290.4,947.2 h0.8v0.8h-0.8zM264.3,949.7 h0.8v0.8h-0.8zM255.6,930 h0.8v0.8h-0.8zM288.3,915 h0.8v0.8h-0.8zM217.7,938.9 h0.8v0.8h-0.8zM233.4,945.2 h0.8v0.8h-0.8zM268.8,910.2 h0.8v0.8h-0.8zM264.5,941.3 h0.8v0.8h-0.8zM236.4,950.2 h0.8v0.8h-0.8zM271.5,936.6 h0.8v0.8h-0.8zM272.2,948.7 h0.8v0.8h-0.8zM266.1,920.8 h0.8v0.8h-0.8zM252.7,922.9 h0.8v0.8h-0.8zM298.7,917.5 h0.8v0.8h-0.8zM280.7,931.3 h0.8v0.8h-0.8zM242.2,948.1 h0.8v0.8h-0.8zM239.4,918.3 h0.8v0.8h-0.8zM233.5,937.8 h0.8v0.8h-0.8zM280.8,921.4 h0.8v0.8h-0.8zM226.4,932.7 h0.8v0.8h-0.8zM247.2,930.5 h0.8v0.8h-0.8zM219.6,943.6 h0.8v0.8h-0.8zM236.4,924.4 h0.8v0.8h-0.8zM294,918.7 h0.8v0.8h-0.8zM272.2,951 h0.8v0.8h-0.8zM283.5,948.2 h0.8v0.8h-0.8zM248.5,950.2 h0.8v0.8h-0.8zM300.7,917 h0.8v0.8h-0.8zM288.2,948.4 h0.8v0.8h-0.8zM235.5,922.7 h0.8v0.8h-0.8zM288.1,931.6 h0.8v0.8h-0.8zM302,924.8 h0.8v0.8h-0.8zM257.6,911.8 h0.8v0.8h-0.8zM241.2,946.3 h0.8v0.8h-0.8zM240,947.3 h0.8v0.8h-0.8zM291.2,931.4 h0.8v0.8h-0.8zM226.4,944 h0.8v0.8h-0.8zM305.9,950.6 h0.8v0.8h-0.8zM241.8,949.3 h0.8v0.8h-0.8zM256.9,921.5 h0.8v0.8h-0.8zM301.2,943.6 h0.8v0.8h-0.8zM279.4,917.6 h0.8v0.8h-0.8zM225.4,912.5 h0.8v0.8h-0.8zM240.2,913 h0.8v0.8h-0.8zM269.2,919 h0.8v0.8h-0.8zM235.7,946.4 h0.8v0.8h-0.8zM216.2,930.5 h0.8v0.8h-0.8zM218.1,930.8 h0.8v0.8h-0.8zM217.7,926.5 h0.8v0.8h-0.8zM273.8,929.9 h0.8v0.8h-0.8zM235.7,944.5 h0.8v0.8h-0.8zM307.2,943.3 h0.8v0.8h-0.8zM303.4,951 h0.8v0.8h-0.8zM250.1,930.1 h0.8v0.8h-0.8zM254.4,942 h0.8v0.8h-0.8zM231.2,914.7 h0.8v0.8h-0.8zM257.9,930.2 h0.8v0.8h-0.8zM264.3,932.9 h0.8v0.8h-0.8zM294.6,919.6 h0.8v0.8h-0.8zM272.7,950.1 h0.8v0.8h-0.8zM307.2,931.2 h0.8v0.8h-0.8zM247.3,935.3 h0.8v0.8h-0.8zM284.3,936.8 h0.8v0.8h-0.8zM279.1,922.4 h0.8v0.8h-0.8zM283,920.8 h0.8v0.8h-0.8zM267.6,911.9 h0.8v0.8h-0.8zM242,918.1 h0.8v0.8h-0.8zM250.4,923.9 h0.8v0.8h-0.8zM307.4,929.3 h0.8v0.8h-0.8zM267.2,923.1 h0.8v0.8h-0.8zM267,943.3 h0.8v0.8h-0.8zM264.7,928.6 h0.8v0.8h-0.8zM248.5,912.6 h0.8v0.8h-0.8zM254.6,931.6 h0.8v0.8h-0.8zM226.1,940.5 h0.8v0.8h-0.8zM258,934 h0.8v0.8h-0.8zM256,942.4 h0.8v0.8h-0.8zM279.5,909.5 h0.8v0.8h-0.8zM267.2,916.5 h0.8v0.8h-0.8zM285.9,921.7 h0.8v0.8h-0.8zM239.1,949 h0.8v0.8h-0.8zM220.1,923.6 h0.8v0.8h-0.8zM256.2,936.8 h0.8v0.8h-0.8zM289.2,951.2 h0.8v0.8h-0.8zM240.7,933.9 h0.8v0.8h-0.8zM240.6,947 h0.8v0.8h-0.8zM270.8,923.1 h0.8v0.8h-0.8zM235.8,933.7 h0.8v0.8h-0.8zM220.8,928.1 h0.8v0.8h-0.8zM242.5,923.8 h0.8v0.8h-0.8zM272.9,939.5 h0.8v0.8h-0.8zM279.4,924.8 h0.8v0.8h-0.8zM247.2,934.2 h0.8v0.8h-0.8zM258.7,948.9 h0.8v0.8h-0.8zM265.3,932.2 h0.8v0.8h-0.8zM278.2,927.1 h0.8v0.8h-0.8zM261.8,936 h0.8v0.8h-0.8zM244.1,927.7 h0.8v0.8h-0.8zM307.4,943.3 h0.8v0.8h-0.8zM267.7,918.4 h0.8v0.8h-0.8zM232.2,923.9 h0.8v0.8h-0.8zM255.6,924.7 h0.8v0.8h-0.8zM239.5,927.1 h0.8v0.8h-0.8zM269.5,908.6 h0.8v0.8h-0.8zM277.6,938.3 h0.8v0.8h-0.8zM233.8,915.7 h0.8v0.8h-0.8zM218.9,926.6 h0.8v0.8h-0.8zM279.1,923.7 h0.8v0.8h-0.8zM271,933.1 h0.8v0.8h-0.8zM263.2,948.7 h0.8v0.8h-0.8zM282,925.4 h0.8v0.8h-0.8zM276.4,940.9 h0.8v0.8h-0.8zM252.4,907.8 h0.8v0.8h-0.8zM241.5,938.1 h0.8v0.8h-0.8zM288.2,923.1 h0.8v0.8h-0.8zM299.1,922.6 h0.8v0.8h-0.8zM217.5,913.6 h0.8v0.8h-0.8zM299.4,938 h0.8v0.8h-0.8zM223.5,917.6 h0.8v0.8h-0.8zM252.6,927.1 h0.8v0.8h-0.8zM217.7,948.6 h0.8v0.8h-0.8zM265.5,916.5 h0.8v0.8h-0.8zM218.3,931.5 h0.8v0.8h-0.8zM303.5,938.7 h0.8v0.8h-0.8zM296.5,946.2 h0.8v0.8h-0.8zM278.2,906.4 h0.8v0.8h-0.8zM244.7,932 h0.8v0.8h-0.8zM254.6,914.2 h0.8v0.8h-0.8zM221.7,945.8 h0.8v0.8h-0.8zM278.3,918.2 h0.8v0.8h-0.8zM259.7,946.2 h0.8v0.8h-0.8zM228.9,934.3 h0.8v0.8h-0.8zM237.3,947.8 h0.8v0.8h-0.8zM290.9,949.9 h0.8v0.8h-0.8zM251.5,928.4 h0.8v0.8h-0.8zM245.7,920.7 h0.8v0.8h-0.8zM305.4,950.9 h0.8v0.8h-0.8zM261.5,935.8 h0.8v0.8h-0.8zM301.1,924.6 h0.8v0.8h-0.8zM302.1,942.5 h0.8v0.8h-0.8zM242.1,921.1 h0.8v0.8h-0.8zM280.6,911.6 h0.8v0.8h-0.8zM239.5,913.1 h0.8v0.8h-0.8zM225.4,947.9 h0.8v0.8h-0.8zM262.9,940 h0.8v0.8h-0.8zM280.2,925.1 h0.8v0.8h-0.8z" fill="#a8a8ec" opacity="0.45"/>
<path d="M215.5,952.4 V949.5 M215.5,948.5 V944.1 M215.5,942.9 V936.3 M215.5,935.3 V931.6 M215.5,929.4 V926 M217.4,952.4 V947 M217.4,944.8 V937.2 M217.4,936.2 V932.5 M218.3,952.4 V945.2 M218.3,943.4 V938.2 M218.3,936.6 V931.5 M219.3,952.4 V945 M219.3,943.6 V936.2 M219.3,934.1 V927.2 M219.3,925.1 V921.6 M221.5,952.4 V945 M221.5,943 V940.3 M221.5,938.6 V936 M221.5,934 V929.7 M221.5,928.4 V927.4 M223.2,952.4 V945.2 M223.2,944.3 V936.7 M223.2,935 V930.4 M225.4,952.4 V947.2 M225.4,945.5 V939.5 M225.4,938.4 V934.3 M225.4,932.2 V924.5 M227.2,952.4 V947.6 M227.2,945.7 V939.2 M227.2,936.8 V929.6 M227.2,928.3 V926.3 M229.1,952.4 V947.6 M229.1,947 V941.6 M229.1,939.3 V935.3 M229.1,933.3 V927.8 M230.8,952.4 V945.7 M230.8,944 V935.2 M230.8,933.7 V931.4 M232.5,952.4 V945.9 M232.5,945 V941.7 M232.5,939.5 V934.2 M232.5,932.1 V929.6 M233.7,952.4 V946.2 M233.7,944.9 V940.2 M233.7,939.3 V935.8 M233.7,934 V929.8 M233.7,929.1 V924.4 M233.7,923 V920.4 M235.1,952.4 V945.4 M235.1,943.9 V939.1 M235.1,938.2 V935.1 M235.1,933.7 V927.2 M235.1,926.5 V921.2 M235.1,920.3 V917 M236.9,952.4 V947.6 M236.9,946.3 V943.8 M236.9,942.8 V936.5 M236.9,934.4 V931.4 M236.9,928.9 V920.7 M238.5,952.4 V948.1 M238.5,946.9 V939.8 M238.5,938.3 V933.3 M238.5,931.7 V928.8 M238.5,927.4 V923.3 M240.1,952.4 V946.7 M240.1,945.2 V938.5 M240.1,937.2 V928.3 M240.1,927.4 V925.3 M240.1,923.7 V922.4 M241.5,952.4 V948.7 M241.5,946.6 V938.6 M241.5,937.5 V931.6 M241.5,930.1 V929.5 M243.1,952.4 V944 M243.1,941.7 V937.9 M243.1,937.2 V929.5 M243.1,928.8 V922 M243.1,921.1 V916.6 M244.1,952.4 V946.8 M244.1,945.4 V936.6 M244.1,934.5 V930.9 M244.1,929 V924.3 M244.1,922.9 V919 M245.4,952.4 V949.1 M245.4,946.8 V942.2 M245.4,940.6 V932.9 M245.4,931 V930.9 M247.5,952.4 V948.1 M247.5,945.9 V939.4 M247.5,938.9 V934.2 M247.5,932.3 V926.5 M247.5,924.1 V919.6 M249.7,952.4 V944 M249.7,943.5 V935.9 M249.7,935.3 V929.8 M250.6,952.4 V944.9 M250.6,943.9 V940.2 M250.6,938.2 V932.5 M250.6,931.9 V927.8 M250.6,925.4 V923.7 M252.1,952.4 V944.7 M252.1,943.5 V936.8 M252.1,936.2 V933.8 M252.1,932.5 V926.1 M252.1,925.3 V923 M252.1,920.8 V918.7 M253.1,952.4 V948.4 M253.1,946.7 V940.1 M253.1,939.1 V934.8 M254.8,952.4 V946 M254.8,945.5 V937.1 M254.8,936.2 V934.2 M256.3,952.4 V945.9 M256.3,943.9 V935.9 M256.3,933.5 V931.1 M257.6,952.4 V946.8 M257.6,944.4 V942 M257.6,940 V935.8 M257.6,934.1 V930.6 M259.2,952.4 V947.3 M259.2,946.8 V944.1 M259.2,941.8 V939.2 M259.2,937.9 V931.2 M259.2,930.6 V930.2 M261.3,952.4 V946.3 M261.3,944.6 V942 M261.3,940.5 V933.2 M261.3,931.1 V927.7 M262.4,952.4 V946.8 M262.4,946.3 V938.9 M262.4,938.2 V932.2 M262.4,931.2 V928.2 M264.1,952.4 V946.2 M264.1,944.5 V936.4 M264.1,935.8 V931.1 M264.1,930.2 V924 M264.1,922.7 V921.7 M265.4,952.4 V945.4 M265.4,944 V939.4 M265.4,937.4 V934.4 M265.4,932.4 V928.8 M265.4,926.7 V924.2 M265.4,921.9 V918.1 M266.5,952.4 V944.7 M266.5,943.6 V936 M266.5,934.3 V930.6 M266.5,928.7 V923.8 M266.5,923 V918.1 M267.7,952.4 V945.6 M267.7,944.4 V940.6 M267.7,939 V930.4 M267.7,929.7 V927.9 M269.9,952.4 V950.3 M269.9,948.6 V945.6 M269.9,944.7 V941.7 M269.9,940.2 V931.3 M269.9,928.8 V924.3 M269.9,922 V916.5 M271.9,952.4 V943.6 M271.9,942.8 V934.5 M271.9,933 V930.9 M273.5,952.4 V946.5 M273.5,944 V938.3 M273.5,936 V933.1 M273.5,931.1 V924.9 M273.5,922.6 V921.2 M275.4,952.4 V947.8 M275.4,945.6 V939.1 M275.4,937.6 V935.5 M275.4,933.5 V931.3 M276.8,952.4 V944.5 M276.8,942.4 V933.7 M277.9,952.4 V943.4 M277.9,942.9 V938.5 M277.9,937.7 V934.5 M277.9,933.5 V927.9 M280,952.4 V949.2 M280,948.5 V942.8 M280,941.6 V936.1 M280,935.4 V930.9 M280,929.4 V927.8 M282,952.4 V949.5 M282,947.7 V945.2 M282,944.4 V942.3 M282,940.7 V937.5 M282,936.4 V933.6 M282,931.3 V928.3 M282,926.4 V924.6 M283.6,952.4 V944.7 M283.6,942.8 V940.3 M283.6,938.3 V935.4 M283.6,933.9 V930.6 M285.4,952.4 V948.1 M285.4,947.5 V942.4 M285.4,940 V934.2 M285.4,932.4 V930.9 M287.5,952.4 V945.2 M287.5,943.1 V940.1 M287.5,939.1 V932.1 M287.5,930.5 V927.8 M288.8,952.4 V945.8 M288.8,945.1 V939.6 M290.2,952.4 V946 M290.2,944.2 V941.8 M290.2,939.5 V932.6 M291.9,952.4 V944.2 M291.9,942.2 V935.7 M291.9,935.2 V933 M293.9,952.4 V948.9 M293.9,947.5 V939.7 M293.9,937.6 V935.8 M295.1,952.4 V948.6 M295.1,946.4 V941.5 M295.1,940.6 V935.7 M295.1,934.9 V930.8 M296.6,952.4 V950.1 M296.6,949.2 V940.3 M296.6,938 V935.9 M298.6,952.4 V945.3 M298.6,943.7 V938.1 M298.6,936.2 V930 M299.8,952.4 V945.1 M299.8,943.7 V935.8 M299.8,934.7 V930 M301.9,952.4 V944.5 M301.9,942.7 V937.8" stroke="#b4b4ee" stroke-width="0.8" opacity="0.55" fill="none"/>
<path d="M214.3,890.5 V960.3" stroke="#666" stroke-width="1.0" fill="none"/>
<path d="M214.3,890.5 H318.6" stroke="#666" stroke-width="1.0" fill="none"/>
<path d="M318.6,890.5 V960.3" stroke="#777" stroke-width="1.0" fill="none"/>
<path d="M214.3,960.3 H318.6" stroke="#777" stroke-width="1.0" fill="none"/>
<path d="M214.3,952.9 h1.6 M214.3,939.1 h1.6 M214.3,925.4 h1.6 M214.3,911.7 h1.6 M214.3,897.9 h1.6 M214.3,960.3 v-1.6 M225.9,960.3 v-1.6 M237.5,960.3 v-1.6 M249.1,960.3 v-1.6 M260.7,960.3 v-1.6 M272.2,960.3 v-1.6 M283.8,960.3 v-1.6 M295.4,960.3 v-1.6 M307,960.3 v-1.6 M318.6,960.3 v-1.6" stroke="#909090" stroke-width="0.8" fill="none"/>
<text x="213.1" y="956.6" font-size="11.1" text-anchor="end" fill="#222" class="it">0.0</text>
<text x="213.1" y="942.8" font-size="11.1" text-anchor="end" fill="#222" class="it">0.5</text>
<text x="213.1" y="929.1" font-size="11.1" text-anchor="end" fill="#222" class="it">1.0</text>
<text x="213.1" y="915.4" font-size="11.1" text-anchor="end" fill="#222" class="it">1.5</text>
<text x="213.1" y="901.6" font-size="11.1" text-anchor="end" fill="#222" class="it">2.0</text>
<text x="214.3" y="970.1" font-size="11.1" text-anchor="middle" fill="#222" class="it">0.10</text>
<text x="237.5" y="970.1" font-size="11.1" text-anchor="middle" fill="#222" class="it">0.15</text>
<text x="260.7" y="970.1" font-size="11.1" text-anchor="middle" fill="#222" class="it">0.20</text>
<text x="283.8" y="970.1" font-size="11.1" text-anchor="middle" fill="#222" class="it">0.25</text>
<text x="307" y="970.1" font-size="11.1" text-anchor="middle" fill="#222" class="it">0.30</text>
<rect x="65.6" y="783.5" width="266.7" height="193.9" fill="none" stroke="#333" stroke-width="1.5"/>
<path d="M65.6,966 h5.2 M65.6,954.6 h3.0 M65.6,943.2 h5.2 M65.6,931.8 h3.0 M65.6,920.4 h5.2 M65.6,909 h3.0 M65.6,897.6 h5.2 M65.6,886.2 h3.0 M65.6,874.7 h5.2 M65.6,863.3 h3.0 M65.6,851.9 h5.2 M65.6,840.5 h3.0 M65.6,829.1 h5.2 M65.6,817.7 h3.0 M65.6,806.3 h5.2 M65.6,794.9 h3.0 M95.2,977.4 v-3.0 M124.9,977.4 v-5.2 M154.5,977.4 v-3.0 M184.1,977.4 v-5.2 M213.8,977.4 v-3.0 M243.4,977.4 v-5.2 M273,977.4 v-3.0 M302.7,977.4 v-5.2" stroke="#2a2a2a" stroke-width="1.2" fill="none"/>
<text x="59.5" y="971.6" font-size="16" text-anchor="end" fill="#111">-0.4</text>
<text x="59.5" y="948.8" font-size="16" text-anchor="end" fill="#111">-0.2</text>
<text x="59.5" y="926" font-size="16" text-anchor="end" fill="#111">0.0</text>
<text x="59.5" y="903.2" font-size="16" text-anchor="end" fill="#111">0.2</text>
<text x="59.5" y="880.3" font-size="16" text-anchor="end" fill="#111">0.4</text>
<text x="59.5" y="857.5" font-size="16" text-anchor="end" fill="#111">0.6</text>
<text x="59.5" y="834.7" font-size="16" text-anchor="end" fill="#111">0.8</text>
<text x="59.5" y="811.9" font-size="16" text-anchor="end" fill="#111">1.0</text>
<text x="59.5" y="789.1" font-size="16" text-anchor="end" fill="#111">1.2</text>
<text x="65.6" y="996.7" font-size="16" text-anchor="middle" fill="#111">0.10</text>
<text x="124.9" y="996.7" font-size="16" text-anchor="middle" fill="#111">0.15</text>
<text x="184.1" y="996.7" font-size="16" text-anchor="middle" fill="#111">0.20</text>
<text x="243.4" y="996.7" font-size="16" text-anchor="middle" fill="#111">0.25</text>
<text x="302.7" y="996.7" font-size="16" text-anchor="middle" fill="#111">0.30</text>
<text x="198.9" y="1019.4" font-size="19.2" text-anchor="middle" fill="#111">SWC (m<tspan dy="-7" font-size="12">3</tspan><tspan dy="7"> m</tspan><tspan dy="-7" font-size="12">-3</tspan><tspan dy="7">)</tspan></text>
<text transform="translate(22.7,880.5) rotate(-90)" font-size="19.6" text-anchor="middle" fill="#111">GPP (mg CO<tspan dy="5.5" font-size="12.6">2</tspan><tspan dy="-5.5"> m</tspan><tspan dy="-8.3" font-size="12.6">-2</tspan><tspan dy="8.3"> s</tspan><tspan dy="-8.3" font-size="12.6">-1</tspan><tspan dy="8.3">)</tspan></text>
<text x="79.7" y="811.8" font-size="22" fill="#111">(g)</text>
</g>
<g>
<path d="M421.3,823 C422.7,822.9 426.6,823 429.6,822.4 C432.6,821.8 435.1,820.5 439.4,819.4 C443.7,818.2 451.2,815.7 455.2,815.5 C459.1,815.3 460.2,816.8 463.1,818.4 C466.1,820 469.6,824.6 472.9,825.3 C476.2,826 479.2,823.4 482.8,822.4 C486.4,821.4 491.3,820.7 494.6,819.4 C497.9,818.1 499.9,816 502.5,814.5 C505.1,813 507.8,810.8 510.4,810.5 C513,810.2 515.2,811 518.2,812.5 C521.2,814 525.3,817.6 528.1,819.4 C530.9,821.1 533,821.9 535,823 C537,824.1 537.6,825 540.2,826 C542.8,827 547.3,828.7 550.4,829 C553.5,829.3 555.9,829.7 558.6,828 C561.3,826.3 564.1,821.3 566.8,818.8 C569.5,816.2 571.9,814.2 575,812.7 C578.1,811.2 581.8,810.6 585.2,809.6 C588.6,808.6 592.7,807.8 595.4,806.6 C598.1,805.4 599.5,803.7 601.5,802.5 C603.5,801.3 605.3,798.7 607.7,799.4 C610.1,800.1 613.1,803.4 615.8,806.6 C618.5,809.8 621.3,814.4 624,818.8 C626.7,823.2 630.6,830 632.2,833.1 C633.8,836.2 633.5,831.1 633.8,837.2 C634.1,843.4 634,858.5 634,870 C634,881.5 633.8,900 633.8,906 L629.8,905.2 C629,903.9 627.2,899.4 625.1,897.4 C623,895.4 619.9,894 617.3,893.5 C614.7,893 613.4,893.7 609.5,894.2 C605.6,894.7 599.1,895.8 593.9,896.6 C588.7,897.4 583.4,898.2 578.2,898.9 C573,899.5 567.2,899.9 562.6,900.5 C558,901.1 555,902.6 550.4,902.6 C545.8,902.6 539.7,901.2 535,900.2 C530.3,899.2 526,897.3 522.2,896.3 C518.4,895.3 515.2,894.3 512.3,894.3 C509.3,894.3 507.1,895.1 504.5,896.3 C501.9,897.4 499.2,900.9 496.6,901.2 C494,901.5 491.7,898.9 488.7,898.2 C485.7,897.6 483.7,897.4 478.8,897.3 C473.9,897.1 465.7,897.5 459.1,897.3 C452.5,897.1 445.7,896.6 439.4,896.3 C433.1,896 424.3,895.5 421.3,895.3 Z" fill="#eaf7ef"/>
<path d="M425.5,859.3 L430.1,859.3 M437.7,858.2 L442.9,856.9 M450.5,855.8 L454.7,855.6 M462.3,856.9 L468.5,859.4 M476.1,860.4 L480.9,859.8 M488.5,859.7 L492.4,860.1 M499.9,858 L504.7,854.7 M512.2,853.2 L518.4,854.6 M525.9,857.8 L530.4,860.5 M537.9,863.6 L543,864.6 M550.6,865.1 L555.4,864.7 M562.9,862 L568.2,858.6 M575.7,855.6 L580,854.8 M587.6,853.2 L592.6,851.9 M600.2,849.6 L604.3,848.3 M611.8,848.6 L616.2,850.5 M622.3,855.8 L630.8,868.7" stroke="#7cc69a" stroke-width="1.55" fill="none"/>
<rect x="418.6" y="856.3" width="6.2" height="6.2" fill="#78c497"/>
<rect x="430.8" y="856.1" width="6.2" height="6.2" fill="#78c497"/>
<rect x="443.6" y="852.8" width="6.2" height="6.2" fill="#78c497"/>
<rect x="455.4" y="852.4" width="6.2" height="6.2" fill="#78c497"/>
<rect x="469.2" y="857.7" width="6.2" height="6.2" fill="#78c497"/>
<rect x="481.6" y="856.3" width="6.2" height="6.2" fill="#78c497"/>
<rect x="493.1" y="857.3" width="6.2" height="6.2" fill="#78c497"/>
<rect x="505.3" y="849.2" width="6.2" height="6.2" fill="#78c497"/>
<rect x="519.1" y="852.4" width="6.2" height="6.2" fill="#78c497"/>
<rect x="531" y="859.7" width="6.2" height="6.2" fill="#78c497"/>
<rect x="543.7" y="862.3" width="6.2" height="6.2" fill="#78c497"/>
<rect x="556.1" y="861.3" width="6.2" height="6.2" fill="#78c497"/>
<rect x="568.8" y="853.1" width="6.2" height="6.2" fill="#78c497"/>
<rect x="580.7" y="851.1" width="6.2" height="6.2" fill="#78c497"/>
<rect x="593.3" y="847.8" width="6.2" height="6.2" fill="#78c497"/>
<rect x="605" y="843.9" width="6.2" height="6.2" fill="#78c497"/>
<rect x="616.8" y="849" width="6.2" height="6.2" fill="#78c497"/>
<rect x="630.1" y="869.3" width="6.2" height="6.2" fill="#78c497"/>
<path d="M554.8,952.4 C554.8,944.3 550.9,912.2 554.8,903.6 C558.7,895 570.4,901.5 578.2,900.5 C586,899.5 595.2,898.2 601.7,897.4 C608.2,896.6 612.6,894.2 617.3,895.8 C622,897.3 626.4,903.3 629.8,906.7 C633.2,910.1 635.5,911.4 637.6,916.1 C639.7,920.8 641.8,928.9 642.3,934.9 C642.8,940.9 641,949.1 640.7,952 Z" fill="#f5f5fd" opacity="1" filter="url(#bl)"/>
<path d="M555,952.4 C555,947.3 550.8,927.4 555,922 C559.2,916.6 572.5,920.2 580,920 C587.5,919.8 594.2,920.7 600,921 C605.8,921.3 611,919.3 615,922 C619,924.7 622.8,931.9 624,937 C625.2,942.1 622.3,949.8 622,952.4 Z" fill="#dedef7" opacity="1" filter="url(#bl)"/>
<path d="M632.5,945.8 h0.8v0.8h-0.8zM615.9,943.3 h0.8v0.8h-0.8zM610.3,927.1 h0.8v0.8h-0.8zM571.6,925.1 h0.8v0.8h-0.8zM640.3,949.3 h0.8v0.8h-0.8zM558.5,913 h0.8v0.8h-0.8zM575.8,943.5 h0.8v0.8h-0.8zM570.7,939.1 h0.8v0.8h-0.8zM572,915 h0.8v0.8h-0.8zM605.7,911.4 h0.8v0.8h-0.8zM620.9,899.6 h0.8v0.8h-0.8zM614,910.4 h0.8v0.8h-0.8zM613.4,897.4 h0.8v0.8h-0.8zM637,931.7 h0.8v0.8h-0.8zM634.8,937.9 h0.8v0.8h-0.8zM560.1,937.9 h0.8v0.8h-0.8zM588.1,907.2 h0.8v0.8h-0.8zM632.7,933.4 h0.8v0.8h-0.8zM585.4,899.9 h0.8v0.8h-0.8zM611.6,899.2 h0.8v0.8h-0.8zM569.9,938.1 h0.8v0.8h-0.8zM578.2,951.6 h0.8v0.8h-0.8zM579.2,941 h0.8v0.8h-0.8zM619.2,932.2 h0.8v0.8h-0.8zM607.7,903.7 h0.8v0.8h-0.8zM627.3,948 h0.8v0.8h-0.8zM601.3,906.4 h0.8v0.8h-0.8zM562.3,910.3 h0.8v0.8h-0.8zM579.3,925.5 h0.8v0.8h-0.8zM557.8,940.5 h0.8v0.8h-0.8zM623,913.2 h0.8v0.8h-0.8zM557.4,946.7 h0.8v0.8h-0.8zM625.6,939 h0.8v0.8h-0.8zM573.2,949.8 h0.8v0.8h-0.8zM610.9,897.6 h0.8v0.8h-0.8zM640.7,935.3 h0.8v0.8h-0.8zM570.9,946.2 h0.8v0.8h-0.8zM607,931.8 h0.8v0.8h-0.8zM557.2,907.9 h0.8v0.8h-0.8zM605.8,903.6 h0.8v0.8h-0.8zM623.4,921.4 h0.8v0.8h-0.8zM623.3,947.5 h0.8v0.8h-0.8zM586.7,940.7 h0.8v0.8h-0.8zM583.9,948.9 h0.8v0.8h-0.8zM584.2,931.3 h0.8v0.8h-0.8zM577.2,936.7 h0.8v0.8h-0.8zM579.6,919.7 h0.8v0.8h-0.8zM618.1,942.7 h0.8v0.8h-0.8zM567.1,905.6 h0.8v0.8h-0.8zM573.4,939.2 h0.8v0.8h-0.8zM613.8,936.4 h0.8v0.8h-0.8zM625.5,909 h0.8v0.8h-0.8zM585.6,929.8 h0.8v0.8h-0.8zM577.6,940.8 h0.8v0.8h-0.8zM573.4,920.8 h0.8v0.8h-0.8zM614.6,908.3 h0.8v0.8h-0.8zM612.9,918.5 h0.8v0.8h-0.8zM611.9,942.4 h0.8v0.8h-0.8zM614.3,944.6 h0.8v0.8h-0.8zM613,939.9 h0.8v0.8h-0.8zM628.1,929.5 h0.8v0.8h-0.8zM601.3,904.9 h0.8v0.8h-0.8zM564.5,918 h0.8v0.8h-0.8zM580.4,927.7 h0.8v0.8h-0.8zM627.3,911 h0.8v0.8h-0.8zM633.1,943 h0.8v0.8h-0.8zM571.6,929.2 h0.8v0.8h-0.8zM574.1,907.4 h0.8v0.8h-0.8zM625.4,944.8 h0.8v0.8h-0.8zM556.9,944.3 h0.8v0.8h-0.8zM587.6,915.3 h0.8v0.8h-0.8zM616.1,925.8 h0.8v0.8h-0.8zM583.6,904.3 h0.8v0.8h-0.8zM564.9,936.1 h0.8v0.8h-0.8zM574.3,925.5 h0.8v0.8h-0.8zM578.1,923.5 h0.8v0.8h-0.8zM598.7,910.7 h0.8v0.8h-0.8zM565.1,919.5 h0.8v0.8h-0.8zM625.8,903.6 h0.8v0.8h-0.8zM601.9,941.7 h0.8v0.8h-0.8zM604.7,915.4 h0.8v0.8h-0.8zM636,940 h0.8v0.8h-0.8zM597.1,921.3 h0.8v0.8h-0.8zM628.3,930.9 h0.8v0.8h-0.8zM602.9,924.9 h0.8v0.8h-0.8zM632.7,915.8 h0.8v0.8h-0.8zM566.3,905.8 h0.8v0.8h-0.8zM576.1,901.2 h0.8v0.8h-0.8zM640.2,927.2 h0.8v0.8h-0.8zM624.6,921.5 h0.8v0.8h-0.8zM600.4,908.6 h0.8v0.8h-0.8zM632.7,919.6 h0.8v0.8h-0.8zM590.3,937.8 h0.8v0.8h-0.8zM596.9,919.8 h0.8v0.8h-0.8zM627.1,919.9 h0.8v0.8h-0.8zM572.5,922.9 h0.8v0.8h-0.8zM581.6,910.4 h0.8v0.8h-0.8zM622.4,915.6 h0.8v0.8h-0.8zM609.5,912.9 h0.8v0.8h-0.8zM564.8,940 h0.8v0.8h-0.8zM622.6,935.7 h0.8v0.8h-0.8zM608.2,905.7 h0.8v0.8h-0.8zM598.7,943 h0.8v0.8h-0.8zM623.4,929.2 h0.8v0.8h-0.8zM610,905.5 h0.8v0.8h-0.8zM559.6,943.7 h0.8v0.8h-0.8zM556.4,910.1 h0.8v0.8h-0.8zM589.8,935.4 h0.8v0.8h-0.8zM615.8,944.9 h0.8v0.8h-0.8zM576.6,902.7 h0.8v0.8h-0.8zM583.7,901.6 h0.8v0.8h-0.8zM638.9,928.3 h0.8v0.8h-0.8zM597.8,899.1 h0.8v0.8h-0.8zM622.1,907.4 h0.8v0.8h-0.8zM578.5,903.6 h0.8v0.8h-0.8zM601.6,911.9 h0.8v0.8h-0.8zM604.8,936.3 h0.8v0.8h-0.8zM574.6,903.3 h0.8v0.8h-0.8zM599.9,918.4 h0.8v0.8h-0.8zM593.9,916.7 h0.8v0.8h-0.8zM569.2,902.7 h0.8v0.8h-0.8zM618.4,931.7 h0.8v0.8h-0.8zM615,931.9 h0.8v0.8h-0.8zM599.7,906.9 h0.8v0.8h-0.8zM634.8,926 h0.8v0.8h-0.8zM594.9,910.6 h0.8v0.8h-0.8zM587.8,951.3 h0.8v0.8h-0.8zM590.3,941.3 h0.8v0.8h-0.8zM565.7,929.7 h0.8v0.8h-0.8zM578.6,909.1 h0.8v0.8h-0.8zM581.4,918.2 h0.8v0.8h-0.8zM611.1,918.9 h0.8v0.8h-0.8zM629.6,920.5 h0.8v0.8h-0.8zM624.1,918.1 h0.8v0.8h-0.8zM577.3,946.4 h0.8v0.8h-0.8zM610.5,936.7 h0.8v0.8h-0.8zM600.5,936 h0.8v0.8h-0.8zM638.5,937.7 h0.8v0.8h-0.8zM580.9,945.8 h0.8v0.8h-0.8zM627.8,946.1 h0.8v0.8h-0.8zM592.9,919.2 h0.8v0.8h-0.8zM569.4,905.5 h0.8v0.8h-0.8zM581.3,919.4 h0.8v0.8h-0.8zM588.3,921.8 h0.8v0.8h-0.8zM557.9,915.2 h0.8v0.8h-0.8zM599.3,898.9 h0.8v0.8h-0.8zM596.9,947 h0.8v0.8h-0.8zM612,949.3 h0.8v0.8h-0.8zM630.1,923.8 h0.8v0.8h-0.8zM605.2,943.5 h0.8v0.8h-0.8zM583.8,903.2 h0.8v0.8h-0.8zM621.2,926.3 h0.8v0.8h-0.8zM595.7,903 h0.8v0.8h-0.8zM603.3,928.3 h0.8v0.8h-0.8zM617,946.9 h0.8v0.8h-0.8zM561.4,942.8 h0.8v0.8h-0.8zM582.9,919.3 h0.8v0.8h-0.8zM584.9,941.5 h0.8v0.8h-0.8zM593.4,899.8 h0.8v0.8h-0.8zM596.3,904.2 h0.8v0.8h-0.8zM588.1,921.3 h0.8v0.8h-0.8zM633.7,926.6 h0.8v0.8h-0.8zM638.3,934.9 h0.8v0.8h-0.8zM567.7,940.6 h0.8v0.8h-0.8zM612.7,912.6 h0.8v0.8h-0.8zM569.1,932 h0.8v0.8h-0.8zM573,906.1 h0.8v0.8h-0.8zM617.1,948.3 h0.8v0.8h-0.8zM572.6,909.3 h0.8v0.8h-0.8zM567.3,907.6 h0.8v0.8h-0.8zM574.5,919.4 h0.8v0.8h-0.8zM575.6,933.3 h0.8v0.8h-0.8zM575.8,910.9 h0.8v0.8h-0.8zM591.4,905.4 h0.8v0.8h-0.8zM555.2,934 h0.8v0.8h-0.8zM559.1,922.9 h0.8v0.8h-0.8zM632.6,930.6 h0.8v0.8h-0.8zM581.6,918.6 h0.8v0.8h-0.8zM592.2,914 h0.8v0.8h-0.8zM559.5,904.7 h0.8v0.8h-0.8zM567.3,907.6 h0.8v0.8h-0.8zM583.8,901.6 h0.8v0.8h-0.8zM608.7,907.1 h0.8v0.8h-0.8zM599.5,935 h0.8v0.8h-0.8zM598.3,937.7 h0.8v0.8h-0.8zM623.1,921.1 h0.8v0.8h-0.8zM615.4,916.6 h0.8v0.8h-0.8zM580.2,900.5 h0.8v0.8h-0.8zM570.6,946.3 h0.8v0.8h-0.8zM596.1,943.7 h0.8v0.8h-0.8zM628.7,909.8 h0.8v0.8h-0.8zM574.6,946 h0.8v0.8h-0.8zM575.5,929.7 h0.8v0.8h-0.8zM636.7,922.2 h0.8v0.8h-0.8zM592,950 h0.8v0.8h-0.8zM630.3,948.3 h0.8v0.8h-0.8zM616.7,908.5 h0.8v0.8h-0.8zM635.6,926.5 h0.8v0.8h-0.8zM632.1,950 h0.8v0.8h-0.8zM575.6,950.7 h0.8v0.8h-0.8zM578.8,905.9 h0.8v0.8h-0.8zM578.6,952.1 h0.8v0.8h-0.8zM637,915.7 h0.8v0.8h-0.8zM597,942.4 h0.8v0.8h-0.8zM625.2,946.6 h0.8v0.8h-0.8zM586.5,908.9 h0.8v0.8h-0.8zM599.7,948.7 h0.8v0.8h-0.8zM608.5,945.2 h0.8v0.8h-0.8zM572,924.5 h0.8v0.8h-0.8zM635,928.1 h0.8v0.8h-0.8zM624.3,941.5 h0.8v0.8h-0.8zM593.5,934.8 h0.8v0.8h-0.8zM615.3,920.7 h0.8v0.8h-0.8zM600.3,941.7 h0.8v0.8h-0.8zM631.9,951.6 h0.8v0.8h-0.8zM586.9,934.1 h0.8v0.8h-0.8zM603,944 h0.8v0.8h-0.8zM575.8,922.2 h0.8v0.8h-0.8zM577.2,941.3 h0.8v0.8h-0.8zM617,896.2 h0.8v0.8h-0.8zM564.3,903.8 h0.8v0.8h-0.8zM606.5,939.7 h0.8v0.8h-0.8zM584.9,900.3 h0.8v0.8h-0.8zM606,930.6 h0.8v0.8h-0.8zM592.5,911.1 h0.8v0.8h-0.8zM585.2,909 h0.8v0.8h-0.8zM625.9,917.4 h0.8v0.8h-0.8zM617.2,926.9 h0.8v0.8h-0.8zM574.9,911.6 h0.8v0.8h-0.8zM613.5,944.7 h0.8v0.8h-0.8zM577.5,901.4 h0.8v0.8h-0.8zM571.4,917.7 h0.8v0.8h-0.8zM617.6,947.6 h0.8v0.8h-0.8zM606.5,904 h0.8v0.8h-0.8zM587.7,903.9 h0.8v0.8h-0.8zM579.3,928.3 h0.8v0.8h-0.8zM598.7,905.5 h0.8v0.8h-0.8zM579,946.5 h0.8v0.8h-0.8zM610,929.8 h0.8v0.8h-0.8zM583,912.7 h0.8v0.8h-0.8zM612,949.9 h0.8v0.8h-0.8zM610.4,898.5 h0.8v0.8h-0.8zM557.8,940.2 h0.8v0.8h-0.8zM571,919.7 h0.8v0.8h-0.8zM611.8,934 h0.8v0.8h-0.8zM580,934.4 h0.8v0.8h-0.8zM634.8,922.3 h0.8v0.8h-0.8zM589.5,934.6 h0.8v0.8h-0.8zM631.2,934.7 h0.8v0.8h-0.8zM635.9,940 h0.8v0.8h-0.8zM613.7,907.7 h0.8v0.8h-0.8zM565.1,915.1 h0.8v0.8h-0.8zM581.8,948.3 h0.8v0.8h-0.8zM640.7,938.7 h0.8v0.8h-0.8zM585.6,942.4 h0.8v0.8h-0.8zM560.3,914.7 h0.8v0.8h-0.8zM575.9,944.4 h0.8v0.8h-0.8zM593.9,944 h0.8v0.8h-0.8zM597.5,916.9 h0.8v0.8h-0.8zM594.6,949.6 h0.8v0.8h-0.8zM639.8,948.5 h0.8v0.8h-0.8zM563.4,920.8 h0.8v0.8h-0.8zM560.5,907.4 h0.8v0.8h-0.8zM562.2,937.7 h0.8v0.8h-0.8zM617.2,951.7 h0.8v0.8h-0.8zM559.2,935.6 h0.8v0.8h-0.8zM624.2,905.9 h0.8v0.8h-0.8zM561.7,951.3 h0.8v0.8h-0.8zM571.2,933.1 h0.8v0.8h-0.8zM569.8,920.5 h0.8v0.8h-0.8zM597.2,926.5 h0.8v0.8h-0.8zM585.8,899.9 h0.8v0.8h-0.8zM603.2,905.2 h0.8v0.8h-0.8zM583.8,950.7 h0.8v0.8h-0.8zM611.6,933.6 h0.8v0.8h-0.8zM607.8,907.2 h0.8v0.8h-0.8zM614.7,950.7 h0.8v0.8h-0.8zM562.6,943.3 h0.8v0.8h-0.8zM584.9,907.2 h0.8v0.8h-0.8zM612.1,944 h0.8v0.8h-0.8zM569.4,907 h0.8v0.8h-0.8zM598.6,907.4 h0.8v0.8h-0.8zM599.1,951.8 h0.8v0.8h-0.8zM557,920 h0.8v0.8h-0.8zM572.5,905.2 h0.8v0.8h-0.8zM606.3,949.4 h0.8v0.8h-0.8zM595.9,927.4 h0.8v0.8h-0.8zM616,944.4 h0.8v0.8h-0.8zM570.3,947.7 h0.8v0.8h-0.8zM607.8,945.8 h0.8v0.8h-0.8zM567.6,940.5 h0.8v0.8h-0.8zM565.1,903.3 h0.8v0.8h-0.8zM565.4,916.3 h0.8v0.8h-0.8zM591.1,933 h0.8v0.8h-0.8zM636.9,920.1 h0.8v0.8h-0.8zM605.4,919.1 h0.8v0.8h-0.8zM588.3,910.8 h0.8v0.8h-0.8zM555.2,910.3 h0.8v0.8h-0.8zM618.1,941 h0.8v0.8h-0.8zM614.8,920.8 h0.8v0.8h-0.8zM590.8,906.5 h0.8v0.8h-0.8zM576,952.3 h0.8v0.8h-0.8zM606.2,918.7 h0.8v0.8h-0.8zM601.6,923.7 h0.8v0.8h-0.8zM580.5,919.5 h0.8v0.8h-0.8zM592.5,946.7 h0.8v0.8h-0.8zM632.8,912.1 h0.8v0.8h-0.8zM594.7,908.4 h0.8v0.8h-0.8zM595.1,921.8 h0.8v0.8h-0.8zM556.1,904.4 h0.8v0.8h-0.8zM598.5,922.6 h0.8v0.8h-0.8zM583.2,915.5 h0.8v0.8h-0.8zM563.9,929.7 h0.8v0.8h-0.8zM574,925.9 h0.8v0.8h-0.8zM616.9,896.6 h0.8v0.8h-0.8zM598.4,931.9 h0.8v0.8h-0.8zM633,934.9 h0.8v0.8h-0.8zM628.1,933.3 h0.8v0.8h-0.8zM574.4,941.8 h0.8v0.8h-0.8zM620.9,923.4 h0.8v0.8h-0.8zM634.2,916 h0.8v0.8h-0.8zM602.3,940.9 h0.8v0.8h-0.8zM569.4,923.9 h0.8v0.8h-0.8zM592.1,902.6 h0.8v0.8h-0.8zM636.4,924.5 h0.8v0.8h-0.8zM629.6,911.2 h0.8v0.8h-0.8zM595.3,909.8 h0.8v0.8h-0.8zM606.4,935.8 h0.8v0.8h-0.8zM605,928.9 h0.8v0.8h-0.8zM581.9,949.7 h0.8v0.8h-0.8zM556.5,905.2 h0.8v0.8h-0.8zM613.2,950.9 h0.8v0.8h-0.8zM629,909.7 h0.8v0.8h-0.8zM637.3,921.6 h0.8v0.8h-0.8zM604.8,932.4 h0.8v0.8h-0.8zM608.8,945.6 h0.8v0.8h-0.8zM633.4,913.7 h0.8v0.8h-0.8zM632.9,913.7 h0.8v0.8h-0.8zM614.6,904.7 h0.8v0.8h-0.8zM610.6,912.8 h0.8v0.8h-0.8zM641.8,933.4 h0.8v0.8h-0.8zM588.7,950.2 h0.8v0.8h-0.8zM564.9,938.1 h0.8v0.8h-0.8zM611.5,896.8 h0.8v0.8h-0.8zM595,902.4 h0.8v0.8h-0.8zM610.4,926.5 h0.8v0.8h-0.8zM565.8,948.7 h0.8v0.8h-0.8zM605,930.8 h0.8v0.8h-0.8zM577.8,904.5 h0.8v0.8h-0.8zM572.4,923.9 h0.8v0.8h-0.8zM589,938.8 h0.8v0.8h-0.8zM567.2,907.5 h0.8v0.8h-0.8zM600.6,934.7 h0.8v0.8h-0.8zM582.3,907.5 h0.8v0.8h-0.8zM565.8,916.4 h0.8v0.8h-0.8zM588,940.9 h0.8v0.8h-0.8zM575.8,915.1 h0.8v0.8h-0.8zM620,907.5 h0.8v0.8h-0.8zM558.2,950.8 h0.8v0.8h-0.8zM634.8,913.7 h0.8v0.8h-0.8zM579.6,921.8 h0.8v0.8h-0.8zM573.2,940.3 h0.8v0.8h-0.8zM632.3,936.1 h0.8v0.8h-0.8zM589.7,943.3 h0.8v0.8h-0.8zM613.3,905.6 h0.8v0.8h-0.8zM641.1,940.8 h0.8v0.8h-0.8zM590.6,937.7 h0.8v0.8h-0.8zM599.7,900.1 h0.8v0.8h-0.8zM594.8,944.1 h0.8v0.8h-0.8zM605.3,910.9 h0.8v0.8h-0.8zM573.4,927.4 h0.8v0.8h-0.8zM599.4,946.9 h0.8v0.8h-0.8zM569.8,922.2 h0.8v0.8h-0.8zM594,917.1 h0.8v0.8h-0.8zM571.1,917.5 h0.8v0.8h-0.8zM602.3,906.8 h0.8v0.8h-0.8zM582.8,925.6 h0.8v0.8h-0.8zM637.1,923.1 h0.8v0.8h-0.8zM600.1,915.3 h0.8v0.8h-0.8zM564.9,922.6 h0.8v0.8h-0.8zM608.7,915.7 h0.8v0.8h-0.8zM619.1,931.6 h0.8v0.8h-0.8zM600.8,930.1 h0.8v0.8h-0.8zM603.5,908.8 h0.8v0.8h-0.8zM584.9,936.4 h0.8v0.8h-0.8zM589.5,925.7 h0.8v0.8h-0.8zM574.8,931.4 h0.8v0.8h-0.8zM620.8,941.3 h0.8v0.8h-0.8zM616.2,922.2 h0.8v0.8h-0.8zM578,935.6 h0.8v0.8h-0.8zM591.5,914.1 h0.8v0.8h-0.8zM565,930.1 h0.8v0.8h-0.8zM617,939.3 h0.8v0.8h-0.8zM568.1,907.4 h0.8v0.8h-0.8zM610.6,903.1 h0.8v0.8h-0.8zM632.4,948.3 h0.8v0.8h-0.8zM610,910.6 h0.8v0.8h-0.8zM604,939.2 h0.8v0.8h-0.8zM585,932.6 h0.8v0.8h-0.8zM607.4,947.2 h0.8v0.8h-0.8zM622.7,933.7 h0.8v0.8h-0.8zM602.5,946.2 h0.8v0.8h-0.8zM607.5,934.8 h0.8v0.8h-0.8zM582,901.9 h0.8v0.8h-0.8zM603.6,908.4 h0.8v0.8h-0.8zM633.2,914.7 h0.8v0.8h-0.8zM571.6,928.5 h0.8v0.8h-0.8zM583,952 h0.8v0.8h-0.8zM608.8,901.5 h0.8v0.8h-0.8zM581.9,902.1 h0.8v0.8h-0.8zM598,925.7 h0.8v0.8h-0.8zM582.4,933.9 h0.8v0.8h-0.8zM593.7,942.2 h0.8v0.8h-0.8zM614.2,910.4 h0.8v0.8h-0.8zM638.1,926.1 h0.8v0.8h-0.8zM628.4,951.8 h0.8v0.8h-0.8zM562.8,946.7 h0.8v0.8h-0.8zM556.6,935.5 h0.8v0.8h-0.8zM624.2,917.6 h0.8v0.8h-0.8zM632.7,939.2 h0.8v0.8h-0.8zM598.3,911.7 h0.8v0.8h-0.8zM602.2,925.5 h0.8v0.8h-0.8zM571.2,925.8 h0.8v0.8h-0.8zM561.7,912.9 h0.8v0.8h-0.8zM613.3,904.4 h0.8v0.8h-0.8zM600.6,903.4 h0.8v0.8h-0.8zM636.3,947.8 h0.8v0.8h-0.8zM614.4,899.8 h0.8v0.8h-0.8zM639.9,935 h0.8v0.8h-0.8zM558,903.6 h0.8v0.8h-0.8zM564,915.5 h0.8v0.8h-0.8zM636.8,940.5 h0.8v0.8h-0.8zM583.3,941.6 h0.8v0.8h-0.8zM555.7,926.6 h0.8v0.8h-0.8zM588.9,900.1 h0.8v0.8h-0.8zM635.2,933 h0.8v0.8h-0.8zM609.1,903 h0.8v0.8h-0.8zM596.5,946.6 h0.8v0.8h-0.8zM603.7,931.9 h0.8v0.8h-0.8zM595,916.1 h0.8v0.8h-0.8zM555.8,908.2 h0.8v0.8h-0.8zM559.5,938.6 h0.8v0.8h-0.8zM641.9,935.3 h0.8v0.8h-0.8zM627.5,907.7 h0.8v0.8h-0.8zM629.1,917.3 h0.8v0.8h-0.8zM629.6,909.3 h0.8v0.8h-0.8zM581,925.6 h0.8v0.8h-0.8zM574.4,910.4 h0.8v0.8h-0.8zM618.4,940.5 h0.8v0.8h-0.8zM640.8,932.8 h0.8v0.8h-0.8zM585.5,922.3 h0.8v0.8h-0.8zM606.1,929.3 h0.8v0.8h-0.8zM635.1,927.9 h0.8v0.8h-0.8zM638.9,922.8 h0.8v0.8h-0.8zM583.2,923.1 h0.8v0.8h-0.8zM555.8,920.7 h0.8v0.8h-0.8zM564.9,910.9 h0.8v0.8h-0.8zM632.2,947.6 h0.8v0.8h-0.8zM564.8,929.1 h0.8v0.8h-0.8zM597.4,898.8 h0.8v0.8h-0.8zM580.8,926 h0.8v0.8h-0.8zM592,928 h0.8v0.8h-0.8zM560.6,930.5 h0.8v0.8h-0.8zM608.3,906.5 h0.8v0.8h-0.8zM604.4,948.7 h0.8v0.8h-0.8zM632.8,930.7 h0.8v0.8h-0.8zM600.4,938.2 h0.8v0.8h-0.8zM594.5,935.8 h0.8v0.8h-0.8zM587.4,927.2 h0.8v0.8h-0.8zM619,928.9 h0.8v0.8h-0.8zM607.6,917.5 h0.8v0.8h-0.8zM585.4,932.9 h0.8v0.8h-0.8zM593.8,920.8 h0.8v0.8h-0.8zM587.9,912.3 h0.8v0.8h-0.8zM609.6,945.5 h0.8v0.8h-0.8zM571.9,932.6 h0.8v0.8h-0.8zM601.3,931.9 h0.8v0.8h-0.8zM612.8,918.4 h0.8v0.8h-0.8zM555.7,916.4 h0.8v0.8h-0.8zM600.4,931.4 h0.8v0.8h-0.8zM635.9,933 h0.8v0.8h-0.8zM612,915.6 h0.8v0.8h-0.8zM624.3,903.1 h0.8v0.8h-0.8zM632.3,923.5 h0.8v0.8h-0.8zM594.5,935 h0.8v0.8h-0.8zM602.3,952.2 h0.8v0.8h-0.8zM606.8,908.6 h0.8v0.8h-0.8zM574.7,952.3 h0.8v0.8h-0.8zM601.1,912.4 h0.8v0.8h-0.8zM586.7,908.6 h0.8v0.8h-0.8zM576.9,903.4 h0.8v0.8h-0.8zM640.2,937.4 h0.8v0.8h-0.8zM586.3,902 h0.8v0.8h-0.8zM640.2,946.2 h0.8v0.8h-0.8zM563.1,945 h0.8v0.8h-0.8zM603,951.5 h0.8v0.8h-0.8zM593.3,920.4 h0.8v0.8h-0.8zM555.5,928.4 h0.8v0.8h-0.8zM575.7,945.7 h0.8v0.8h-0.8zM574.4,945.8 h0.8v0.8h-0.8zM584,941.5 h0.8v0.8h-0.8zM617.3,948.6 h0.8v0.8h-0.8zM605.1,916.2 h0.8v0.8h-0.8zM577.8,909.1 h0.8v0.8h-0.8zM563.8,912.7 h0.8v0.8h-0.8zM582.5,942.4 h0.8v0.8h-0.8zM555.4,924.2 h0.8v0.8h-0.8zM599.2,904.8 h0.8v0.8h-0.8zM615.5,907.5 h0.8v0.8h-0.8zM619.8,905.4 h0.8v0.8h-0.8zM631.7,913.5 h0.8v0.8h-0.8zM563.1,904.3 h0.8v0.8h-0.8zM572.7,903.3 h0.8v0.8h-0.8zM582.3,950.7 h0.8v0.8h-0.8zM587.6,918.1 h0.8v0.8h-0.8zM620.7,900 h0.8v0.8h-0.8zM562.5,945 h0.8v0.8h-0.8zM583.4,905.7 h0.8v0.8h-0.8zM570.9,937.9 h0.8v0.8h-0.8zM617.1,921.9 h0.8v0.8h-0.8zM572.6,913.6 h0.8v0.8h-0.8zM584.5,910 h0.8v0.8h-0.8zM588.6,937.4 h0.8v0.8h-0.8zM557.7,950.3 h0.8v0.8h-0.8zM608.6,932.7 h0.8v0.8h-0.8zM571.6,907.3 h0.8v0.8h-0.8zM628.6,951 h0.8v0.8h-0.8zM556.1,942.1 h0.8v0.8h-0.8zM607,901.2 h0.8v0.8h-0.8zM628.4,943.6 h0.8v0.8h-0.8zM579.8,904 h0.8v0.8h-0.8zM599.7,938.2 h0.8v0.8h-0.8zM558.1,935.7 h0.8v0.8h-0.8zM565.6,917.2 h0.8v0.8h-0.8zM601.6,912.7 h0.8v0.8h-0.8zM634.5,947 h0.8v0.8h-0.8zM618.3,924.8 h0.8v0.8h-0.8zM611.4,914.6 h0.8v0.8h-0.8zM595.8,926.8 h0.8v0.8h-0.8zM591.6,921 h0.8v0.8h-0.8zM629.4,951.8 h0.8v0.8h-0.8zM619.2,944.4 h0.8v0.8h-0.8zM574.3,924.1 h0.8v0.8h-0.8zM621.7,937.3 h0.8v0.8h-0.8zM634.9,939.9 h0.8v0.8h-0.8zM597,914.5 h0.8v0.8h-0.8zM630.9,947.1 h0.8v0.8h-0.8zM601.9,939.6 h0.8v0.8h-0.8zM618.4,925.2 h0.8v0.8h-0.8zM593.5,949.7 h0.8v0.8h-0.8z" fill="#a8a8ec" opacity="0.45"/>
<path d="M555,952.4 V946.4 M555,943.9 V940.9 M555,938.8 V933 M555,931.9 V929 M555,927.3 V919.2 M555,918.4 V917.3 M556.2,952.4 V947 M556.2,945.8 V943 M556.2,942 V933.4 M556.2,931.2 V923.1 M557.7,952.4 V947.4 M557.7,945.7 V936.8 M557.7,936.2 V934.9 M559.9,952.4 V945.5 M559.9,943.8 V940.3 M559.9,938.9 V933.9 M559.9,933.1 V931.6 M561.7,952.4 V946.6 M561.7,945.3 V939.7 M561.7,938.9 V931.7 M561.7,929.9 V927.1 M561.7,925.9 V923 M561.7,921.1 V919 M561.7,916.8 V914.3 M562.8,952.4 V945.4 M562.8,943 V934.9 M562.8,934.1 V927.1 M562.8,925.7 V923.7 M565,952.4 V945.5 M565,943.9 V935.9 M566.2,952.4 V949.6 M566.2,947.8 V943.7 M566.2,943.1 V939.9 M566.2,937.7 V934.6 M566.2,932.3 V929.3 M566.2,926.9 V924.5 M566.2,922.7 V917 M568.3,952.4 V943.4 M568.3,941.8 V934.1 M568.3,933.1 V931 M569.8,952.4 V944.2 M569.8,942.6 V933.7 M569.8,931.4 V931.2 M570.9,952.4 V945.4 M570.9,944.7 V942.2 M570.9,941.5 V938 M570.9,936 V928.6 M570.9,926.7 V922.1 M570.9,919.7 V916.7 M572.4,952.4 V945.2 M572.4,943.1 V935.9 M572.4,934.7 V930.1 M574,952.4 V949.3 M574,947.1 V939.5 M574,937.4 V934.8 M574,933.8 V926.5 M574,924.4 V923.7 M575.5,952.4 V947.1 M575.5,946 V941.3 M575.5,939.2 V935 M575.5,933.1 V931 M577,952.4 V945.9 M577,943.7 V937.2 M577,934.7 V932.4 M577,931.1 V927.7 M577,925.7 V921.6 M577,919.8 V915.6 M578.7,952.4 V948.6 M578.7,946.8 V940.4 M578.7,939.5 V932.5 M578.7,931.9 V929.5 M580.8,952.4 V943.4 M580.8,941.5 V935.5 M580.8,933.9 V928.2 M580.8,925.8 V917 M580.8,915.6 V913.7 M582.3,952.4 V943.9 M582.3,942.2 V939.6 M582.3,938.1 V935.2 M582.3,933.6 V925.9 M582.3,924 V918.7 M582.3,917.9 V917 M583.8,952.4 V945.7 M583.8,944.4 V939.6 M583.8,938.3 V935.1 M585.6,952.4 V947.4 M585.6,945.4 V939.9 M585.6,939 V935.2 M585.6,933.5 V926.9 M585.6,925.1 V924 M587.4,952.4 V948.6 M587.4,947.9 V941.5 M587.4,939.3 V930.6 M587.4,928.5 V922.4 M588.7,952.4 V944.4 M588.7,943.3 V937.9 M588.7,936.3 V934.2 M588.7,933.5 V930.1 M590.6,952.4 V949.3 M590.6,946.8 V943.6 M590.6,941.5 V935.4 M592.4,952.4 V945 M592.4,943.1 V940.8 M592.4,938.4 V934.4 M594,952.4 V946.4 M594,945.8 V937.8 M594,936.3 V933.6 M594,932.1 V928.7 M594,927.4 V923.1 M595.1,952.4 V943.6 M595.1,941.9 V938.6 M595.1,936.8 V933.1 M595.1,932.5 V929.5 M596.2,952.4 V943.6 M596.2,943 V935.8 M596.2,935 V932.6 M596.2,932 V929.9 M596.2,927.9 V920.1 M597.3,952.4 V947.6 M597.3,946.4 V943.1 M597.3,940.9 V938.2 M597.3,936.4 V935.3 M598.4,952.4 V943.5 M598.4,942.4 V937.3 M598.4,935.5 V931.7 M599.4,952.4 V945.6 M599.4,943.9 V939.3 M599.4,937.1 V934.7 M599.4,933.1 V927.3 M599.4,924.9 V920.4 M600.8,952.4 V947.7 M600.8,947.1 V938.2 M600.8,936.8 V933.8 M600.8,933 V930.9 M600.8,928.5 V925.6 M600.8,923.9 V922.1 M602.5,952.4 V945.7 M602.5,943.6 V940.1 M602.5,939.2 V934.3 M602.5,932.6 V929.6 M603.7,952.4 V949.3 M603.7,948.6 V946.6 M603.7,944.9 V938.9 M603.7,937.4 V931.6 M603.7,930.7 V927.2 M603.7,925.5 V920.7 M603.7,919.2 V919 M605.6,952.4 V947 M605.6,946.4 V943 M605.6,942.1 V937.4 M605.6,936.6 V934.9 M606.9,952.4 V947.8 M606.9,945.7 V939.9 M606.9,937.6 V934.7 M608.4,952.4 V947.3 M608.4,946.5 V942.9 M608.4,940.8 V938.4 M608.4,937.5 V931.2 M608.4,929.3 V924 M608.4,922.2 V917.3 M609.3,952.4 V943.6 M609.3,941.9 V937.5 M609.3,935.8 V927 M610.8,952.4 V944.4 M610.8,943.5 V936.8 M610.8,935.7 V931.2 M610.8,929.1 V924.6 M610.8,922.3 V916.9 M611.8,952.4 V950.2 M611.8,947.9 V939.7 M611.8,938.2 V933 M611.8,930.6 V926.7 M612.9,952.4 V944.8 M612.9,943.2 V936.1 M612.9,934 V927.3 M612.9,926.6 V920 M612.9,917.8 V914.3 M614.6,952.4 V948.8 M614.6,947 V938 M614.6,937.3 V931.8 M615.6,952.4 V948.3 M615.6,946.4 V943.5 M615.6,942.2 V935.9 M615.6,933.9 V932.5 M616.7,952.4 V946.2 M616.7,944.6 V938.4 M616.7,937.1 V933.4 M616.7,931.6 V923.5 M618.5,952.4 V948.6 M618.5,947 V939.2 M618.5,937.4 V935.4 M618.5,933.8 V926.1 M618.5,925.2 V920.5 M618.5,918 V913.4 M620.2,952.4 V947.2 M620.2,944.9 V938 M620.2,936.7 V930.4 M620.2,929.3 V926.9 M620.2,925.4 V923.1 M620.2,922 V916 M621.3,952.4 V947.9 M621.3,946.5 V943.5 M621.3,941.4 V938.3 M621.3,936.7 V932.8 M622.4,952.4 V944.5 M622.4,943.9 V940.6 M622.4,939.9 V932.9 M623.6,952.4 V949.2 M623.6,947.7 V940.6 M623.6,938.9 V936.4 M623.6,935.8 V932.6 M623.6,930.2 V926.1 M624.6,952.4 V949 M624.6,946.7 V938.3 M624.6,936.2 V930.5 M626.5,952.4 V945.3 M626.5,944.8 V938 M626.5,936.6 V934.8 M628,952.4 V946.3 M628,944.6 V942.5 M628,941.6 V937.8 M628,935.9 V929.3 M629.9,952.4 V949.4 M629.9,948.4 V942.3 M629.9,940.3 V935.4 M629.9,933.5 V930.5 M631,952.4 V946.3 M631,945.6 V937.1 M631,936.6 V934.2 M633.2,952.4 V950.2 M633.2,948.3 V943.7 M633.2,941.6 V936.4 M634.9,952.4 V948.1 M634.9,947.2 V940.6 M634.9,939 V936.7 M634.9,935.8 V930.8 M634.9,930.1 V929.8 M636.2,952.4 V945.2 M636.2,944.6 V938.4 M636.2,935.9 V929.7 M637.4,952.4 V948.1 M637.4,947.1 V944 M637.4,943 V937.5" stroke="#b8b8ee" stroke-width="0.8" opacity="0.5" fill="none"/>
<path d="M548.8,890.4 V960.3" stroke="#dddddd" stroke-width="0.9" fill="none"/>
<path d="M548.8,890.4 H652.6" stroke="#555555" stroke-width="0.9" fill="none"/>
<path d="M652.6,890.4 V960.3" stroke="#e0e0e0" stroke-width="0.9" fill="none"/>
<path d="M548.8,960.3 H652.6" stroke="#e0e0e0" stroke-width="0.9" fill="none"/>
<path d="M548.8,952.9 h1.6 M548.8,939.1 h1.6 M548.8,925.3 h1.6 M548.8,911.6 h1.6 M548.8,897.8 h1.6 M548.8,960.3 v-1.6 M560.3,960.3 v-1.6 M571.9,960.3 v-1.6 M583.4,960.3 v-1.6 M594.9,960.3 v-1.6 M606.5,960.3 v-1.6 M618,960.3 v-1.6 M629.5,960.3 v-1.6 M641.1,960.3 v-1.6 M652.6,960.3 v-1.6" stroke="#bbbbbb" stroke-width="0.8" fill="none"/>
<text x="547.6" y="956.6" font-size="11.1" text-anchor="end" fill="#222" class="it">0.0</text>
<text x="547.6" y="942.8" font-size="11.1" text-anchor="end" fill="#222" class="it">0.5</text>
<text x="547.6" y="929" font-size="11.1" text-anchor="end" fill="#222" class="it">1.0</text>
<text x="547.6" y="915.3" font-size="11.1" text-anchor="end" fill="#222" class="it">1.5</text>
<text x="547.6" y="901.5" font-size="11.1" text-anchor="end" fill="#222" class="it">2.0</text>
<text x="548.8" y="970.1" font-size="11.1" text-anchor="middle" fill="#222" class="it">0.10</text>
<text x="571.9" y="970.1" font-size="11.1" text-anchor="middle" fill="#222" class="it">0.15</text>
<text x="594.9" y="970.1" font-size="11.1" text-anchor="middle" fill="#222" class="it">0.20</text>
<text x="618" y="970.1" font-size="11.1" text-anchor="middle" fill="#222" class="it">0.25</text>
<text x="641.1" y="970.1" font-size="11.1" text-anchor="middle" fill="#222" class="it">0.30</text>
<rect x="400.6" y="783.5" width="266" height="193.9" fill="none" stroke="#333" stroke-width="1.5"/>
<path d="M400.6,966 h5.2 M400.6,954.6 h3.0 M400.6,943.2 h5.2 M400.6,931.8 h3.0 M400.6,920.4 h5.2 M400.6,909 h3.0 M400.6,897.6 h5.2 M400.6,886.2 h3.0 M400.6,874.7 h5.2 M400.6,863.3 h3.0 M400.6,851.9 h5.2 M400.6,840.5 h3.0 M400.6,829.1 h5.2 M400.6,817.7 h3.0 M400.6,806.3 h5.2 M400.6,794.9 h3.0 M430.2,977.4 v-3.0 M459.7,977.4 v-5.2 M489.3,977.4 v-3.0 M518.8,977.4 v-5.2 M548.4,977.4 v-3.0 M577.9,977.4 v-5.2 M607.5,977.4 v-3.0 M637,977.4 v-5.2" stroke="#2a2a2a" stroke-width="1.2" fill="none"/>
<text x="394.5" y="971.6" font-size="16" text-anchor="end" fill="#111">-0.4</text>
<text x="394.5" y="948.8" font-size="16" text-anchor="end" fill="#111">-0.2</text>
<text x="394.5" y="926" font-size="16" text-anchor="end" fill="#111">0.0</text>
<text x="394.5" y="903.2" font-size="16" text-anchor="end" fill="#111">0.2</text>
<text x="394.5" y="880.3" font-size="16" text-anchor="end" fill="#111">0.4</text>
<text x="394.5" y="857.5" font-size="16" text-anchor="end" fill="#111">0.6</text>
<text x="394.5" y="834.7" font-size="16" text-anchor="end" fill="#111">0.8</text>
<text x="394.5" y="811.9" font-size="16" text-anchor="end" fill="#111">1.0</text>
<text x="394.5" y="789.1" font-size="16" text-anchor="end" fill="#111">1.2</text>
<text x="400.6" y="996.7" font-size="16" text-anchor="middle" fill="#111">0.10</text>
<text x="459.7" y="996.7" font-size="16" text-anchor="middle" fill="#111">0.15</text>
<text x="518.8" y="996.7" font-size="16" text-anchor="middle" fill="#111">0.20</text>
<text x="577.9" y="996.7" font-size="16" text-anchor="middle" fill="#111">0.25</text>
<text x="637" y="996.7" font-size="16" text-anchor="middle" fill="#111">0.30</text>
<text x="533.6" y="1019.4" font-size="19.2" text-anchor="middle" fill="#111">SWC (m<tspan dy="-7" font-size="12">3</tspan><tspan dy="7"> m</tspan><tspan dy="-7" font-size="12">-3</tspan><tspan dy="7">)</tspan></text>
<text transform="translate(357.7,880.5) rotate(-90)" font-size="19.6" text-anchor="middle" fill="#111">GPP (mg CO<tspan dy="5.5" font-size="12.6">2</tspan><tspan dy="-5.5"> m</tspan><tspan dy="-8.3" font-size="12.6">-2</tspan><tspan dy="8.3"> s</tspan><tspan dy="-8.3" font-size="12.6">-1</tspan><tspan dy="8.3">)</tspan></text>
<text x="414.7" y="811.8" font-size="22" fill="#111">(h)</text>
</g>
</svg></body></html>
